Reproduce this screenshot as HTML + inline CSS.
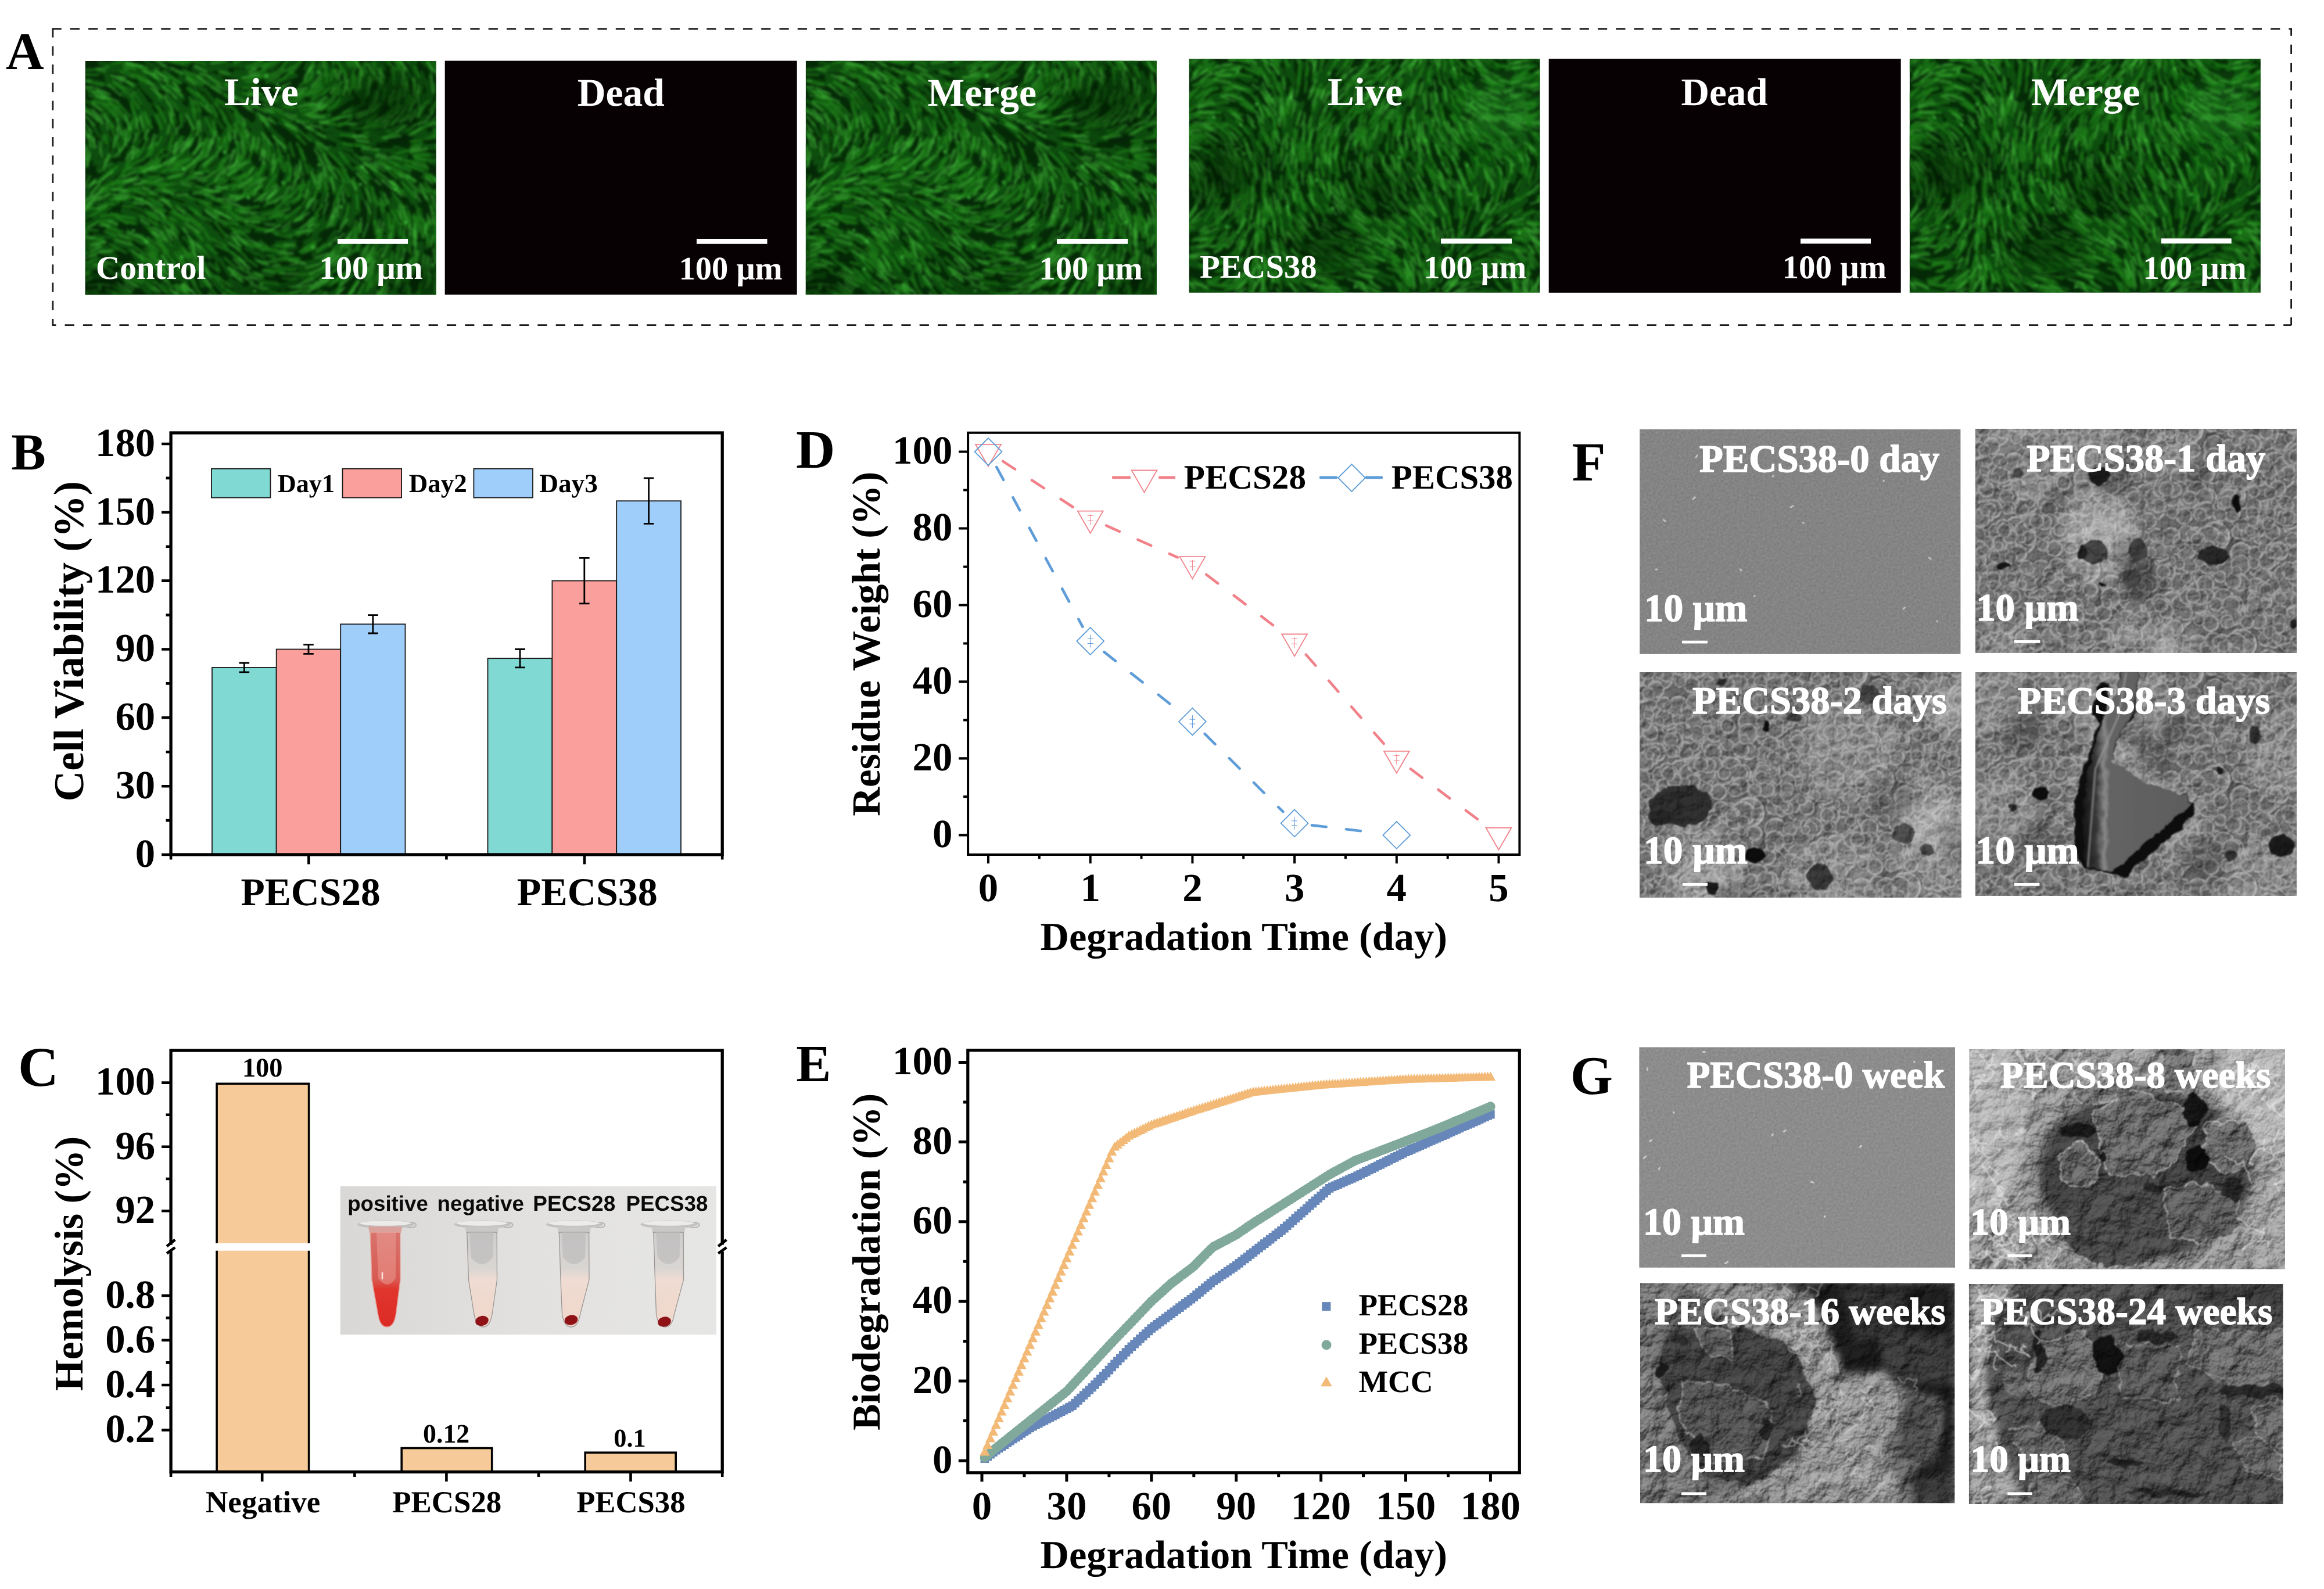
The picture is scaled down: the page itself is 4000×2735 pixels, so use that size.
<!DOCTYPE html>
<html><head><meta charset="utf-8"><title>Figure</title>
<style>
html,body{margin:0;padding:0;background:#fff}
svg{display:block}
text{font-family:"Liberation Serif",serif;font-weight:bold}
</style></head><body>
<svg width="4000" height="2735" viewBox="0 0 4000 2735" text-rendering="geometricPrecision">
<defs><clipPath id="clipA"><rect width="604.2" height="402.6"/></clipPath><filter id="blurA" x="-2%" y="-2%" width="104%" height="104%"><feGaussianBlur stdDeviation="2.1"/></filter><filter id="blurD" x="-50%" y="-50%" width="200%" height="200%"><feGaussianBlur stdDeviation="22"/></filter><g id="gA" clip-path="url(#clipA)"><rect width="604.2" height="402.6" fill="#052907"/><g filter="url(#blurA)" fill="none" stroke-linecap="round"><path d="M192 252l-21 -27M614 101l15 -14M24 72l14 20M499 311l-9 22M94 137l-12 16M83 365l-21 -15M581 404l3 19M144 301l-21 -17M176 -3l17 1M146 115l-9 24M298 229l-18 4M179 81l12 26M287 126l0 30M379 287l-33 10M12 70l26 9M305 120l9 19M536 405l2 19M365 79l30 -4M164 187l-27 6M189 195l-33 11M297 398l-29 -8M303 274l-22 -4M-2 169l-4 29M421 375l-26 16M337 136l10 15M324 257l-22 5M452 214l5 16M158 126l-19 24M148 405l-15 -21M455 97l18 -8M454 323l-9 23M270 201l-15 11M507 16l-6 -25M81 365l-15 -13M273 -4l29 -12M71 312l-26 -16M410 398l-14 10M534 36l-7 -21M398 301l-20 11M553 -2l-19 -11M606 70l11 -28M385 180l12 32M27 111l10 28M421 114l28 -7M346 334l-23 -2M119 298l-19 -19M32 367l-31 8M238 125l-2 28M577 329l-8 27M177 222l-28 -2M466 344l-20 22M31 109l12 27M-9 355l-20 15M460 29l-6 -36M400 213l-5 20M33 350l-23 -6M471 195l23 25M477 154l27 7M162 375l-21 -19M51 131l-4 33M358 94l32 12M542 65l11 -26M263 170l-14 25M36 7l19 6M496 354l-10 26M390 63l27 -26M563 5l-24 -25M557 389l-5 25M330 73l27 9M538 380l-6 27M25 231l-27 13M311 179l-9 23M135 179l-16 6M125 21l17 5M-4 297l-31 15M87 94l-0 19M73 405l-16 -12M255 224l-16 7M394 359l-23 1M490 77l9 -25M36 30l29 15M339 61l22 -3M216 39l26 21M416 28l13 -24M482 337l-15 25M84 245l-17 -4M499 84l12 -27M607 269l-0 22M77 319l-30 -15M226 67l15 13M267 323l-26 -15M2 300l-28 13M276 18l31 -19M463 288l-23 30M159 362l-7 -20M394 3l-3 -21M513 51l-3 -37M572 398l3 29M613 55l0 -29M607 299l1 33M555 357l1 19M146 295l-27 -17M240 188l-21 16M196 84l3 26M542 93l16 -17M551 216l17 23M179 161l-17 20M592 242l10 22M447 52l12 -25M380 39l21 -22M573 94l15 -30M520 263l-2 28M107 211l-19 2M523 101l14 -13M467 174l25 28M3 401l-27 9M453 246l-1 32M266 298l-24 -17M506 173l26 11M435 240l-6 16M609 174l16 10M-7 364l-27 9M372 154l3 16M222 309l-17 -26M83 153l-11 17M51 352l-32 -14M235 86l17 31M321 174l-3 30M473 402l-9 26M127 63l20 25M275 140l0 17M165 200l-27 3M483 128l37 -9M419 188l11 22M340 60l31 -13M88 272l-20 -1M498 153l32 1M520 94l24 -27M131 6l17 9M-4 124l13 11M558 124l23 -6M53 5l25 5M328 393l-25 3M530 63l-1 -34M254 219l-29 4M315 202l-13 16M564 138l18 -7M205 11l38 5M83 84l11 19M0 68l29 16M184 317l-15 -13M351 17l7 -23M479 186l9 15M335 106l14 8M423 317l-30 16M366 214l-19 20M527 336l-3 20M570 324l-11 32M539 64l-0 -30M430 345l-19 21M440 10l-14 -33M312 112l28 24M134 235l-23 -6M470 308l1 18M568 23l-7 -26M488 30l-8 -15M173 89l15 25M399 264l-12 11M340 165l2 24M332 224l-16 10M60 305l-23 -2M266 286l-18 -15M350 405l-32 -5M586 393l-2 22M206 185l-19 10M229 133l-5 26M277 277l-31 -11M29 304l-24 8M324 291l-29 1M176 156l-22 20M322 68l25 1M584 279l2 20M348 266l-17 7M530 362l-1 19M379 13l12 -28M352 178l-10 36M614 84l8 -19M548 406l0 18M205 385l-12 -24M451 329l-17 25M521 401l-6 29M236 310l-24 -26M140 43l22 23M340 218l-27 26M119 381l-14 -15M609 380l3 20M446 197l20 29M79 308l-20 -6M78 12l25 14M387 131l23 19M552 218l13 16M567 264l5 28M285 174l-8 15M103 189l-29 3M350 355l-31 1M116 242l-28 -2M506 349l-15 29M544 208l17 15M490 243l-2 30M201 -0l34 10M259 18l26 -0M418 132l30 11M286 124l11 34M3 297l-33 18M392 322l-16 5M406 339l-20 11M435 123l28 6M215 42l28 18M481 217l11 23M383 351l-32 8M524 76l8 -25M161 -1l18 4M435 146l25 9M142 366l-15 -19M394 103l31 -0M-7 279l-22 28M611 274l-6 34M306 123l9 23M436 372l-20 12M540 2l-19 -10M572 315l-2 32M538 188l25 20M175 386l-17 -27M43 191l-20 18M328 224l-19 26M462 230l6 32M228 265l-25 -18M216 286l-15 -10M261 262l-22 -4M293 219l-31 17M553 224l10 20M224 185l-16 3M250 409l-21 -20M608 349l-2 19M543 3l-25 -21M287 109l7 19M500 134l29 -10M55 207l-28 18M34 226l-22 22M188 290l-18 -20M213 324l-16 -20M280 34l17 -1M443 353l-15 7M438 264l-10 19M454 55l10 -28M107 33l31 17M293 107l13 21M39 36l24 12M424 157l18 21M390 211l-5 33M130 114l3 37M204 310l-16 -18M123 357l-11 -15M253 42l25 2M541 11l-18 -29M156 167l-16 12M547 122l36 -3M88 279l-36 -8M522 241l9 25M495 330l-11 16M453 298l-10 17M292 188l-12 21M322 84l33 18M159 249l-25 -11M169 132l-13 22M136 351l-22 -18M527 158l16 2M306 99l20 25M14 225l-11 12M200 128l-2 18M604 409l9 27M408 206l4 19M579 76l-1 -38M213 254l-23 -3M122 324l-25 -24M282 109l22 25M118 323l-14 -16M583 192l27 13M430 294l-11 16M586 347l-4 15M198 282l-22 -8M128 91l3 24M85 74l20 19M199 221l-37 -5M362 5l1 -19M-4 340l-18 7M348 84l23 3M59 176l-13 10M363 401l-24 -3M432 75l28 -12M341 108l27 23M364 401l-25 7M592 281l1 36M601 281l5 35M271 22l25 -4M62 146l-4 17M12 48l31 19M577 399l4 30M562 350l-13 30M53 287l-22 -6M177 47l24 29M409 162l15 24M139 85l-0 20M377 210l-10 29M39 95l14 25M280 257l-37 -6M258 58l24 13M202 324l-16 -12M215 227l-18 1M528 249l5 31M613 53l-2 -19M212 132l-8 20M49 327l-26 -12M297 132l10 31M600 117l28 -24M408 412l-24 13M265 36l27 7M293 333l-20 -21M477 67l8 -15M341 364l-32 -4M236 22l33 2M471 137l27 6M425 190l10 17M234 192l-26 13M124 335l-11 -13M201 355l-19 -23M534 64l5 -18M593 72l5 -32M91 264l-25 -9M181 71l15 24M448 194l10 19M408 118l31 4M129 346l-11 -16M10 143l13 33M279 171l-8 16M544 339l-1 35M131 24l32 12M534 192l23 6M329 177l-7 30M78 203l-18 7M454 6l-8 -16M343 11l11 -21M578 388l-1 29M174 238l-22 -5M236 4l36 2M482 123l32 -14M448 28l3 -33M510 226l6 20M62 124l-1 26M385 126l22 17M151 202l-22 5M42 267l-27 13M544 265l12 20M150 341l-12 -35M404 307l-27 14M65 236l-22 5M412 52l15 -19M364 93l32 4M556 80l13 -26M211 384l-15 -15M508 246l9 34M331 190l-18 29M10 232l-14 15M265 22l20 -1M604 309l1 25M70 174l-21 14M532 281l-1 20M467 47l7 -30M159 73l21 27M201 388l-6 -22M57 274l-23 1M406 83l18 -7M94 16l31 15M234 40l18 6M411 7l-2 -21M361 266l-34 16M199 262l-15 -10M4 33l36 7M448 370l-9 14M114 404l-19 -17M524 272l-2 32M281 230l-31 5M91 215l-16 4M68 319l-17 -5M205 164l-16 8M307 11l22 -19M227 167l-20 16M513 115l33 -19M579 313l2 32M127 407l-17 -28M512 73l6 -21M106 393l-22 -15M206 49l20 27M135 138l-5 17M587 42l-8 -22M23 215l-12 13M407 105l27 -6M438 60l26 -27M319 146l3 22M515 13l-19 -21M180 338l-21 -29M178 30l25 20M400 370l-21 8M99 268l-35 -1M66 269l-20 -4M34 79l21 20M419 192l14 27M57 98l8 23M474 282l-7 20M80 107l4 16M83 233l-28 3M359 225l-17 14M516 303l-5 21M563 160l29 6M0 401l-22 12M593 72l11 -30M520 4l-22 -15M338 101l18 12M296 99l7 15M146 73l9 32M7 326l-21 11M146 326l-14 -15M54 324l-19 -1M387 44l8 -24M335 92l16 5M371 408l-21 2M111 395l-18 -16M462 233l-2 35M549 352l-7 27M49 179l-24 26M541 101l23 -18M-9 233l-16 21M404 48l17 -30M456 90l24 -18M416 353l-29 18M589 147l19 -2M555 47l-5 -20M20 15l26 13M150 189l-36 1M114 379l-26 -18M439 191l23 23M601 380l5 23M305 372l-15 -8M93 224l-27 3M64 300l-26 -9M262 141l-3 32M34 303l-17 -2M318 89l20 11M182 74l5 28M91 50l15 23M526 173l33 12M72 402l-24 -5M468 249l-13 34M175 293l-23 -23M392 100l26 -1M544 38l-6 -22M285 175l-9 16M411 269l-17 30M248 129l-4 22M217 88l20 27M329 382l-23 -3M538 348l-5 21M160 297l-24 -24M451 340l-12 13M224 303l-21 -27M551 71l5 -18M419 276l-12 14M396 360l-32 11M500 385l-15 30M517 412l-4 26M518 283l6 25M137 120l-8 29M374 272l-19 2M532 252l6 26M581 200l26 7M110 370l-13 -16M110 75l4 16M204 311l-28 -24M15 239l-20 18M570 59l-3 -26M475 95l27 -19M362 321l-21 2M21 276l-19 10M506 399l-10 23M153 217l-19 -1M53 336l-22 -5M133 208l-30 8M181 130l-11 34M24 151l-8 26M571 120l20 -13M135 209l-27 -0M535 272l6 25M495 97l12 -18M573 68l7 -21M600 357l5 34M170 224l-31 -7M149 96l-0 23M529 209l14 17M481 133l32 -3M614 298l-1 19M173 -5l18 4M263 396l-16 -16M417 78l31 -16M582 365l0 24M246 45l26 9M70 123l-7 29M586 150l34 -3M76 116l-1 21M518 180l28 15M419 87l27 -17M195 166l-21 23M538 377l-10 30M39 251l-28 5M-1 144l1 32M199 1l27 3M576 96l8 -37M224 155l-26 28M219 325l-7 -22M590 51l5 -31M549 220l20 22M447 324l-14 18M104 260l-24 -11M423 39l7 -25M199 254l-25 -13M31 150l-1 23M508 293l-4 25M201 296l-23 -20M83 382l-19 -11M498 310l-7 30M221 307l-22 -11M3 280l-22 7M326 159l5 29M475 16l-9 -16M478 394l-6 22M259 85l6 21M543 327l-6 24M21 59l31 16M392 198l-3 27M385 116l28 16M357 315l-34 4M197 252l-22 -7M329 193l-3 23M443 10l-13 -26M139 32l19 14M403 -1l-7 -16M218 35l18 8M275 25l35 -1M162 326l-13 -27M283 290l-20 -5M123 143l-24 11M268 61l14 14M512 247l5 36M324 155l-6 29M-1 322l-26 8M40 132l-2 27M119 296l-22 -20M355 67l33 -18M249 52l24 7M603 224l21 28M96 11l23 6M7 118l7 23M601 -4l-17 -13M389 403l-36 13M220 332l-28 -21M584 221l22 18M283 186l-27 26M525 284l-2 26M393 195l0 23M286 197l-24 26M379 87l19 4M322 402l-32 -3M37 270l-21 -0M225 385l-20 -31M49 233l-15 9M62 178l-15 15M306 199l-15 23M268 10l31 -16M32 370l-34 -0M498 346l-13 34M410 34l6 -23M525 4l-15 -18M329 326l-20 0M562 152l26 8M421 148l25 16M7 259l-18 10M495 35l-5 -29M19 65l24 21M100 85l8 23M170 279l-23 -18M123 167l-20 28M269 113l6 19M528 166l27 11M597 371l-3 35M231 307l-18 -20M131 203l-28 -5M613 51l2 -16M266 142l-7 27M266 95l8 15M243 9l36 -2M596 394l2 26M124 272l-15 -11M484 45l2 -26M249 369l-18 -29M135 135l-26 26M163 27l20 14M586 234l20 23M324 388l-17 -3M138 97l-2 21M69 274l-31 -5M440 166l22 21M579 131l15 -6M327 205l-23 28M322 146l5 17M610 372l0 23M586 366l-2 27M187 24l25 10M527 397l-10 34M361 311l-31 2M590 371l-4 37M109 220l-27 1M415 128l24 1M99 39l31 21M392 198l-5 26M384 57l24 -11M442 369l-22 17M587 383l-0 33M113 273l-8 -17M603 130l17 -11M517 361l-1 26M205 331l-25 -27M567 129l19 -7M143 179l-16 13M217 -9l28 2M146 40l14 19M94 38l28 23M48 228l-27 5M595 13l-15 -13M267 387l-17 -10M467 55l12 -31M91 131l-18 30M354 183l-4 20M371 -7l-1 -27M348 218l-21 25M231 151l-11 14M220 24l21 12M274 168l-20 31M533 148l34 10M77 66l11 17M114 354l-20 -14M105 114l-0 21M612 48l5 -35M273 5l34 -11M303 187l-13 13M494 187l19 20M572 340l-6 20M355 75l22 -5M465 350l-10 13M344 220l-17 24M209 222l-21 3M610 -8l-18 -27M379 372l-26 7M166 221l-21 -4M570 17l-8 -25M131 20l26 20M162 367l-22 -19M281 197l-17 12M466 383l-18 30M13 277l-18 6M83 266l-19 -7M275 403l-27 -3M479 58l5 -24M611 78l15 -28M20 259l-24 14M235 179l-23 10M487 378l-10 21M478 68l8 -21M32 325l-26 6M236 186l-18 14M576 255l6 30M294 90l11 13M245 323l-19 -27M452 41l-4 -19M20 37l30 7M322 213l-23 26M161 318l-10 -20M246 85l13 24M72 411l-34 -11M563 -7l-28 -18M309 186l-22 27M242 120l3 28M349 292l-16 2M380 26l15 -28M370 371l-27 14M32 310l-25 -1M524 71l6 -35M569 278l0 24M434 151l29 22M540 100l22 -31M278 265l-19 -7M577 38l-13 -35M599 382l2 31M575 81l14 -24M94 -6l32 19M368 342l-23 -4M148 0l27 8M520 59l7 -29M539 79l8 -25M383 53l15 -15M402 188l3 36M58 208l-34 8M214 124l-6 16M410 283l-16 11M97 158l-9 14M268 166l-11 15M152 230l-17 -11M15 208l-21 29M320 14l20 -18M114 85l16 26M294 9l25 -9M447 241l-9 30M312 321l-17 -4M435 125l27 -1M373 249l-14 16M263 403l-29 -14M210 385l-12 -14M585 280l7 30M102 183l-34 12M187 13l32 17M100 75l12 29M162 73l8 30M203 61l20 29M468 212l9 25M202 347l-16 -19M461 45l-2 -27M260 103l13 28M313 134l6 27M247 198l-20 13M382 73l34 -10M34 154l-12 33M401 276l-25 12M433 211l1 27M313 70l26 0M182 25l23 13M196 -1l37 3M25 301l-24 12M264 182l-22 24M41 254l-26 10M115 56l13 12M440 391l-21 12M489 226l8 20M212 -0l18 -2M-10 240l-19 30M393 353l-29 18M35 262l-18 3M142 329l-20 -23M574 108l13 -13M355 14l12 -23M483 176l14 8M119 74l21 24M165 410l-19 -13M236 171l-22 19M610 324l3 34M144 323l-11 -16M437 187l21 30M563 32l-20 -32M28 65l22 16M431 35l9 -26M110 358l-12 -23M550 302l-2 23M56 242l-17 5M360 384l-28 1M219 102l2 17M127 345l-13 -14M405 200l2 17M235 200l-32 8M171 172l-27 18M499 246l-1 34M129 335l-19 -17M440 215l-1 22M63 132l-3 19M472 107l23 -13M88 168l-22 26M399 297l-14 13M119 61l24 23M564 403l0 37M241 140l1 36M472 61l9 -27M32 372l-31 -0M533 184l15 10M128 172l-25 19M89 222l-33 9M175 377l-18 -17M171 249l-36 -11M171 412l-12 -19M610 60l9 -20M539 403l-9 36M370 51l34 -14M411 55l10 -16M157 158l-24 22M553 306l2 19M392 20l5 -34M60 28l27 15M192 152l-18 23M444 56l3 -22M514 384l-11 33M398 343l-22 6M487 114l36 -13M435 321l-26 20M437 76l16 -15M12 108l12 21M534 159l19 4M64 218l-18 3M490 384l-9 20M342 390l-31 -1M151 401l-12 -13M21 311l-27 11M218 32l27 8M579 119l20 -15M529 236l10 27M367 83l26 2M447 143l32 2M522 315l-1 27M444 367l-13 10M558 362l-8 15M30 353l-19 1M49 223l-15 10M411 229l-5 18M596 275l4 35M223 254l-20 -9M194 111l4 22M341 264l-26 6M212 97l8 29M124 153l-11 12M11 361l-33 12M423 372l-11 13M191 9l25 8M351 250l-19 6M127 301l-19 -13M604 16l-11 -20M39 16l28 2M555 179l18 6M515 37l-4 -20M235 242l-26 -8M57 244l-15 6M81 78l7 27M169 222l-32 -10M450 161l23 18M220 255l-22 -12M15 223l-24 25M479 189l9 28M614 134l21 -10M544 251l7 25M263 56l17 5M101 84l9 32M18 -8l26 2M94 351l-17 -30M32 60l26 20M92 124l-5 27M564 338l-6 24M277 102l14 16M489 328l-13 35M5 146l6 22M178 199l-31 9M104 154l-14 11M331 155l3 18M366 407l-31 7M203 253l-28 -4M98 44l25 26M228 342l-14 -17M335 226l-17 18M268 378l-21 -20M560 225l11 26M195 -4l37 1M80 24l22 11M478 42l2 -33M521 283l4 35M378 37l20 -28M289 403l-18 -8M167 196l-24 5M470 348l-13 13M150 358l-16 -29M409 14l5 -18M568 402l0 19M64 57l16 8M570 23l-20 -32M168 352l-13 -18M480 323l-11 32M388 16l14 -29M36 345l-24 -5M162 71l23 27M567 145l21 1M506 73l15 -32M148 44l19 16M466 215l4 31M500 169l35 15M72 311l-22 -4M170 292l-14 -16M57 190l-20 19M138 94l2 19M88 54l23 29M445 24l-3 -21M131 248l-15 -9M539 168l31 10M54 281l-17 -0M590 130l20 -13M320 271l-32 8M209 367l-7 -18M512 402l-11 17M151 287l-22 -27M35 12l37 3M512 385l-2 22M239 22l33 9M25 3l21 4M400 46l14 -35M176 275l-25 -17M214 314l-22 -23M529 165l22 4M464 228l8 30M539 45l-6 -29M458 115l31 2M345 403l-23 3M259 191l-27 8M344 31l13 -11M208 -10l17 -2M460 355l-15 19M300 401l-21 -10M261 264l-28 -4M308 337l-30 -14M202 276l-21 -25M392 186l-5 32M171 336l-20 -17M82 8l25 3M140 301l-13 -12M280 20l32 -2M138 69l15 33M232 23l34 1M435 97l26 -18M412 279l-20 27M517 339l-10 35M157 341l-11 -20M527 398l7 31M569 167l16 5M84 100l1 25M141 43l28 22M531 186l17 18M589 351l-10 34M186 362l-24 -26M553 251l6 31M567 163l33 -1M567 182l21 4M109 99l0 21M425 54l16 -19M549 14l-15 -26M527 315l-15 29M281 55l21 2M520 405l4 24M472 292l-15 25M109 51l29 15M174 395l-20 -8M74 178l-20 14M203 103l5 19M4 47l32 14M273 204l-18 22M336 34l27 -9M178 180l-27 15M595 174l36 11M288 203l-25 13M51 131l-1 17M136 26l26 11M148 41l9 35M250 254l-28 -1M294 185l-17 21M261 231l-19 1M347 74l33 1M106 343l-31 -18M393 -3l-1 -20M177 356l-12 -10M28 351l-19 -0M41 405l-27 -5M486 8l-13 -33M10 253l-17 14M498 137l20 -1M98 377l-10 -14M112 215l-36 8M335 -4l10 -26M504 10l-16 -25M156 18l31 8M535 238l11 19M176 90l10 27M187 47l17 21" stroke="#17740f" stroke-width="7" opacity=".5"/><path d="M498 31l-1 -19M257 4l16 -7M397 316l-20 7M331 342l-17 -8M99 169l-27 16M99 309l-26 -17M218 77l9 18M362 359l-19 -0M571 61l-6 -31M559 393l-1 16M530 -9l-20 -11M44 163l-12 25M408 -7l-6 -24M179 274l-21 -12M536 14l-12 -8M57 294l-30 -16M43 71l24 22M69 45l16 9M257 92l15 21M185 83l5 16M187 116l-12 29M288 29l26 -7M451 406l-18 24M136 -4l15 4M494 218l4 23M207 136l-5 17M567 162l25 -1M523 264l1 24M412 315l-13 12M84 271l-28 -5M511 102l19 -18M340 101l24 13M550 171l25 3M125 -2l33 5M525 405l-3 17M245 267l-26 -10M413 187l6 21M407 58l25 -18M32 408l-26 -3M117 247l-22 -6M363 13l15 -26M484 -9l-16 -10M365 142l14 29M276 194l-23 10M468 236l1 18M219 134l-15 28M125 77l13 28M276 159l-16 26M39 167l-7 18M529 289l-1 21M586 198l29 13M178 47l17 14M495 364l-9 32M194 260l-15 -7M472 396l-14 30M547 257l5 23M167 179l-15 7M365 129l14 14M240 39l18 -0M425 201l3 27M398 84l13 -9M179 404l-7 -21M378 176l5 17M30 130l-1 15M258 355l-18 -16M141 57l19 28M338 401l-21 -3M364 11l10 -13M93 220l-21 2M589 215l16 16M603 300l4 29M325 62l22 0M514 67l2 -21M90 351l-13 -4M448 266l-8 18M329 196l-20 26M334 258l-29 8M44 329l-15 -1M154 -0l15 5M531 273l-2 20M551 72l6 -14M528 185l16 15M391 66l20 -12M427 1l-11 -32M330 347l-25 -2M594 196l21 19M260 105l1 14M610 404l9 22M161 266l-19 -23M528 216l12 12M561 147l18 -5M556 1l-16 -17M21 292l-26 -2M274 346l-18 -15M202 308l-12 -14M99 238l-18 -4M315 224l-14 12M268 318l-26 -19M523 1l-13 -12M282 251l-23 6M183 68l7 20M206 292l-11 -13M176 28l26 13M457 361l-11 16M461 303l-13 16M525 207l6 14M351 409l-21 7M409 82l20 -18M552 75l8 -14M245 116l4 23M538 323l-1 19M334 17l20 -27M303 289l-26 -8M570 173l17 6M471 317l-16 17M98 382l-19 -18M396 318l-19 8M288 209l-15 13M89 7l17 6M138 371l-12 -12M438 158l15 17M384 60l23 -21M65 208l-17 6M564 177l26 7M610 328l-12 28M324 48l29 5M56 72l22 24M122 92l9 24M389 372l-25 16M277 229l-16 3M367 4l3 -22M551 283l-3 25M440 394l-12 13M201 290l-24 -21M452 305l-19 25M612 57l2 -24M13 69l32 7M165 138l-22 15M567 296l-4 18M369 171l6 26M328 48l16 -4M422 33l5 -17M301 95l14 13M170 348l-8 -20M403 19l1 -16M329 382l-31 1M207 134l-5 28M533 179l27 11M435 335l-14 15M596 171l19 -2M372 390l-23 -1M182 396l-11 -14M288 72l18 13M455 57l4 -14M259 213l-31 6M483 19l-4 -15M182 135l-17 26M193 55l20 22M130 370l-15 -22M85 23l23 10M66 196l-22 17M106 139l-16 25M431 268l-6 16M69 -8l14 4M594 132l15 -10M315 352l-18 -9M153 289l-21 -21M278 272l-22 2M608 267l-3 18M536 256l15 29M418 83l13 -7M558 310l2 22M534 333l-1 21M28 91l20 22M465 14l-15 -24M334 218l-20 18M251 -6l17 -7M98 93l4 22M553 119l13 -7M132 259l-13 -9M-3 410l-26 15M378 213l-17 29M369 183l-10 26M79 398l-32 -11M473 128l14 -5M49 246l-27 1M271 117l8 24M156 224l-29 -4M368 340l-31 -0M138 331l-11 -14M240 283l-19 -23M184 168l-15 8M257 -0l27 -11M515 95l23 -20M22 400l-18 8M572 97l19 -28M556 52l-4 -25M520 121l27 -11M557 260l4 30M601 270l6 15M82 53l14 21M7 59l22 5M411 204l6 24M306 134l4 17M145 382l-13 -18M286 76l26 13M612 340l-8 33M143 212l-17 -2M443 185l13 24M270 208l-17 13M349 161l3 31M356 21l10 -14M370 296l-22 6M437 108l28 1M276 337l-12 -12M498 180l17 9M342 265l-24 5M335 263l-14 5M500 20l-7 -17M272 56l33 2M240 132l-5 17M348 239l-21 16M351 199l-9 16M113 348l-18 -14M432 258l-16 29M96 182l-30 6M25 393l-33 8M604 145l33 1M164 132l-15 17M82 104l-3 15M164 198l-18 3M409 248l-12 14M611 27l-11 -29M377 259l-15 15M9 366l-24 6M188 272l-13 -9M134 153l-13 13M35 128l1 14M229 225l-27 4M281 305l-15 -14M399 240l-7 16M297 192l-16 17M130 273l-19 -14M478 21l-12 -22M121 337l-18 -14M399 383l-22 14M79 72l8 29M123 53l6 13M508 359l-16 30M369 252l-24 18M70 360l-25 -22M413 151l20 20M93 155l-22 25M183 349l-13 -16M329 138l8 26M456 399l-12 20M33 311l-27 -8M294 217l-15 15M405 396l-25 15M561 342l-1 27M474 310l-6 17M490 309l-8 29M176 148l-25 21M268 272l-23 -14M93 380l-19 -18M123 306l-10 -12M310 176l-14 27M486 109l21 -10M46 176l-22 15M162 162l-14 14M602 402l-1 25M220 268l-12 -9M276 35l16 1M385 226l-9 19M256 0l17 -3M389 289l-24 12M290 181l-14 20M486 179l24 17M363 225l-13 10M585 406l-5 18M89 324l-12 -12M401 281l-19 18M367 233l-21 14M242 319l-23 -12M585 209l10 15M557 387l0 34M397 197l0 19M424 205l4 19M55 -2l32 10M464 161l20 16M468 182l12 16M8 360l-21 5M142 329l-16 -23M397 272l-13 9M74 406l-26 -4M238 99l15 22M481 178l21 11M295 353l-18 -13M368 -10l3 -17M585 410l8 30M524 127l15 -7M192 360l-5 -16M319 325l-18 -15M49 34l16 11M509 46l0 -33M386 78l31 -6M307 174l-10 28M248 162l-16 21M70 205l-23 3M535 411l2 19M170 170l-23 8M177 167l-16 10M395 312l-26 16M265 124l8 22M487 333l-12 20M251 255l-15 -5M230 276l-12 -9M23 358l-28 -6M183 334l-17 -12M341 78l20 2M230 379l-21 -20M238 388l-11 -10M300 268l-14 -4M309 351l-17 -10M608 64l13 -29M130 214l-32 -7M602 261l6 16M11 347l-21 4M88 203l-25 5M364 191l-4 18M35 200l-25 13M189 335l-10 -15M360 226l-14 15M495 113l15 -1M43 111l9 22M353 285l-12 8M116 363l-18 -18M214 243l-18 -3M402 76l22 -10M280 274l-26 -10M563 126l28 -17M512 291l-4 17M218 256l-17 -15M572 268l6 28M195 352l-17 -19M135 280l-16 -20M512 332l-9 15M255 330l-31 -13M-1 196l-19 17M365 64l25 -14M539 411l1 29M216 150l-17 20M494 344l-13 27M560 297l-3 14M238 380l-10 -10M585 134l18 -2M376 230l-18 15M272 47l28 -2M73 101l4 31M461 45l2 -29M604 151l18 -0M603 109l14 -8M29 60l13 7M323 128l12 14M613 291l5 15M215 339l-21 -24M524 371l-11 28M123 180l-23 12M100 16l25 12M144 353l-12 -16M272 75l16 6M321 80l24 13M62 236l-18 3M208 163l-15 10M2 331l-25 8M470 286l-9 24M248 272l-22 -14M150 124l-5 28M613 374l3 32M116 170l-22 18M591 270l-2 19M46 187l-15 16M341 409l-33 3M290 213l-17 14M249 59l12 8M467 304l-14 18M370 229l-15 13M103 90l4 19M312 37l22 -11M369 216l-15 19M511 132l29 -7M91 153l-18 21M70 221l-34 -1M534 215l14 11M299 21l28 -18M164 362l-17 -22M8 198l-7 16M125 274l-20 -14M441 205l12 28M394 47l12 -17M139 398l-18 -18M148 389l-14 -21M485 62l2 -24M401 266l-15 19M392 94l25 -1M269 -3l11 -10M39 223l-20 5M53 129l5 25M316 392l-32 -5M362 375l-22 -1M467 230l2 18M401 218l-8 19M31 75l25 17M548 292l-3 30M346 175l-3 14M117 151l-22 22M119 19l26 11M456 10l-10 -17M-9 146l7 24M6 36l23 6M344 409l-17 2M427 339l-25 20M20 342l-23 5M135 263l-12 -8M531 126l21 -16M407 410l-26 15M470 1l-4 -19M356 402l-31 5M590 337l-6 29M228 361l-15 -13M402 168l9 21M574 275l9 29M196 358l-12 -11M464 128l15 1M48 274l-29 3M444 142l15 4M424 199l3 16M585 291l6 20M339 410l-27 3M567 167l16 3M228 406l-16 -19M81 405l-19 -8M200 142l-13 18M104 232l-22 -10M273 109l10 18M554 205l16 14M278 302l-25 -15M463 8l-2 -19M361 71l24 -15M532 43l-2 -30M85 90l8 32M193 276l-25 -15M503 300l-2 14M528 258l13 23M289 321l-22 -13M580 408l3 25M384 249l-15 24M390 386l-29 12M575 28l-8 -18M281 52l15 1M128 356l-19 -25M589 112l22 -22M255 214l-15 0M26 253l-20 1M344 241l-14 10M399 379l-27 19M128 319l-20 -15M8 16l32 -6M573 220l15 15M227 66l29 17M495 223l9 23M263 139l-0 18M207 272l-20 -14M151 30l14 8M46 360l-28 -10M527 284l1 21M249 74l19 23M337 405l-30 3M46 211l-22 11M70 330l-28 -15M168 187l-21 2M200 191l-23 11M602 274l2 33M538 412l-2 24M526 77l6 -13M421 365l-15 12M611 346l-3 33M471 378l-16 20M134 249l-26 -14M159 294l-13 -23M111 181l-20 12M243 303l-20 -26M136 354l-24 -21M127 198l-17 3M205 411l-18 -26M30 306l-14 -0M37 251l-27 16M326 227l-12 9M429 79l9 -13M430 183l19 27M509 324l-14 25M572 268l0 15M510 167l29 12M392 1l-8 -23M5 403l-25 2M136 161l-16 19M424 333l-26 20M539 189l30 17M212 135l-13 23M298 64l25 8M536 158l19 -3M600 204l22 14M289 201l-18 17M531 208l20 24M500 234l3 14M474 146l17 2M140 227l-21 -5M187 328l-7 -18M393 58l16 -12M427 4l-10 -25M365 399l-33 2M281 311l-21 -9M239 182l-15 9M190 126l-9 20M131 131l-7 14M49 37l25 17M257 181l-10 16M450 25l-17 -25M386 32l6 -13M559 76l2 -16M399 145l15 17M570 403l-2 24M556 95l17 -13M140 41l24 11M352 141l7 23M187 202l-23 6M191 390l-11 -17M48 77l21 26M589 299l-1 23M348 320l-19 -2M531 405l1 16M459 48l2 -24M272 410l-28 -16M467 11l-7 -28M547 210l21 25M537 90l9 -14M376 392l-31 10M396 407l-14 10M197 240l-18 -5M320 7l16 -11M431 331l-15 14M492 379l-6 14M127 177l-15 8M86 388l-18 -9M601 121l19 -14M160 178l-28 13M355 185l-3 23M558 85l9 -23M612 97l15 -12M166 130l-13 25M572 255l3 21M565 73l11 -27M560 139l20 -2M583 273l2 20M10 246l-19 14M116 229l-21 -4M118 395l-18 -19M71 184l-13 17M115 340l-25 -17M585 359l-1 14M392 -8l3 -32M121 207l-30 -4M306 82l19 7M598 16l-11 -20M390 390l-13 6M542 15l-15 -25M242 129l1 26M413 169l7 17M66 10l20 5M348 337l-31 8M76 113l2 20M407 94l15 -1M91 25l13 8M173 259l-17 -9M268 346l-18 -17M227 332l-17 -15M315 145l2 18M102 89l13 26M577 383l-4 24M5 52l31 3M465 145l18 3M267 198l-13 6M77 57l16 24M212 360l-13 -21M47 75l8 16M28 320l-20 1M570 96l16 -25M114 152l-14 18M385 207l-5 17M508 237l8 12M517 184l20 19M563 290l4 28M334 22l29 -14M-4 16l16 -1M569 406l-3 33M167 351l-12 -22M149 317l-17 -23M473 309l-11 20M46 4l18 -2M465 49l1 -20M322 80l20 5M-8 245l-26 19M333 385l-17 -3M338 142l6 14M468 51l8 -29M219 168l-12 9M463 396l-16 14M274 313l-19 -9M497 69l11 -24M571 1l-19 -21M178 395l-11 -10M116 24l20 21M608 385l-1 29M289 145l-8 30M263 281l-30 -4M208 158l-14 9M290 130l4 25M303 202l-20 8M99 315l-29 -17M148 154l-9 11M310 31l28 -10M521 342l-9 28M214 173l-9 11M593 85l14 -17M295 31l25 -7M345 327l-19 -1M364 116l24 21M84 23l24 16M317 97l11 11M475 181l11 12M156 275l-12 -7M134 307l-24 -20M260 110l11 31M275 362l-14 -7M434 358l-22 15M305 12l20 -11M603 367l2 30M65 294l-27 -7M426 99l32 -6M375 203l-5 19M277 12l27 -13M72 280l-27 -18M2 348l-21 1M55 80l17 19M195 169l-14 24M251 247l-14 -3M211 387l-9 -15M217 275l-28 -13M104 309l-12 -8M546 5l-14 -7M322 38l14 -5M87 379l-25 -19M-10 129l5 17M418 357l-28 18M498 276l2 22M567 268l11 23M477 356l-11 28M61 18l22 11M222 116l-3 27M247 279l-23 -9M108 133l-6 13M145 87l11 32M255 110l21 26M564 267l6 29M176 402l-23 -14M415 36l3 -14M441 127l25 5M408 410l-18 11M113 173l-12 13M68 15l20 11M53 301l-19 -7M160 211l-19 2M126 169l-14 11M125 140l-16 13M315 140l1 33M183 0l24 6M73 7l31 7M-6 265l-21 17M96 92l4 29M502 321l-15 27M19 394l-27 5M327 212l-15 17M412 26l5 -22M268 273l-14 -8M276 150l-9 18M318 29l23 -21M186 410l-19 -21M214 307l-11 -18M469 407l-12 29M364 105l21 -0M545 -8l-17 -10M479 383l-13 27M241 41l15 7M479 116l20 -7M93 31l23 10M217 245l-18 -3M566 165l28 7M527 111l9 -11M568 283l2 21M467 296l-8 20M388 238l-8 14M164 92l2 21M72 36l11 10M591 365l4 17M238 168l-9 19M398 322l-26 9M100 376l-18 -19M251 251l-18 -9M222 105l-0 16M330 295l-26 -6M577 211l14 15M507 291l-3 16M466 184l21 19M437 377l-15 8M371 86l21 -5M231 204l-22 11M544 341l-10 24M187 211l-23 -3M547 24l-10 -27M335 165l3 19M517 351l-14 27M337 260l-20 3M258 117l-3 16M221 105l8 31M387 18l9 -31M408 193l10 26M503 62l4 -29M535 66l14 -27M484 409l-5 20M484 106l18 -13M307 144l6 25M142 214l-18 4M83 234l-28 7M503 34l-5 -32M346 110l19 12M77 223l-16 4M114 158l-11 9M127 327l-22 -17M-4 79l17 8M425 63l16 -26M571 329l-5 28M311 25l30 -11M43 85l15 16M169 16l31 12M179 63l11 10M397 147l14 13M-3 402l-23 11M65 52l21 8M439 312l-12 12M452 128l22 3M4 403l-13 10M355 304l-29 -6M595 405l-0 31M335 61l17 -3M238 201l-27 13M404 108l27 -0M32 327l-23 6M269 375l-20 -19M176 406l-18 -22M279 125l4 29M95 88l6 28M506 172l27 16M453 250l-7 29M198 71l13 15M55 182l-14 13M462 201l5 20M280 230l-31 2M177 276l-27 -16M193 169l-27 18M529 227l20 25M136 17l20 15M270 29l22 1M271 157l-15 25M444 321l-17 9M331 169l-9 26M350 359l-20 -2M305 322l-14 -8M139 258l-31 -14M340 31l14 -13M206 97l12 25M442 216l-14 31M529 328l-2 21M550 11l-17 -28M-2 82l24 22M321 325l-27 -4M85 280l-18 -4M110 373l-11 -13M424 372l-24 19M217 222l-27 -7M491 42l-2 -14M285 228l-27 12M485 93l18 -17M559 372l-11 25M450 364l-25 17M240 57l19 18M305 215l-27 19M573 274l2 16M13 38l18 3M322 370l-26 -4M65 121l4 21M501 406l1 17M190 69l8 17M192 393l-9 -27M28 385l-23 1M250 388l-25 -18M428 64l10 -19M341 364l-31 -5M243 245l-25 -8M351 70l19 -3M551 179l29 10M220 -5l32 -4M309 271l-25 -1M232 132l-3 16M442 -5l-8 -30M231 362l-6 -14M351 232l-12 9M545 278l-4 24M123 333l-22 -21M426 65l14 -15M502 330l-22 16M554 206l19 21M205 338l-21 -22M504 366l-1 17M317 382l-16 -2M281 195l-19 11M1 298l-21 7M8 355l-32 1M375 92l29 1M437 112l21 -12M500 275l2 22M459 1l-10 -16M15 91l16 16M393 366l-22 2M603 223l21 26M173 23l19 12M212 189l-21 7M57 402l-21 -10M365 342l-33 1M-7 177l-1 18M282 294l-28 -0M586 195l14 10M306 412l-24 -5M481 112l33 -8M242 206l-13 8M68 375l-26 -12M37 66l17 15M299 250l-33 8M124 128l-13 24M-10 23l32 1M413 104l15 -3M435 174l14 14M146 92l4 15M579 285l1 19M81 101l-3 18M558 351l-9 25M305 375l-29 -12M287 12l30 -8M56 263l-29 4M114 347l-19 -14M79 251l-14 -2M276 148l-4 17M575 266l10 15M541 361l1 27M345 63l31 -7M140 176l-21 12M443 377l-8 17M370 42l20 -14M441 327l-25 21M508 241l5 18M133 308l-14 -15M471 279l-8 29M82 206l-25 11M614 331l-5 29M-8 89l12 9M155 3l25 -1M123 282l-28 -16M144 337l-19 -26M306 327l-24 -15M487 333l-23 22M265 180l-16 15M121 248l-27 -7M419 314l-19 14M225 73l16 26M466 275l-5 23M527 209l7 14M8 161l-5 21M277 175l-11 11M178 341l-10 -17M523 208l18 14M596 90l15 -30" stroke="#279622" stroke-width="4.2" opacity=".58"/><path d="M115 250l-13 -8M278 316l-21 -20M353 278l-13 9M417 244l-7 19M259 -8l19 -13M272 380l-20 -13M393 83l15 -11M92 151l-10 10M507 274l-3 20M199 364l-3 -14M154 166l-19 11M94 95l5 18M437 335l-15 13M89 302l-16 -7M596 339l-6 29M473 48l-0 -29M70 409l-21 -6M15 303l-25 3M36 312l-21 3M447 407l-13 19M131 296l-15 -10M385 96l27 1M252 271l-23 -9M208 205l-15 0M411 185l3 15M33 91l6 14M188 8l21 11M480 164l13 4M7 156l-3 25M488 58l3 -29M540 106l26 -11M89 125l-5 14M55 281l-15 -5M614 358l-5 27M97 211l-14 0M471 380l-9 13M487 316l-10 18M101 18l20 5M120 -1l18 10M225 270l-16 -11M299 377l-24 -5M252 411l-15 -10M196 103l4 18M147 251l-15 -12M599 54l-3 -29M444 224l1 18M144 242l-12 -5M37 352l-23 -1M108 118l-6 15M-6 101l17 22M515 113l8 -10M272 234l-13 6M158 141l-7 18M207 200l-19 1M445 297l-13 13M379 349l-18 -3M558 281l0 18M152 37l10 12M18 203l-13 14M445 58l3 -12M265 318l-13 -20M544 92l7 -14M223 410l-10 -11M475 270l-1 25M148 80l4 14M546 41l3 -29M282 362l-16 -21M399 124l14 7M493 88l15 -15M207 76l10 13M56 113l0 20M589 264l5 18M345 90l18 5M264 159l-7 22M401 73l14 -11M123 229l-24 -11M586 105l12 -17M8 127l11 21M514 133l29 -4M310 154l-4 22M311 201l-18 10M405 381l-18 8M281 59l15 0M42 386l-20 -2M41 160l-6 12M287 201l-23 17M2 149l-0 21M141 49l16 15M353 214l-8 15M139 380l-11 -19M461 129l25 2M310 82l11 5M225 122l-9 26M395 152l13 21M262 187l-17 9M367 79l24 -6M515 29l-10 -15M558 128l20 -13M249 122l1 14M416 398l-14 14M472 9l-9 -12M85 149l-15 20M162 113l-7 12M138 269l-24 -17M-4 35l13 -1M445 89l13 -5M467 94l15 -9M13 54l19 12M349 96l21 8M173 397l-8 -12M13 232l-15 10M202 156l-19 21M371 397l-19 2M152 229l-18 -7M222 164l-20 16M248 -4l21 -13M454 108l13 -0M224 269l-17 -13M576 214l13 25M185 134l-7 15M344 108l19 9M222 191l-13 9M503 395l-3 19M259 120l-0 21M361 317l-18 -1M452 50l-5 -23M599 323l4 25M183 138l-18 18M558 343l-3 17M465 -9l-11 -18M175 138l-11 17M437 238l-3 29M137 59l9 18M2 255l-22 10M277 174l-14 7M575 55l-2 -14M498 343l-15 24M263 173l-17 11M410 11l1 -16M171 139l-18 20M87 190l-22 11M404 378l-19 18M326 171l-4 19M477 406l-13 17M104 207l-14 4M466 136l22 3M404 105l15 1M17 280l-11 7M491 176l13 6M267 70l21 17M389 410l-26 9M75 305l-17 -6M155 375l-13 -7M99 238l-13 -1M497 23l-12 -19M567 351l-3 17M245 219l-22 -2M40 41l21 18M565 111l19 -6M304 124l17 20M463 130l14 -1M484 219l6 23M481 93l17 -21M119 126l-8 23M52 26l17 3M4 98l12 13M-2 211l-11 23M150 -3l25 0M217 4l27 -5M429 266l-9 19M140 366l-14 -24M447 -8l-11 -13M237 189l-14 17M356 332l-23 -2M379 75l23 -1M217 388l-13 -18M388 291l-24 4M145 110l-3 15M358 331l-22 -1M305 205l-15 26M361 59l15 -7M184 312l-15 -25M513 386l-7 26M71 142l-20 23M139 242l-12 -3M403 195l-2 16M520 317l-8 20M364 179l-4 18M509 395l-11 25M297 90l25 15M368 196l-13 25M3 126l8 22M477 150l28 3M422 56l8 -10M272 252l-18 -6M191 340l-7 -28M375 346l-21 5M256 62l20 8M234 224l-27 -2M360 367l-25 -1M25 321l-15 6M290 382l-21 -12M594 111l24 -13M392 377l-28 8M118 181l-19 10M378 29l15 -22M373 107l19 11M527 98l14 -21M446 390l-13 13M514 106l11 -12M203 140l-16 21M311 229l-20 12M324 130l20 19M496 338l-11 10M566 225l11 17M546 250l9 26M540 195l16 7M500 104l13 -9M608 182l13 7M134 202l-13 5M101 247l-17 -3M573 327l-5 28M276 119l5 12M537 363l-1 16M590 337l-1 13M272 74l10 10M258 179l-20 15M391 238l-10 11M71 1l27 8M355 407l-27 -4M518 408l-3 24M324 282l-14 -1M255 153l-5 16M498 75l4 -13M146 362l-6 -16M385 261l-25 16M290 132l-3 18M284 357l-20 -18M284 67l12 10M609 104l21 -12M604 380l-1 17M503 160l15 2M235 263l-12 -6M375 347l-24 -3M467 193l17 18M159 305l-12 -17M296 261l-29 -1M531 350l-7 14M482 241l9 22M114 46l20 17M389 191l7 19M474 182l12 10M196 295l-24 -15M395 281l-12 5M32 -7l22 3M429 251l-8 21M522 73l2 -12M47 326l-23 3M512 197l21 18M91 389l-22 -14M445 57l7 -24M498 75l5 -22M568 302l-1 16M13 84l17 17M300 277l-25 -1M54 101l8 26M550 324l-4 20M11 374l-23 11M72 224l-24 -3M132 375l-10 -8M15 132l2 18M265 317l-13 -18M497 353l-13 25M339 44l14 -6M80 366l-14 -10M141 350l-8 -15M257 239l-29 -2M135 363l-9 -12M194 103l-1 24M174 92l12 24M513 278l-3 12M41 283l-16 -0M89 99l-1 16M393 270l-22 18M191 407l-7 -13M432 27l-1 -12M418 405l-18 13M209 -8l24 3M383 221l-5 14M289 184l-7 10M305 151l-4 20M601 202l15 20M512 205l17 16M343 232l-20 11M370 176l-2 26M114 -4l20 3M587 202l11 9M499 205l9 8M429 333l-19 18M108 312l-20 -15M352 255l-12 4M599 17l-10 -15M217 44l16 10M458 323l-14 18M554 16l-13 -17M110 281l-14 -8M201 225l-16 4M411 162l17 24M395 237l-12 17M22 14l13 3M487 279l-9 25M17 235l-18 15M559 152l18 -3M541 105l16 -12M149 12l19 10M522 389l-10 22M24 317l-14 -1M121 15l12 11M512 39l-6 -20M496 320l-11 25M231 18l17 4M177 133l-3 14M326 366l-21 -5M500 164l26 3M565 338l-5 14M587 280l-2 17M305 371l-13 -6M116 24l26 13M422 201l7 21M-8 191l-7 27M18 46l25 12M91 198l-20 8M298 376l-16 -6M5 365l-26 10M18 208l-11 6M26 233l-18 12M45 24l19 12M108 35l17 15M432 405l-18 19M313 392l-14 -2M417 378l-15 6M418 229l-4 13M264 248l-20 -7M165 413l-9 -17M569 293l0 22M599 301l-4 18M140 310l-10 -13M560 156l28 -5M565 57l1 -27M47 191l-18 13M21 51l14 13M475 166l15 6M573 95l6 -17M557 86l12 -17M127 302l-10 -7M451 273l-15 22M330 223l-18 18M610 96l13 -23M456 299l-15 21M258 369l-12 -14M306 393l-22 -11M380 386l-25 4M549 61l4 -24M60 30l24 11M419 375l-21 6M76 231l-27 0M89 204l-23 4M377 33l10 -22M188 174l-18 15M52 134l-3 14M100 342l-19 -16M404 349l-24 7M149 308l-12 -25M19 334l-20 5M544 366l-9 20M170 260l-11 -6M315 349l-19 -5M485 353l-5 23M271 371l-16 -12M537 72l6 -15M497 174l27 12M30 59l27 11M156 165l-14 15M381 92l28 -10M264 325l-17 -12M478 26l-4 -15M331 214l-16 20M257 153l-8 24M189 400l-22 -16M446 334l-19 19M548 406l-2 29M567 280l-1 23M609 31l-7 -14M526 206l12 11M0 45l13 -0M223 234l-17 -4M555 196l14 12M408 192l-5 27M298 133l-1 18M134 25l7 9M380 410l-17 4M79 375l-24 -11M24 138l4 26M398 140l21 11M511 39l-8 -11M68 5l19 2M390 45l16 -23M20 230l-23 12M302 -1l22 -19M78 316l-26 -8M574 79l-2 -26M335 351l-12 2M133 43l9 10M35 249l-14 5M-4 115l12 16M41 161l-10 23M537 222l8 11M221 138l-12 26M-1 216l-12 15M418 181l15 20M226 43l18 7M457 295l-8 26M529 108l12 -14M515 228l6 17M272 357l-16 -16M265 235l-16 -2M272 29l26 -5M0 294l-13 5M83 393l-15 -9M198 22l16 4M435 251l-10 18M284 24l11 -4M174 29l16 12M247 180l-19 19M468 99l15 -9M131 179l-19 9M400 159l14 25M480 176l23 13M158 403l-10 -10M566 -10l-22 -15M413 354l-27 13M302 98l14 14M541 308l-3 15M529 165l16 4M146 90l2 16M525 297l-2 14M325 161l-3 16M400 81l15 -5M386 111l21 3M406 383l-22 16M42 228l-18 12M331 240l-18 6M517 343l-7 13M459 205l7 17M394 392l-21 11M-8 84l22 8M17 95l12 12M69 93l8 25M570 305l-3 26M83 147l-2 21M46 350l-18 -6M594 365l-6 25M325 228l-23 13M214 28l18 12M233 148l-8 16M177 231l-19 -1M271 136l-1 18M303 317l-19 -9M227 224l-24 -1M141 70l9 12M32 219l-16 16M217 135l-5 14M129 397l-11 -8M72 235l-21 1M524 71l8 -20M271 98l4 12M182 215l-17 -4M199 323l-17 -15M461 368l-20 18M306 62l24 6M-3 280l-27 12M611 357l1 22M417 331l-22 8M72 392l-13 -6M193 27l20 14M151 298l-9 -8M10 247l-20 17M463 392l-8 11M415 408l-15 14M70 118l1 28M535 122l17 -10M358 52l23 -5M198 133l-5 18M282 19l12 -6M215 373l-9 -15M367 366l-26 0M559 105l10 -17M75 134l-13 20M434 302l-14 15M585 334l-7 24M541 248l3 24M171 193l-29 8M152 47l15 14M27 207l-17 23M202 194l-15 -2M336 283l-26 12M80 398l-25 -16M12 72l17 14M436 32l3 -15M305 74l16 7M431 100l26 -6M37 106l3 12M387 384l-20 6M417 406l-12 9M306 154l2 20M595 250l4 29M379 114l15 5M427 328l-20 16M565 288l2 17M596 232l10 23" stroke="#4ccc44" stroke-width="2.8" opacity=".58"/><path d="M169 185h.1M331 41h.1M303 385h.1M340 209h.1M477 182h.1M166 338h.1M101 358h.1M534 221h.1M312 26h.1M105 311h.1M440 251h.1M83 292h.1M598 351h.1M402 179h.1M256 62h.1M25 390h.1M240 157h.1M292 396h.1M552 278h.1M474 212h.1M392 320h.1M402 20h.1M281 236h.1M406 375h.1" stroke="#4fe04a" stroke-width="4"/></g><g filter="url(#blurD)" fill="#021a02" opacity=".6"><ellipse cx="520" cy="70" rx="70" ry="45"/><ellipse cx="20" cy="390" rx="60" ry="30"/><ellipse cx="580" cy="380" rx="50" ry="30"/><ellipse cx="330" cy="395" rx="70" ry="18"/></g></g><g id="gB" clip-path="url(#clipA)"><rect width="604.2" height="402.6" fill="#052907"/><g filter="url(#blurA)" fill="none" stroke-linecap="round"><path d="M526 233l3 -38M175 183l3 -21M282 88l21 -27M451 391l18 -27M205 376l-14 -9M262 80l17 -21M159 59l-13 -16M378 323l-13 -19M347 377l-35 -13M93 76l-27 -25M87 55l-20 -8M281 154l12 -33M512 11l-16 -14M180 210l5 -31M511 397l29 24M334 333l-21 -22M383 42l10 -23M172 202l2 -23M-4 221l-3 -17M555 185l-10 -24M116 370l11 -32M132 141l-10 -14M434 211l-20 -26M336 339l-28 -11M77 151l-23 -30M130 96l-12 -20M353 189l-3 -20M593 386l-3 17M90 135l-11 -20M523 375l15 17M-0 386l28 19M14 144l-36 3M93 372l5 -28M148 369l0 -23M289 211l-8 -22M22 159l-31 -17M66 191l-3 -16M308 226l-4 -16M45 40l-16 8M602 314l23 30M33 282l10 -29M517 276l12 -16M365 112l6 -27M81 26l-19 -0M198 307l-9 -14M516 201l-13 -32M608 97l-30 4M537 49l-17 -4M125 181l-9 -24M426 375l6 -18M446 2l-3 -17M480 250l-6 -30M201 369l-24 -8M250 196l4 -32M601 244l30 -13M565 382l2 33M561 203l-5 -26M394 86l9 -36M294 214l-3 -18M561 279l24 -5M397 226l-9 -28M391 181l-6 -22M222 59l17 -29M10 287l12 -11M229 163l8 -22M35 255l9 -24M91 261l4 -23M449 14l-0 -32M263 410l-28 0M242 221l-0 -34M108 403l12 -21M499 115l-14 -8M220 282l-19 -32M499 362l17 1M535 270l10 -14M20 314l20 -8M54 102l-19 2M292 226l-8 -19M609 35l-18 5M488 340l32 -19M399 259l-12 -18M199 399l-19 -18M184 184l3 -35M175 250l-5 -16M170 29l-4 -27M358 292l-21 -24M7 80l-29 14M205 350l-19 -10M272 397l-33 -8M78 342l20 -29M493 286l15 -17M405 379l-0 -17M291 313l-24 -8M56 180l-24 -22M20 205l-21 -27M168 132l6 -36M572 130l-21 -2M166 140l-3 -17M8 295l18 -11M68 228l-0 -28M500 164l-18 -19M172 134l6 -35M80 211l-4 -24M198 266l-9 -35M290 356l-24 -5M387 149l-8 -33M505 -5l-26 -23M221 58l11 -26M375 167l-2 -30M124 1l-29 -6M372 34l16 -26M509 205l-6 -25M143 72l-15 -14M82 377l22 -14M254 315l-25 -12M207 124l2 -17M319 64l17 -11M154 113l-6 -31M323 154l4 -35M117 38l-32 -12M286 271l-23 -28M302 12l29 -24M264 342l-21 -16M524 90l-33 -13M520 116l-23 -7M285 372l-31 -13M526 232l10 -29M398 273l-21 -31M200 190l-4 -32M207 352l-30 -22M412 192l-14 -30M547 13l-18 -3M612 177l-19 -27M4 155l-16 -8M323 178l-3 -25M600 202l7 -16M214 103l13 -23M497 216l-8 -24M171 118l1 -16M61 147l-22 -9M118 316l5 -36M578 180l-11 -32M70 387l18 -7M110 141l-7 -19M168 366l-14 -21M313 113l20 -25M238 328l-21 -9M366 203l-18 -32M7 116l-29 17M505 396l23 9M542 44l-30 -9M311 118l9 -23M392 108l0 -37M414 363l2 -34M70 57l-31 8M519 397l28 13M365 256l-13 -17M465 267l-6 -32M82 112l-20 -15M462 271l-2 -36M150 127l-6 -29M441 362l11 -30M275 360l-33 -19M224 61l9 -33M327 376l-23 -13M2 95l-19 24M253 169l2 -23M274 320l-28 -11M341 240l-7 -25M137 97l-13 -18M435 208l-14 -23M567 339l19 17M102 38l-33 -15M502 203l-6 -30M214 237l-3 -19M109 90l-20 -20M176 389l-18 -17M348 251l-12 -12M75 139l-12 -12M102 6l-32 -11M149 288l-0 -27M239 19l15 -23M36 140l-25 -6M81 202l-11 -32M176 272l-7 -18M216 367l-20 -13M220 85l8 -14M27 -1l-14 15M170 108l6 -29M455 29l-9 -35M80 23l-31 -2M446 162l-15 -14M37 55l-24 18M559 391l7 30M549 85l-24 -6M393 295l-12 -20M62 68l-26 0M385 286l-13 -14M534 215l-1 -22M128 9l-21 -15M527 365l21 18M177 295l-4 -17M241 386l-31 -9M498 57l-14 -13M532 145l-22 -19M610 188l-8 -30M211 373l-26 -15M444 259l-3 -22M526 296l17 -8M103 247l-5 -26M312 310l-29 -19M372 300l-27 -17M270 42l13 -14M575 234l14 -17M397 255l-22 -21M402 146l-8 -33M423 392l7 -26M363 348l-27 -23M509 279l12 -16M13 183l-19 -12M142 48l-19 -31M186 229l-4 -29M312 176l-6 -26M82 99l-29 -16M470 388l33 -9M337 412l-23 -24M388 308l-16 -15M196 148l5 -33M68 15l-33 6M499 2l-26 -17M48 244l-1 -23M612 70l-28 15M228 362l-21 -12M453 10l-13 -30M491 154l-10 -17M501 -5l-29 -24M101 38l-19 -10M394 344l-6 -15M501 271l-1 -22M123 28l-23 -10M428 18l5 -30M88 14l-25 4M241 101l11 -31M602 175l-9 -20M488 378l20 -6M172 338l-13 -20M148 2l-22 -18M439 31l-4 -34M546 142l-24 -20M390 365l-11 -23M406 34l6 -20M340 239l-11 -17M594 213l18 -26M6 114l-28 9M597 284l28 5M272 234l-9 -18M539 134l-13 -19M319 250l-15 -16M531 17l-22 -8M224 372l-23 -6M412 46l8 -24M399 194l-4 -25M159 302l0 -28M302 62l15 -12M104 168l-5 -21M347 294l-26 -21M501 182l-21 -24M499 58l-16 -11M121 369l6 -26M555 306l32 1M516 198l-4 -20M402 412l4 -18M386 128l4 -29M339 200l-8 -36M24 63l-24 24M543 270l20 -21M424 354l7 -37M437 269l-5 -19M361 311l-14 -14M567 119l-18 -4M336 304l-31 -20M312 369l-19 -10M614 298l7 20M437 411l13 -32M528 300l24 -18M123 206l-12 -27M50 66l-27 14M609 144l-25 -24M12 398l20 13M133 223l-1 -25M44 352l21 0M405 333l-9 -25M459 273l-0 -16M145 135l-4 -18M252 289l-20 -11M493 87l-20 -25M257 238l-20 -28M506 350l32 3M441 111l-17 -33M396 19l3 -22M220 204l-0 -30M207 378l-23 -16M608 235l15 -12M32 8l-24 21M314 205l-13 -23M108 367l6 -25M72 41l-18 -1M488 314l24 -24M238 406l-19 -8M559 252l24 -29M118 176l-1 -33M255 122l13 -25M460 365l18 -25M373 199l-18 -25M352 63l17 -22M246 356l-27 -10M124 2l-22 -6M110 54l-32 -13M400 -4l27 -23M424 291l-8 -23M77 48l-26 -7M562 412l-8 30M269 9l11 -17M187 40l9 -32M463 310l5 -27M30 146l-26 -8M337 112l14 -27M596 272l28 -2M524 315l20 -6M320 343l-26 -26M434 269l-10 -29M454 134l-11 -16M384 359l-12 -21M20 189l-17 -15M-1 387l11 13M475 78l-12 -23M486 34l-18 -6M538 49l-23 -8M368 65l11 -31M235 264l-23 -21M153 94l-6 -26M392 61l6 -16M257 394l-24 -7M254 349l-16 -6M515 127l-17 -19M49 282l6 -18M396 268l-5 -18M478 92l-19 -23M58 180l-25 -23M0 70l-13 18M168 389l-11 -18M286 95l22 -25M261 366l-23 -11M340 205l-6 -22M150 383l-9 -34M235 140l8 -17M237 231l-11 -17M364 398l-13 -23M487 289l8 -19M333 289l-26 -11M71 396l33 -14M218 243l-6 -25M197 201l-1 -28M229 262l-11 -16M254 355l-30 -17M310 196l-10 -24M414 178l-2 -20M558 286l34 2M298 283l-24 -13M86 299l10 -21M590 108l-17 -0M291 24l16 -27M509 95l-21 -15M77 202l-15 -27M463 329l11 -16M46 14l-30 10M146 36l-22 -29M100 190l-9 -17M293 104l23 -27M424 4l6 -32M296 -6l10 -16M422 306l-8 -23M146 289l4 -28M345 388l-33 -18M177 37l-5 -25M299 284l-23 -11M482 150l-16 -27M335 407l-25 -16M167 76l-8 -34M597 25l-30 14M30 161l-16 -11M312 60l27 -22M165 43l-6 -25M169 291l-6 -32M249 344l-24 -11M230 380l-24 -17M78 256l6 -23M317 156l-1 -31M598 12l-36 8M99 262l15 -25M313 280l-27 -18M164 101l1 -28M492 358l17 -8M28 134l-36 -1M581 45l-22 2M194 315l-16 -27M508 179l-12 -17M610 288l18 10M168 377l-13 -23M595 36l-25 4M217 356l-17 -14M508 -10l-15 -11M188 103l8 -27M314 -4l24 -23M213 113l10 -31M4 398l14 9M74 227l-1 -18M558 248l10 -18M293 354l-29 -5M524 243l8 -36M416 265l-18 -24M459 43l-6 -21M141 359l-4 -28M494 182l-9 -17M206 -2l1 -36M232 32l12 -27M377 302l-10 -13M399 110l-2 -32M450 386l22 -16M328 403l-18 -8M374 79l14 -35M314 342l-20 -7M168 308l-3 -16M298 304l-28 -20M119 281l4 -20M175 178l-0 -18M318 96l21 -19M336 335l-24 -15M580 105l-20 -8M279 372l-22 4M243 323l-20 -6M459 98l-16 -27M372 387l-10 -20M424 343l-7 -36M312 253l-25 -18M589 410l-9 24M569 194l-8 -33M416 374l7 -23M30 172l-23 -23M442 288l-9 -23M558 212l4 -32M500 127l-18 -14M382 66l16 -21M227 359l-16 -8M115 391l7 -19M14 120l-29 12M567 367l10 14M485 256l8 -27M386 207l-9 -19M392 296l-26 -24M493 259l7 -30M22 63l-22 10M548 103l-35 -2M236 185l7 -36M260 130l10 -21M502 1l-26 -23M459 180l-8 -15M387 58l3 -28M60 346l15 -11M382 38l18 -21M293 174l6 -19M393 305l-15 -25M524 244l6 -30M90 108l-14 -16M460 380l23 -23M482 382l21 -1M310 -3l19 -18M378 8l11 -28M486 255l-2 -23M315 74l12 -13M407 408l-3 -27M126 386l11 -32M385 34l17 -28M552 324l23 7M113 374l1 -17M422 -0l13 -22M361 24l26 -24M363 284l-13 -13M607 270l22 0M123 151l-1 -24M465 145l-13 -20M320 -6l22 -19M354 131l-0 -20M291 277l-23 -22M344 319l-28 -21M107 243l1 -21M556 261l18 -11M41 117l-33 -3M575 372l7 37M362 131l1 -33M63 20l-22 15M561 246l16 -28M531 318l22 -1M189 44l4 -33M440 78l-4 -17M551 295l17 2M518 -6l-18 -16M114 306l6 -17M360 216l-13 -22M-7 413l13 23M370 232l-9 -24M242 246l-8 -20M15 292l26 -20M269 10l6 -17M-10 -5l-14 17M442 390l12 -15M528 102l-25 -13M89 274l8 -19M236 385l-18 -7M34 348l33 -6M600 241l26 -15M379 288l-15 -8M42 307l12 -21M141 395l7 -37M316 400l-23 -15M-10 183l-35 -13M376 116l3 -22M33 387l33 7M217 279l-11 -18M305 411l-17 -5M485 235l-12 -28M156 376l-11 -30M28 217l-3 -20M34 284l11 -24M428 357l3 -26M296 354l-28 -9M150 10l-14 -30M59 170l-18 -18M304 158l6 -36M314 43l19 -18M481 86l-16 -15M64 88l-27 3M229 244l-8 -15M101 153l-19 -32M406 55l8 -26M224 343l-31 -19M411 147l-13 -34M396 330l-14 -29M25 274l10 -29M138 79l-15 -30M133 378l-2 -21M473 106l-20 -29M134 210l-3 -21M82 122l-16 -16M227 337l-31 -18M33 92l-16 8M567 108l-19 -8M78 32l-22 1M342 53l17 -26M515 82l-19 -13M609 15l-28 21M70 381l14 -11M607 402l-12 16M294 169l8 -26M324 140l9 -25M330 -6l14 -27M120 349l-3 -28M400 406l0 -23M447 31l3 -18M220 163l11 -32M-9 148l-27 -9M610 346l5 27M525 139l-11 -13M88 210l-1 -18M329 38l18 -24M418 368l-2 -21M500 83l-22 -21M63 205l-4 -18M165 88l1 -22M171 356l-17 -32M382 389l-8 -34M555 275l16 -9M490 225l-10 -36M454 361l14 -21M267 345l-14 -9M542 322l21 11M456 73l-16 -25M470 276l-1 -36M202 188l3 -21M222 231l-7 -18M391 371l-14 -30M244 266l-16 -31M582 154l-14 -17M40 -5l-16 12M434 92l-17 -32M483 338l29 -17M90 183l-9 -20M255 364l-24 -3M568 285l22 -4M136 121l-17 -21M463 -8l-5 -17M452 -3l-4 -24M418 129l-6 -31M212 56l16 -34M326 -8l18 -16M361 52l5 -16M6 313l25 -14M310 -10l20 -20M581 208l2 -19M167 308l-14 -28M173 305l-8 -16M533 169l-12 -35M510 173l-20 -20M357 2l12 -13M564 412l6 28M89 361l10 -16M601 -8l-21 21M26 57l-21 20M41 93l-29 1M592 28l-25 7M408 149l-8 -27M74 391l34 -17M185 115l4 -37M29 403l23 2M491 124l-28 -20M378 404l-5 -23M188 255l-14 -33M323 308l-15 -12M503 20l-27 -22M392 284l-17 -29M460 14l-5 -16M204 288l-19 -19M402 397l-4 -23M585 3l-34 2M427 345l2 -35M202 166l2 -17M180 153l-0 -32M381 329l-12 -28M129 289l4 -27M230 149l3 -23M140 277l-3 -33M6 379l18 8M492 187l-7 -19M423 121l-5 -18M195 159l4 -37M409 299l-12 -26M35 265l15 -30M514 206l-8 -29M78 179l-6 -19M147 188l-1 -18M190 317l-20 -31M226 42l5 -20M322 282l-29 -18M160 165l1 -22M593 231l24 -22M610 174l-4 -20M2 139l-26 3M-8 347l35 13M556 197l1 -16M368 220l-12 -11M577 206l4 -23M122 279l-2 -18M277 332l-24 -14M22 206l-12 -21M579 20l-16 10M11 57l-16 16M600 171l-8 -15M113 142l-8 -18M342 225l-21 -28M211 113l3 -34M448 84l-9 -27M189 167l4 -29M579 24l-17 4M503 268l13 -18M502 235l2 -31M285 294l-16 -11M4 409l14 22M97 254l1 -17M290 141l21 -27M222 75l10 -17M270 325l-18 -7M568 340l19 30M163 344l-10 -24M557 277l34 -16M471 109l-11 -26M232 201l-0 -35M394 270l-21 -17M564 166l-12 -24M127 296l4 -32M27 50l-15 15M241 156l18 -33M557 400l4 23M446 26l-7 -33M598 202l8 -32M350 309l-20 -13M446 123l-16 -20M424 271l-4 -17M413 141l-0 -25M276 91l26 -26M137 143l-7 -30M506 20l-21 -12M392 156l1 -24M517 337l33 -2M153 112l-4 -32M548 175l-12 -19M214 96l14 -35M83 182l-6 -20M482 356l19 -8M425 309l-7 -25M196 282l-10 -24M253 11l9 -13M318 116l13 -21M318 118l10 -25M372 66l7 -15M366 169l-6 -19M147 178l2 -25M371 365l-19 -24M31 315l23 -27M166 221l5 -37M337 236l-18 -24M145 222l-13 -31M64 114l-24 -12M598 280l23 7M392 110l-2 -24M500 323l23 -15M558 176l-13 -16M440 3l7 -21M30 204l-19 -26M472 60l-10 -15M82 88l-26 -4M531 310l18 1M334 305l-33 -8M6 329l18 1M125 383l7 -37M38 386l17 6M34 142l-18 -2M318 254l-16 -22M607 163l-13 -32M29 241l-0 -27M342 334l-30 -17M403 75l1 -31M399 220l-12 -14M600 162l-24 -27M18 193l-16 -18M423 203l-15 -25M236 15l19 -29M244 180l5 -19M380 379l-10 -15M548 168l-9 -24M463 323l10 -18M166 100l2 -28M327 305l-27 -14M147 34l-16 -23M353 209l-12 -25M461 182l-10 -21M-7 -8l-17 16M483 375l21 -4M188 -8l-6 -21M128 333l1 -34M612 325l2 37M286 295l-28 -18M47 297l19 -11M224 -6l2 -25M484 384l17 -3M254 84l16 -12M594 -2l-34 13M63 389l17 -7M236 18l9 -14M55 91l-37 2M46 329l17 -9M604 71l-22 6M202 361l-24 -14M140 8l-15 -8M406 380l-8 -34M578 34l-24 8M124 5l-32 -18M179 177l3 -26M55 121l-26 -13M48 10l-25 14M70 130l-22 -13M556 263l25 -20M126 378l6 -25M378 57l13 -35M175 200l2 -21M35 29l-23 17M600 407l-7 16M293 293l-18 -12M362 248l-11 -16M214 227l-6 -26M255 399l-21 -10M268 361l-22 -11M274 107l23 -25M13 131l-26 -7M80 250l-8 -33M405 237l-11 -35M122 -2l-20 -7M232 149l7 -31M313 230l-11 -12M43 5l-20 10M480 375l32 -16M566 -8l-19 0M544 332l27 16M249 137l22 -27M86 282l7 -23M32 251l12 -31M528 245l12 -36M332 370l-21 -13M340 8l11 -13M434 142l-16 -33M425 291l-13 -20M611 411l-11 14M569 365l8 14M59 204l-7 -25M397 192l-15 -30M296 50l18 -18M504 140l-22 -16M125 260l9 -27M417 344l-7 -26M559 297l19 2M439 288l2 -18M341 157l3 -29M339 223l-13 -17M517 265l12 -17M231 251l-13 -20M298 -6l19 -26M361 69l20 -23M-10 101l-32 18M179 54l1 -28M244 340l-27 -14M47 262l7 -20M74 90l-34 -11M245 60l21 -31M167 134l4 -37M254 153l5 -37M304 329l-20 -5M501 299l16 -15M614 278l18 7M555 187l-9 -21M16 56l-20 13M127 245l-0 -33M482 58l-22 -30M99 218l-5 -16M602 69l-19 6M571 310l24 24M479 121l-26 -23M448 283l-5 -34M204 -9l-11 -25M468 240l-6 -19M143 373l-1 -18M17 312l31 -15M78 380l34 -17M512 121l-26 -17M89 241l3 -35M570 357l5 18M47 106l-18 2M309 326l-19 -7M492 83l-14 -15M170 346l-9 -16M545 367l16 14M267 408l-19 -10M551 173l-7 -17M422 25l9 -27M36 236l0 -18M413 124l-2 -16M438 357l7 -25M201 34l5 -19M478 251l-10 -32M385 109l5 -23M377 208l-11 -14M417 248l-1 -17M37 122l-22 4M78 381l20 -16M133 100l-17 -34M256 16l15 -28M553 354l15 16M226 395l-22 -16M215 363l-27 -14M593 99l-24 3M200 276l-11 -35M111 85l-27 -25M20 226l-8 -35M599 47l-24 4M294 91l14 -13M316 242l-17 -25M609 18l-25 18M317 30l15 -11M441 223l-8 -26M82 194l-14 -26M52 366l18 -8M404 400l-3 -29M203 151l13 -36M523 231l6 -16M487 211l-2 -21M479 311l8 -17M382 387l-7 -31M4 347l21 10M320 285l-25 -9M232 221l-16 -23M54 347l21 -7M81 223l-4 -21M106 194l-6 -21M15 223l-2 -23M489 146l-21 -28M215 386l-26 -14M586 63l-22 2M313 94l18 -29M67 15l-17 4M329 144l10 -35M318 355l-31 -10M566 292l20 -3M388 368l-17 -23M207 302l-13 -12M168 182l1 -38M347 296l-35 -10M217 26l2 -34M221 79l6 -34M26 396l28 7M578 132l-23 -16M65 70l-28 -1M275 290l-16 -15M99 256l2 -17M114 157l-7 -25M165 272l-12 -25M355 354l-19 -16M600 -6l-33 18M359 112l6 -29M410 190l-6 -18M350 108l14 -26M610 67l-30 10M20 8l-11 17M91 78l-20 -21M316 374l-30 -2M500 73l-24 -22M466 257l-6 -28M384 52l8 -15M268 236l-13 -17M247 401l-21 -4M154 246l2 -17M344 350l-19 -12M153 6l-27 -21M21 222l-10 -31M262 94l13 -17M276 59l14 -17M506 371l36 -2M268 176l3 -23M433 265l-8 -25M315 320l-18 -4M551 354l15 19M549 54l-31 -2M322 320l-23 -14M551 282l23 -6M6 3l-10 13M174 122l4 -21M0 404l24 18M580 138l-25 -26M542 75l-33 -9M435 169l-11 -19M216 395l-25 -22M177 361l-13 -21M524 190l-12 -32M602 329l12 26M197 324l-11 -13M486 62l-29 -23M177 31l-0 -27M138 116l-10 -34M557 312l34 -1M103 88l-23 -25M254 386l-30 -6M172 296l-0 -30M550 203l-5 -32M93 48l-15 -6M31 -4l-28 16M552 296l34 -1M576 71l-29 -2M541 344l25 16M192 317l-12 -25M192 390l-21 -16M552 170l-20 -27M247 320l-13 -9M572 221l15 -22M559 351l7 17M246 175l-0 -16M499 87l-25 -20M227 131l11 -24M61 286l24 -23M-4 300l24 -17M423 205l-13 -25M445 140l-12 -35M41 136l-19 -10M20 159l-18 -17M468 35l-15 -17M173 117l-0 -18M583 279l31 4M106 133l-8 -16M398 82l1 -21M47 48l-20 8M1 354l21 6M32 380l22 -3M40 355l23 -6M286 238l-16 -23" stroke="#17740f" stroke-width="7" opacity=".5"/><path d="M467 91l-12 -14M50 51l-27 7M130 178l-3 -24M357 49l8 -13M259 68l12 -11M495 200l1 -32M182 367l-19 -20M309 148l8 -18M41 8l-19 17M558 404l4 26M286 42l28 -15M598 80l-27 -4M469 15l-13 -28M3 138l-25 1M100 6l-29 -8M598 312l25 22M603 243l21 -15M539 286l17 -8M516 61l-20 -3M236 109l7 -14M258 87l21 -22M503 303l12 -25M452 198l-11 -29M561 284l14 -0M387 348l-17 -25M222 129l11 -30M267 107l15 -21M127 405l3 -23M345 290l-13 -7M574 298l26 3M578 105l-17 -4M541 238l4 -33M179 -2l-12 -23M574 198l0 -31M140 10l-17 -14M316 384l-29 -16M101 162l-5 -25M50 310l22 -22M-6 156l-21 -1M38 357l33 -9M-1 276l15 -19M89 253l6 -20M314 120l13 -20M439 1l-5 -20M311 282l-24 -20M464 311l4 -15M282 329l-15 -3M24 178l-22 -19M29 135l-25 -3M371 375l-18 -27M46 406l14 -2M325 353l-20 -13M560 308l19 5M530 386l14 16M104 396l10 -24M593 99l-15 2M591 289l23 9M467 238l-3 -22M337 188l-10 -28M200 57l2 -18M294 340l-17 -7M534 31l-30 -13M433 116l-11 -20M213 244l-4 -16M81 342l17 -24M247 16l15 -27M217 38l4 -15M229 116l11 -15M416 378l-16 -26M482 375l21 -6M312 151l3 -21M180 212l8 -20M436 252l-11 -17M359 139l1 -27M440 20l1 -15M349 109l5 -21M57 313l14 -5M94 170l-6 -16M181 299l-8 -15M530 265l23 -22M174 85l1 -29M567 295l30 1M585 358l-4 25M377 55l11 -16M595 75l-31 7M145 156l-1 -23M466 291l7 -27M414 314l-7 -13M525 409l14 16M85 404l16 -29M91 130l-27 -19M474 334l19 -22M345 3l16 -23M316 18l17 -22M209 4l1 -16M371 167l-4 -16M121 314l2 -20M193 244l-2 -14M371 288l-11 -12M202 261l-10 -30M370 260l-16 -21M86 221l-8 -21M401 134l-4 -16M584 25l-30 12M354 221l-14 -29M507 103l-14 -10M238 400l-15 -6M270 231l-13 -19M406 295l-26 -22M572 122l-17 -8M35 35l-29 11M390 41l14 -29M599 165l-12 -15M245 194l-4 -22M102 249l-1 -31M289 120l17 -21M283 147l7 -16M21 90l-24 9M579 58l-24 9M471 215l-9 -26M-1 157l-30 -8M1 339l33 8M362 118l2 -21M351 199l-4 -15M170 94l2 -27M539 170l-20 -27M9 237l-0 -22M197 302l-11 -15M177 98l8 -23M314 138l13 -27M546 131l-26 -14M434 359l13 -28M92 271l2 -23M407 3l1 -20M73 176l-11 -16M330 38l11 -11M237 62l6 -15M500 337l25 -12M417 259l-13 -24M155 140l-2 -15M447 118l-9 -16M560 166l-18 -17M229 359l-28 -13M599 265l18 -3M362 230l-10 -11M419 355l0 -15M41 256l6 -14M588 333l13 23M324 17l22 -26M127 380l4 -18M442 406l15 -24M122 26l-31 -14M368 370l-26 -10M88 260l-1 -28M561 229l10 -20M298 266l-19 -24M582 281l14 2M8 -1l-13 12M549 399l7 25M584 84l-17 -0M117 189l-9 -28M-9 181l-23 -14M60 118l-27 -14M38 70l-21 5M124 22l-19 -25M379 134l1 -20M45 272l8 -17M451 295l-3 -25M155 54l-11 -32M311 110l13 -15M561 385l14 22M92 321l5 -17M516 35l-18 -16M568 245l19 -16M128 238l0 -32M178 217l-4 -16M332 319l-15 -16M576 270l20 -7M40 351l29 -1M428 75l-2 -15M293 140l10 -21M410 39l7 -20M390 16l20 -23M412 398l6 -29M275 16l10 -22M110 118l-8 -13M476 152l-18 -27M189 400l-14 -10M365 130l-1 -15M337 121l7 -21M612 363l-4 20M328 29l13 -14M411 359l-1 -24M157 385l-9 -17M556 297l32 -1M269 194l-6 -25M167 88l2 -20M75 193l-13 -21M554 318l24 9M133 264l-4 -29M449 394l27 -12M136 257l-6 -23M601 119l-25 -7M594 322l22 23M71 313l6 -16M534 338l22 6M114 328l6 -23M490 248l1 -25M55 -10l-27 13M432 159l-11 -19M518 7l-13 -8M439 182l-9 -23M8 263l8 -21M189 26l3 -27M414 355l-10 -27M232 203l-9 -32M135 406l-8 -26M546 407l1 30M331 79l12 -13M181 244l-3 -21M445 157l-9 -24M311 156l-1 -20M-10 293l18 -3M39 51l-27 16M161 287l-10 -32M243 233l-5 -20M213 219l-1 -15M226 220l-5 -25M252 218l3 -22M587 336l8 24M285 327l-17 -5M399 32l10 -32M432 44l-4 -33M380 392l-5 -30M415 394l7 -14M149 302l-4 -34M166 346l-6 -25M92 206l-4 -22M459 410l31 -11M405 372l0 -25M283 32l13 -8M81 62l-24 1M33 59l-15 15M363 349l-12 -7M331 123l4 -13M207 154l1 -30M386 101l2 -18M140 216l-3 -23M275 250l-8 -19M558 155l-18 -19M214 248l-5 -24M282 103l14 -29M358 347l-23 -12M490 26l-10 -18M-7 30l-8 18M2 19l-26 22M162 113l-3 -29M175 276l-5 -21M92 290l7 -14M5 225l-3 -18M475 211l-9 -21M319 258l-12 -16M179 379l-12 -19M184 154l-2 -33M397 207l-6 -22M236 278l-17 -29M115 213l1 -30M537 158l-10 -11M425 187l-14 -27M361 298l-24 -21M244 140l17 -28M539 220l-3 -31M153 8l-12 -10M328 30l13 -18M594 84l-16 5M61 357l31 -12M580 328l8 13M87 18l-31 1M190 175l1 -30M45 78l-29 7M116 92l-25 -15M295 233l-6 -13M252 170l4 -25M170 11l-5 -14M447 375l17 -25M589 381l1 33M243 162l1 -32M21 227l-14 -30M-5 291l25 -17M294 256l-19 -16M364 68l17 -20M35 15l-14 11M585 215l7 -28M47 120l-26 -6M383 392l-15 -22M46 37l-21 11M336 316l-14 -5M340 45l24 -23M193 295l-8 -19M393 15l12 -21M213 74l14 -30M149 151l-5 -23M484 210l-9 -32M220 390l-21 -13M153 180l1 -15M494 126l-16 -13M186 249l-2 -27M87 207l-1 -31M133 283l5 -24M74 207l-7 -26M16 146l-20 -4M155 23l-9 -29M72 27l-24 -0M184 141l3 -19M136 149l-5 -18M131 280l-5 -19M73 50l-16 0M505 290l17 -13M380 13l22 -23M585 185l-7 -32M250 168l8 -18M508 345l29 -0M409 284l-7 -24M503 13l-21 -19M270 265l-15 -14M242 393l-30 -4M235 174l-1 -20M319 30l20 -13M406 111l-3 -20M19 115l-31 6M522 227l-10 -32M240 28l15 -29M464 73l-5 -19M132 376l-3 -23M92 97l-23 -8M548 40l-26 -13M317 215l-7 -31M27 279l16 -26M306 394l-18 -9M320 246l-22 -20M26 72l-25 17M250 385l-20 -7M117 201l-2 -16M242 156l13 -25M157 388l-13 -12M264 378l-32 -7M369 70l20 -25M614 -3l-14 6M53 323l28 -17M564 300l31 10M566 306l17 8M69 315l16 -18M304 10l12 -13M312 395l-17 -7M558 163l-18 -19M452 236l-8 -28M456 62l-15 -28M612 131l-17 -4M607 114l-31 -11M611 41l-22 10M89 281l9 -14M128 282l1 -27M129 25l-21 -11M352 131l7 -22M479 69l-9 -27M110 84l-20 -15M475 284l9 -28M413 236l-10 -19M471 124l-15 -28M27 187l-19 -25M330 287l-10 -12M20 140l-15 -4M593 104l-18 -1M524 220l-9 -33M612 21l-13 13M115 239l-6 -33M418 45l-5 -14M78 28l-30 -0M33 8l-26 17M70 256l11 -21M22 303l11 -10M55 325l17 -14M189 229l-2 -16M343 28l15 -19M401 313l-17 -21M228 179l6 -27M75 51l-15 4M210 179l2 -18M329 215l-7 -12M41 -6l-15 12M448 385l17 -15M108 265l5 -23M443 322l4 -27M467 125l-17 -27M296 127l9 -21M127 129l-7 -21M3 325l22 -5M441 139l-13 -25M131 230l-1 -19M119 280l1 -31M310 46l24 -22M379 410l-15 -24M28 211l-14 -30M423 102l-1 -27M142 305l-5 -17M395 277l-11 -13M471 73l-15 -16M365 181l-10 -22M308 1l13 -17M570 178l-8 -28M441 109l-8 -31M202 388l-24 -16M601 40l-14 9M194 177l3 -32M92 243l2 -29M48 286l20 -23M78 184l-9 -18M443 221l-11 -25M154 137l-8 -26M149 342l-1 -18M358 340l-21 -13M494 244l0 -26M614 251l24 -2M68 75l-25 2M354 124l10 -27M146 384l-11 -32M365 279l-14 -11M595 116l-23 -14M609 301l23 18M52 188l-11 -13M533 108l-16 -11M322 351l-23 -9M439 111l-4 -18M302 302l-11 -9M166 108l-3 -16M358 51l9 -14M112 206l-1 -17M288 266l-12 -11M364 347l-15 -10M367 26l11 -19M221 264l-16 -29M102 407l7 -33M412 27l9 -21M-5 339l17 5M292 114l6 -17M264 245l-11 -20M75 212l-4 -21M443 229l-23 -24M92 152l-15 -18M330 211l-15 -26M262 18l18 -28M242 -1l10 -11M-4 274l17 -23M464 340l16 -19M552 376l10 19M387 333l-13 -19M39 124l-32 -11M287 148l10 -29M452 329l3 -25M166 341l-9 -31M502 185l-11 -15M130 102l-11 -25M399 355l-8 -19M139 99l-5 -15M-5 225l-5 -14M608 375l-11 18M444 324l2 -16M125 378l6 -23M519 33l-25 -23M412 279l-14 -27M506 409l26 12M341 164l-1 -18M203 346l-26 -17M454 174l-16 -25M505 164l-15 -27M241 373l-27 -13M13 52l-22 13M143 78l-10 -22M393 323l-7 -15M490 205l-13 -27M480 394l19 -3M373 24l18 -22M109 360l7 -30M322 255l-14 -12M214 235l-11 -25M341 124l1 -28M320 226l-12 -29M44 378l15 -4M298 148l8 -24M538 326l20 2M504 70l-22 -15M87 101l-14 -6M577 24l-16 9M106 379l8 -18M122 18l-24 -14M22 297l19 -12M109 225l0 -19M-6 -7l-11 12M363 -8l7 -12M271 315l-26 -8M243 360l-19 -14M521 139l-19 -9M457 79l-6 -15M489 355l21 -11M31 91l-22 6M44 263l16 -23M6 60l-22 23M56 389l14 -10M174 206l-5 -28M391 36l12 -17M559 268l14 -9M404 145l-6 -15M612 87l-25 11M463 360l18 -17M75 263l3 -17M23 130l-20 2M19 12l-9 17M531 188l-11 -30M82 317l15 -21M89 13l-29 -3M43 168l-25 -17M599 112l-20 -6M566 296l17 -1M159 396l-10 -30M12 250l3 -15M114 185l-11 -27M598 99l-28 -6M546 256l21 -16M387 378l-16 -26M334 76l15 -20M206 69l13 -19M270 62l9 -24M32 383l18 -0M102 129l-13 -17M441 70l-1 -17M451 155l-9 -16M262 407l-13 -9M541 46l-27 -7M562 332l14 18M604 23l-21 11M500 63l-22 -18M579 196l-5 -25M341 321l-24 -17M365 13l24 -19M26 194l-11 -23M394 246l-13 -18M45 323l14 -10M299 289l-22 -17M277 356l-28 -17M203 14l2 -34M49 246l2 -15M574 74l-24 7M295 198l-10 -21M544 397l3 24M160 241l-3 -31M357 195l-4 -28M13 -6l-16 15M109 233l3 -30M468 114l-17 -16M520 232l1 -22M100 194l-1 -16M234 326l-27 -18M301 337l-28 -7M213 38l4 -32M184 65l4 -19M601 237l18 -6M384 392l-3 -27M288 348l-31 -14M77 334l13 -22M529 247l8 -24M379 360l-9 -13M223 142l13 -22M254 28l18 -19M202 28l1 -15M312 74l15 -13M178 77l-3 -27M236 236l-4 -18M451 239l-15 -26M226 21l2 -25M113 291l4 -22M270 244l-6 -14M387 11l5 -29M237 179l6 -24M539 35l-14 -3M292 412l-23 -2M228 64l17 -29M249 382l-17 -7M8 383l24 13M290 322l-14 -7M477 214l-9 -17M5 201l-9 -20M50 33l-27 9M245 343l-31 -8M308 342l-13 -7M358 236l-12 -25M110 0l-15 -5M155 77l-13 -30M314 223l-8 -32M80 30l-34 -4M409 86l-0 -30M139 39l-19 -25M226 365l-20 -16M113 188l1 -26M550 325l31 8M374 207l-18 -27M231 299l-13 -10M208 173l2 -26M357 220l-7 -29M354 323l-15 -13M451 209l-7 -20M427 226l-14 -29M235 121l15 -19M548 300l18 -2M366 324l-17 -10M103 292l2 -23M301 219l-8 -14M187 58l3 -32M176 280l-8 -22M153 228l-2 -18M251 366l-16 1M413 113l-5 -15M46 366l28 -8M201 281l-11 -15M28 215l-14 -17M185 177l-9 -32M97 247l2 -19M128 315l-1 -18M16 200l-16 -27M140 142l-10 -14M199 174l-1 -23M52 198l-15 -28M192 359l-17 -19M434 149l-18 -24M119 75l-19 -23M373 208l-12 -25M358 102l1 -21M453 362l13 -19M251 386l-17 -6M603 294l32 8M533 13l-17 -14M210 -10l-0 -31M-9 78l-17 24M340 86l8 -12M403 202l-8 -23M592 76l-30 7M141 361l-11 -22M476 410l17 -3M434 370l3 -27M79 271l13 -25M409 247l-15 -24M608 302l10 12M210 5l3 -19M564 16l-18 3M260 356l-19 -7M195 168l3 -29M145 269l-5 -31M423 109l-2 -27M534 260l5 -15M98 125l-17 -21M205 160l5 -29M120 317l1 -18M423 308l-1 -15M149 112l-11 -30M376 389l-10 -21M395 275l-6 -13M473 346l12 -9M203 152l7 -16M515 134l-22 -18M247 130l6 -17M256 59l25 -22M158 87l-5 -21M9 139l-24 4M70 131l-26 -20M62 399l28 -8M315 197l-5 -23M596 281l23 10M244 59l12 -14M348 69l15 -29M580 303l27 20M476 157l-18 -21M44 227l-1 -17M219 64l25 -23M185 224l-7 -22M374 128l4 -29M54 93l-31 -0M88 -2l-19 3M25 321l16 -10M482 21l-21 -20M516 92l-16 -11M245 382l-25 -14M156 378l-8 -12M223 112l6 -17M327 209l-7 -19M34 388l33 3M44 324l23 -24M150 327l-3 -34M280 46l18 -26M334 348l-25 -9M88 208l-2 -29M456 362l19 -13M292 93l18 -16M425 212l-17 -28M506 144l-20 -10M155 13l-3 -22M306 283l-23 -17M322 3l19 -27M426 76l-4 -21M148 150l-1 -17M584 339l7 22M300 27l21 -16M501 136l-24 -14M334 10l12 -11M306 69l21 -19M189 385l-16 -9M377 308l-17 -21M287 -7l20 -27M154 340l-5 -18M0 283l18 -17M214 89l6 -15M294 267l-16 -22M429 206l-12 -15M44 281l13 -20M497 362l32 -5M209 234l-4 -34M366 375l-17 -25M18 355l18 6M118 293l1 -22M-7 152l-18 3M462 222l-7 -13M225 103l15 -29M333 73l18 -13M319 100l7 -21M523 102l-23 -9M608 142l-16 -14M458 22l-8 -20M41 288l14 -15M289 218l-1 -16M20 314l24 -6M579 34l-29 8M155 333l-14 -22M106 323l11 -26M154 26l-9 -18M370 413l-11 -29M24 43l-20 18M566 392l-1 18M385 387l-8 -26M161 72l-7 -31M313 105l20 -21M454 7l-7 -30M425 378l4 -26M534 57l-23 -7M197 302l-9 -21M198 259l-7 -18M525 405l18 21M331 110l14 -21M322 267l-24 -24M141 10l-14 -10M551 212l4 -31M563 87l-17 1M106 59l-28 -14M240 242l-9 -21M540 404l4 15M470 27l-7 -12M292 33l17 -21M425 221l-6 -14M387 398l-2 -26M55 229l-2 -17M83 385l14 -13M441 266l-10 -32M529 78l-17 -3M283 83l13 -11M242 265l-7 -13M108 30l-29 -4M113 -2l-28 3M217 158l6 -29M524 45l-21 -9M474 220l-8 -24M465 173l-19 -25M91 187l-10 -22M581 202l4 -30M350 156l1 -20M296 179l1 -16M376 184l-14 -28M460 34l-9 -13M256 163l0 -18M357 269l-15 -14M466 350l12 -10M518 173l-16 -20M91 238l-0 -19M337 127l5 -22M439 52l-10 -23M576 180l-3 -20M582 93l-15 -1M163 119l1 -33M18 154l-21 -7M159 4l-9 -19M547 350l25 22M292 293l-26 -9M405 166l-13 -16M304 297l-24 -17M260 397l-18 -6M295 149l8 -25M91 221l0 -29M120 411l8 -29M604 374l-6 15M180 382l-13 -12M257 337l-27 -19M427 272l-11 -19M569 15l-32 -2M514 209l-5 -24M159 231l0 -30M69 391l24 -6M285 132l11 -17M115 211l-5 -21M556 348l23 20M465 159l-13 -23M513 211l-5 -29M227 108l9 -19M371 226l-9 -14M445 265l-11 -18M259 203l-6 -32M416 5l3 -19M339 332l-16 -9M73 155l-21 -27M3 337l29 -3M163 -7l-16 -26M544 398l3 25M270 235l-7 -19M38 324l28 -2M97 258l2 -20M227 17l8 -25M464 169l-8 -14M351 55l15 -23M429 229l-9 -21M133 140l-7 -23M421 134l-5 -18M314 279l-25 -14M423 412l6 -17M-4 80l-20 16M395 141l-6 -27M381 80l7 -24M487 47l-11 -11M248 391l-29 -16M392 269l-13 -18M16 210l-15 -18M494 401l15 2M267 14l9 -14M293 367l-23 -13M584 34l-26 -2M400 284l-12 -23M46 150l-16 -8M82 280l6 -18M505 355l30 -4M492 88l-28 -15M508 238l6 -30M21 324l17 -8M556 410l-1 34M276 42l20 -17M80 165l-9 -18M18 97l-22 9M410 245l-7 -15M172 13l-6 -18M74 244l2 -19M42 207l-7 -19M549 370l20 14M404 284l-23 -21M228 168l-0 -20M176 392l-15 -29M230 319l-18 -12M522 112l-27 -18M583 97l-30 -1M602 108l-24 -4M46 15l-21 9M384 221l-11 -13M260 39l13 -24M294 38l19 -22M109 249l-3 -28M89 196l-11 -25M-2 101l-22 14M41 98l-22 5M613 356l-8 29M416 166l-6 -24M475 210l-9 -14M193 297l-15 -28M162 108l-5 -19M469 252l-7 -24M523 148l-17 -8M166 94l-8 -28M41 354l16 -5M102 58l-31 -14M593 12l-21 14M607 106l-28 2M339 102l7 -13M66 207l-3 -24M527 342l28 16M126 162l-9 -19M166 113l-5 -15M151 338l-4 -29M468 277l-1 -17M77 132l-18 -20" stroke="#279622" stroke-width="4.2" opacity=".58"/><path d="M412 380l0 -15M232 154l3 -22M9 312l22 -3M168 154l1 -25M360 81l7 -25M189 7l-6 -14M196 216l-2 -22M600 44l-26 2M82 -8l-27 6M464 195l-10 -28M214 393l-11 -7M269 159l6 -14M120 380l2 -26M462 164l-11 -21M558 50l-14 9M86 295l7 -13M397 275l-16 -17M283 74l15 -13M377 378l-7 -16M613 253l16 -0M70 268l7 -24M534 -1l-19 -10M-8 407l19 16M564 111l-27 -9M59 271l9 -12M123 108l-7 -17M273 80l19 -22M492 96l-16 -9M193 313l-9 -14M315 378l-17 -8M432 385l8 -15M358 210l-19 -20M66 326l11 -13M583 283l16 4M448 390l16 -12M133 212l-6 -29M149 81l-5 -13M160 408l-9 -13M571 117l-25 -10M207 119l3 -19M305 154l-4 -20M144 384l-2 -13M294 206l-3 -25M24 -9l-17 16M108 276l0 -18M428 74l-3 -16M391 354l-5 -14M29 300l20 -9M324 367l-26 -5M310 246l-11 -19M430 9l1 -19M177 72l2 -17M229 71l4 -15M582 394l2 22M528 42l-26 -15M381 373l-10 -27M556 196l-2 -21M316 375l-25 -7M5 128l-24 6M535 104l-24 -9M80 400l17 -19M612 180l-4 -26M407 90l-3 -30M82 363l8 -21M585 321l8 13M558 97l-13 -3M232 77l5 -15M32 249l8 -24M294 278l-10 -7M285 62l7 -21M80 263l5 -23M569 39l-14 3M133 363l-7 -24M442 301l-6 -27M562 108l-15 1M291 -6l10 -26M475 222l-10 -27M143 75l-4 -15M232 90l17 -24M120 284l1 -20M187 342l-10 -16M31 18l-22 17M392 -3l11 -17M176 72l-0 -13M315 412l-18 -23M250 -8l7 -15M319 138l6 -24M383 103l2 -16M343 257l-16 -9M38 112l-28 -3M207 65l7 -15M119 52l-10 -8M328 95l6 -19M267 31l22 -17M118 358l-2 -18M454 405l24 -10M376 244l-9 -15M548 283l28 -8M186 113l6 -22M14 21l-11 17M333 95l12 -19M150 97l-7 -14M344 52l9 -12M473 128l-8 -19M140 23l-9 -15M573 102l-14 -7M148 248l-2 -17M571 -6l-23 7M150 258l-3 -24M396 129l-0 -17M43 334l12 -6M510 261l5 -14M106 166l-7 -21M463 145l-9 -16M288 164l-1 -23M580 123l-15 -12M397 145l-1 -18M529 348l13 3M0 341l14 -1M213 81l11 -28M107 175l-5 -19M3 386l29 7M110 397l15 -22M544 -1l-30 -2M96 306l15 -23M-7 376l16 19M421 116l-2 -12M211 215l-3 -22M555 353l16 20M104 377l15 -24M350 319l-16 -10M247 399l-22 -9M355 242l-6 -28M336 311l-20 -18M374 227l-6 -19M180 311l-9 -12M89 16l-14 2M83 300l13 -26M43 92l-27 -1M457 402l24 -16M314 185l1 -20M525 202l-5 -13M226 68l7 -15M401 386l-6 -21M251 81l14 -22M463 -3l-2 -15M328 -2l9 -10M220 188l1 -20M609 397l-15 15M31 77l-16 7M499 92l-23 -17M537 -0l-19 -8M438 207l-9 -16M150 357l-0 -15M504 11l-14 -20M22 194l-12 -17M216 252l-8 -20M570 7l-20 2M18 298l11 -10M7 124l-29 2M18 155l-15 -2M429 -5l4 -22M271 152l8 -24M500 306l22 -16M410 264l-12 -13M20 123l-13 -0M302 45l12 -7M127 399l-0 -20M375 152l-3 -28M145 329l-1 -15M181 314l-13 -15M406 246l-9 -15M513 70l-15 -12M234 -4l2 -12M71 212l-16 -22M536 84l-22 -5M162 97l-4 -29M159 176l1 -22M491 385l23 1M157 109l1 -28M331 59l11 -16M158 266l-5 -22M165 52l-3 -20M285 247l-7 -20M594 311l24 17M465 134l-9 -16M80 3l-12 -1M392 329l-7 -13M38 23l-18 15M80 178l-2 -14M241 316l-17 -3M409 384l-1 -19M184 189l0 -14M609 50l-16 5M445 196l-10 -18M32 406l12 5M584 381l-3 26M353 329l-16 -10M268 55l9 -10M425 53l-3 -15M188 410l-13 -23M367 162l-6 -23M244 292l-14 -8M557 56l-15 0M360 242l-10 -16M592 313l9 11M513 369l15 6M148 298l-2 -19M270 132l6 -11M273 308l-21 -9M43 240l-2 -28M152 339l-2 -24M422 298l-5 -17M267 238l-6 -18M585 12l-28 5M608 329l4 18M497 130l-12 -11M504 298l6 -14M611 111l-19 0M461 27l-5 -11M593 407l-9 26M252 132l5 -14M99 353l4 -27M92 106l-15 -11M585 369l-3 18M208 57l11 -20M392 354l-6 -12M177 181l0 -27M553 87l-26 -3M365 15l7 -13M440 261l-9 -18M606 189l3 -15M57 274l7 -14M-8 148l-22 -0M380 67l9 -22M549 39l-15 -1M398 9l1 -22M529 68l-27 -13M197 122l2 -29M480 236l-2 -14M258 318l-16 -3M61 21l-24 6M540 181l-15 -20M334 317l-23 -9M448 128l-9 -18M562 407l-5 27M426 236l-5 -15M609 273l29 3M245 412l-22 -2M388 121l-1 -21M375 156l1 -12M113 327l4 -26M90 69l-28 -7M330 280l-15 -10M510 73l-11 -4M139 79l-9 -11M345 103l6 -15M170 79l4 -20M424 270l-18 -19M452 390l11 -7M353 315l-11 -6M569 62l-17 -1M19 248l2 -21M444 73l-4 -25M196 140l2 -15M433 358l0 -16M359 138l4 -14M376 262l-13 -18M180 91l2 -20M598 388l-16 25M162 148l2 -12M235 380l-22 -6M357 304l-12 -10M74 8l-27 6M430 165l-4 -18M580 110l-13 0M480 140l-10 -13M414 298l-17 -22M495 86l-12 -8M539 199l-6 -14M397 61l6 -22M453 130l-7 -22M71 41l-26 -5M207 148l6 -28M519 107l-15 -6M267 260l-18 -23M305 60l15 -9M609 20l-12 4M137 73l-13 -17M574 383l1 16M431 314l-2 -23M560 184l-15 -16M441 402l16 -14M96 52l-19 -4M390 393l-6 -27M236 84l11 -14M504 84l-20 -18M468 224l-6 -14M336 85l12 -13M427 10l-4 -12M279 139l8 -19M295 348l-19 -3M22 409l24 8M62 214l-6 -28M356 326l-13 -21M78 382l24 -17M362 267l-14 -22M531 283l17 -14M362 203l-1 -18M578 379l-1 29M84 138l-10 -11M15 324l28 -2M261 266l-12 -21M412 388l6 -29M385 11l15 -19M362 205l-1 -28M303 357l-23 -5M330 395l-19 -12M338 246l-12 -24M536 60l-18 -3M73 -10l-22 5M436 397l13 -15M181 244l-0 -16M172 269l-3 -22M267 35l13 -18M515 87l-19 -9M201 293l-11 -15M529 108l-25 -10M251 172l3 -20M430 110l-6 -21M239 131l7 -17M404 138l-2 -28M270 255l-10 -10M305 400l-20 -12M514 21l-23 -19M138 189l-1 -18M88 174l-10 -17M395 225l-9 -19M374 325l-18 -22M301 282l-17 -15M282 35l12 -10M159 192l10 -28M233 226l-4 -18M310 298l-19 -16M78 73l-23 -9M262 345l-21 -12M304 72l11 -15M397 358l-2 -25M259 233l-12 -14M78 148l-8 -14M401 270l-7 -17M490 14l-10 -11M218 337l-10 -8M601 378l-6 28M244 186l-1 -13M491 99l-8 -11M453 327l6 -17M581 396l-5 23M258 245l-14 -18M251 403l-17 1M8 412l24 11M584 299l11 12M465 403l12 -5M-8 151l-27 -8M588 250l25 -9M400 181l-5 -23M140 211l-1 -17M513 265l9 -27M590 163l-5 -15M155 27l-13 -18M192 117l8 -17M273 406l-15 -7M372 282l-15 -14M583 2l-22 3M524 222l-4 -14M303 275l-16 -15M16 205l-14 -25M356 191l-9 -27M193 377l-11 -14M6 339l29 -2M73 171l-10 -23M332 23l14 -13M389 194l-11 -15M559 383l2 22M139 96l-11 -16M517 267l16 -18M368 10l12 -17M542 99l-13 -2M49 141l-20 -13M363 292l-18 -14M584 235l18 -19M457 222l-9 -11M478 55l-12 -7M30 234l-1 -29M585 176l-5 -11M533 70l-13 -4M516 209l-7 -18M225 365l-26 -13M214 13l-3 -26M133 6l-10 -13M319 312l-12 -8M191 329l-9 -12M111 108l-11 -11M214 22l5 -20M248 307l-20 -18M577 291l21 9M87 -10l-25 5M307 188l-0 -19M214 311l-20 -22M412 333l-6 -14M256 394l-13 -2M348 237l-15 -19M276 191l1 -14M159 354l-10 -26M88 -6l-13 0M337 49l10 -20M515 -2l-20 -15M337 348l-20 -9M336 183l-1 -16M529 412l11 19M279 301l-17 -4M401 158l-10 -22M117 8l-17 -7M141 163l-1 -17M549 365l8 14M34 194l-17 -15M544 227l4 -17M254 268l-10 -11M155 145l-8 -21M137 68l-10 -27M114 120l-6 -11M232 336l-24 -17M573 176l-5 -13M407 220l-14 -19M309 87l6 -11M167 317l-8 -27M129 289l-2 -13M505 107l-11 -8M18 194l-10 -17M382 29l2 -13M418 88l-2 -28M184 363l-14 -19M144 4l-22 -17M609 269l29 0M490 116l-17 -15M320 66l11 -13M337 409l-21 -12M118 207l-5 -17M558 146l-19 -21M476 373l22 -14M355 308l-12 -9M495 90l-14 -11M426 315l-8 -19M563 328l19 18M453 316l1 -23M389 158l-5 -20M572 107l-24 -7M378 16l15 -19M311 221l-7 -14M439 225l-9 -23M157 117l-3 -14M42 75l-26 6M223 293l-11 -26M64 230l-3 -13M128 110l-6 -26M588 304l12 4M134 259l-3 -19M107 408l7 -25M240 181l5 -18M559 348l7 14M178 350l-17 -16M487 110l-19 -10M48 127l-21 -13M594 292l17 12M61 166l-7 -11M38 407l16 1M296 23l11 -13M319 335l-15 -11M257 1l5 -16M358 36l12 -18M464 129l-12 -9M600 396l-7 22M210 289l-15 -15M313 318l-24 -9M369 -9l6 -11M503 276l9 -16M272 121l5 -18M72 28l-21 2M108 247l3 -27M596 158l-18 -14M232 77l10 -20M1 163l-14 -10M470 302l5 -12M278 230l-8 -22M75 214l3 -25M170 249l-8 -23M-4 71l-11 7M103 203l-8 -28M1 272l13 -21M566 67l-14 -5M243 237l-1 -25M497 263l0 -28M87 328l6 -16M181 164l-4 -27M78 412l20 -17M299 74l14 -18M143 271l-5 -18M387 364l-6 -16M411 161l-6 -28M439 321l-4 -24M6 280l19 -20M234 179l2 -16M176 -6l-4 -24M431 15l0 -24M219 123l9 -12M373 319l-16 -15M137 48l-9 -19M350 200l-17 -24M301 387l-28 -8M438 142l-11 -21" stroke="#4ccc44" stroke-width="2.8" opacity=".58"/><path d="M43 101h.1M84 22h.1M485 233h.1M242 25h.1M487 76h.1M83 155h.1M95 163h.1M286 393h.1M248 257h.1M89 114h.1M218 390h.1M116 78h.1M219 209h.1M346 66h.1M407 140h.1M362 170h.1M175 66h.1M65 289h.1M170 254h.1M144 338h.1M456 17h.1M479 183h.1M569 299h.1M122 359h.1" stroke="#4fe04a" stroke-width="4"/></g><g filter="url(#blurD)"><g fill="#021a02" opacity=".55"><ellipse cx="60" cy="200" rx="60" ry="50"/><ellipse cx="230" cy="330" rx="60" ry="40"/><ellipse cx="330" cy="230" rx="50" ry="35"/></g><ellipse cx="540" cy="90" rx="60" ry="60" fill="#2c9428" opacity=".35"/></g></g><linearGradient id="phbg" x1="0" x2="1"><stop offset="0" stop-color="#d9d8d6"/><stop offset=".5" stop-color="#e2e1e0"/><stop offset="1" stop-color="#e6e6e5"/></linearGradient><linearGradient id="redg" x1="0" x2="0" y1="0" y2="1"><stop offset="0" stop-color="#d8736c"/><stop offset=".5" stop-color="#d85a52"/><stop offset=".6" stop-color="#e0362d"/><stop offset="1" stop-color="#dc2a24"/></linearGradient><linearGradient id="clrg" x1="0" x2="0" y1="0" y2="1"><stop offset="0" stop-color="#cfcecd"/><stop offset=".38" stop-color="#d9d5d3"/><stop offset=".5" stop-color="#efdcd2"/><stop offset="1" stop-color="#f0d6ca"/></linearGradient><filter id="rock" x="0" y="0" width="100%" height="100%" color-interpolation-filters="sRGB">
<feTurbulence type="fractalNoise" baseFrequency="0.03" numOctaves="4" seed="5"/>
<feDiffuseLighting surfaceScale="9" diffuseConstant="1" lighting-color="#fff"><feDistantLight azimuth="235" elevation="50"/></feDiffuseLighting>
<feColorMatrix type="matrix" values=".18 .18 .18 0 .115  .18 .18 .18 0 .115  .18 .18 .18 0 .115  0 0 0 1 0"/></filter>
<filter id="rock2" x="0" y="0" width="100%" height="100%" color-interpolation-filters="sRGB">
<feTurbulence type="fractalNoise" baseFrequency="0.045" numOctaves="3" seed="23"/>
<feDiffuseLighting surfaceScale="5" diffuseConstant="1" lighting-color="#fff"><feDistantLight azimuth="235" elevation="55"/></feDiffuseLighting>
<feColorMatrix type="matrix" values=".15 .15 .15 0 .147  .15 .15 .15 0 .147  .15 .15 .15 0 .147  0 0 0 1 0"/></filter>
<filter id="fine" x="0" y="0" width="100%" height="100%" color-interpolation-filters="sRGB">
<feTurbulence type="fractalNoise" baseFrequency="0.25" numOctaves="3" seed="2"/>
<feColorMatrix type="matrix" values=".12 0 0 0 .44  .12 0 0 0 .44  .12 0 0 0 .44  0 0 0 0 1"/></filter>
<filter id="b3" x="-20%" y="-20%" width="140%" height="140%"><feGaussianBlur stdDeviation="3"/></filter>
<filter id="b6" x="-20%" y="-20%" width="140%" height="140%"><feGaussianBlur stdDeviation="7"/></filter>
<filter id="b14" x="-30%" y="-30%" width="160%" height="160%"><feGaussianBlur stdDeviation="14"/></filter>
<filter id="rough" x="-10%" y="-10%" width="120%" height="120%"><feTurbulence type="fractalNoise" baseFrequency=".035" numOctaves="3" seed="4" result="t"/><feDisplacementMap in="SourceGraphic" in2="t" scale="22" xChannelSelector="R" yChannelSelector="G"/><feGaussianBlur stdDeviation="1"/></filter><filter id="rough2" x="-20%" y="-20%" width="140%" height="140%"><feTurbulence type="fractalNoise" baseFrequency=".06" numOctaves="2" seed="9" result="t"/><feDisplacementMap in="SourceGraphic" in2="t" scale="12" xChannelSelector="R" yChannelSelector="G"/><feGaussianBlur stdDeviation="1.1"/></filter><filter id="b15" x="-20%" y="-20%" width="140%" height="140%"><feGaussianBlur stdDeviation="1.6"/></filter><filter id="b08" x="-5%" y="-5%" width="110%" height="110%"><feGaussianBlur stdDeviation=".8"/></filter><radialGradient id="bumpg" cx=".5" cy=".5" r=".5" fx=".45" fy=".43"><stop offset="0" stop-color="#838383"/><stop offset=".55" stop-color="#767676"/><stop offset=".8" stop-color="#989898"/><stop offset=".92" stop-color="#dedede"/><stop offset="1" stop-color="#2e2e2e"/></radialGradient><circle id="bp" r="10" fill="url(#bumpg)"/><pattern id="bpat" width="230" height="190" patternUnits="userSpaceOnUse" patternTransform="rotate(-14)"><rect width="230" height="190" fill="#707070"/><use href="#bp" transform="translate(125 90)scale(2.75)"/><use href="#bp" transform="translate(58 -26)scale(2.72)"/><use href="#bp" transform="translate(58 164)scale(2.72)"/><use href="#bp" transform="translate(-20 44)scale(2.68)"/><use href="#bp" transform="translate(210 44)scale(2.68)"/><use href="#bp" transform="translate(27 -3)scale(2.55)"/><use href="#bp" transform="translate(27 187)scale(2.55)"/><use href="#bp" transform="translate(184 68)scale(2.44)"/><use href="#bp" transform="translate(90 87)scale(2.39)"/><use href="#bp" transform="translate(33 17)scale(2.38)"/><use href="#bp" transform="translate(33 207)scale(2.38)"/><use href="#bp" transform="translate(147 7)scale(2.36)"/><use href="#bp" transform="translate(147 197)scale(2.36)"/><use href="#bp" transform="translate(113 90)scale(2.35)"/><use href="#bp" transform="translate(172 29)scale(2.33)"/><use href="#bp" transform="translate(6 113)scale(2.32)"/><use href="#bp" transform="translate(236 113)scale(2.32)"/><use href="#bp" transform="translate(82 18)scale(2.14)"/><use href="#bp" transform="translate(82 208)scale(2.14)"/><use href="#bp" transform="translate(187 159)scale(2.11)"/><use href="#bp" transform="translate(90 90)scale(2.03)"/><use href="#bp" transform="translate(162 129)scale(2.01)"/><use href="#bp" transform="translate(-19 144)scale(2.01)"/><use href="#bp" transform="translate(211 144)scale(2.01)"/><use href="#bp" transform="translate(2 17)scale(2.01)"/><use href="#bp" transform="translate(2 207)scale(2.01)"/><use href="#bp" transform="translate(232 17)scale(2.01)"/><use href="#bp" transform="translate(232 207)scale(2.01)"/><use href="#bp" transform="translate(64 -11)scale(1.99)"/><use href="#bp" transform="translate(64 179)scale(1.99)"/><use href="#bp" transform="translate(127 23)scale(1.95)"/><use href="#bp" transform="translate(100 2)scale(1.95)"/><use href="#bp" transform="translate(100 192)scale(1.95)"/><use href="#bp" transform="translate(177 73)scale(1.93)"/><use href="#bp" transform="translate(51 74)scale(1.93)"/><use href="#bp" transform="translate(160 40)scale(1.89)"/><use href="#bp" transform="translate(71 100)scale(1.89)"/><use href="#bp" transform="translate(114 7)scale(1.89)"/><use href="#bp" transform="translate(114 197)scale(1.89)"/><use href="#bp" transform="translate(40 1)scale(1.89)"/><use href="#bp" transform="translate(40 191)scale(1.89)"/><use href="#bp" transform="translate(172 28)scale(1.88)"/><use href="#bp" transform="translate(74 -16)scale(1.87)"/><use href="#bp" transform="translate(74 174)scale(1.87)"/><use href="#bp" transform="translate(156 148)scale(1.84)"/><use href="#bp" transform="translate(194 -5)scale(1.84)"/><use href="#bp" transform="translate(194 185)scale(1.84)"/><use href="#bp" transform="translate(108 36)scale(1.83)"/><use href="#bp" transform="translate(-9 35)scale(1.83)"/><use href="#bp" transform="translate(221 35)scale(1.83)"/><use href="#bp" transform="translate(89 153)scale(1.81)"/><use href="#bp" transform="translate(69 17)scale(1.80)"/><use href="#bp" transform="translate(69 207)scale(1.80)"/><use href="#bp" transform="translate(30 105)scale(1.78)"/><use href="#bp" transform="translate(64 16)scale(1.77)"/><use href="#bp" transform="translate(64 206)scale(1.77)"/><use href="#bp" transform="translate(98 18)scale(1.76)"/><use href="#bp" transform="translate(33 120)scale(1.73)"/><use href="#bp" transform="translate(-4 141)scale(1.73)"/><use href="#bp" transform="translate(226 141)scale(1.73)"/><use href="#bp" transform="translate(101 134)scale(1.72)"/><use href="#bp" transform="translate(204 108)scale(1.71)"/><use href="#bp" transform="translate(43 150)scale(1.70)"/><use href="#bp" transform="translate(188 -12)scale(1.70)"/><use href="#bp" transform="translate(188 178)scale(1.70)"/><use href="#bp" transform="translate(184 62)scale(1.70)"/><use href="#bp" transform="translate(7 -8)scale(1.69)"/><use href="#bp" transform="translate(7 182)scale(1.69)"/><use href="#bp" transform="translate(237 -8)scale(1.69)"/><use href="#bp" transform="translate(237 182)scale(1.69)"/><use href="#bp" transform="translate(14 80)scale(1.68)"/><use href="#bp" transform="translate(244 80)scale(1.68)"/><use href="#bp" transform="translate(180 7)scale(1.68)"/><use href="#bp" transform="translate(180 197)scale(1.68)"/><use href="#bp" transform="translate(202 152)scale(1.68)"/><use href="#bp" transform="translate(165 31)scale(1.66)"/><use href="#bp" transform="translate(28 94)scale(1.66)"/><use href="#bp" transform="translate(22 88)scale(1.65)"/><use href="#bp" transform="translate(124 20)scale(1.64)"/><use href="#bp" transform="translate(30 130)scale(1.64)"/><use href="#bp" transform="translate(180 58)scale(1.63)"/><use href="#bp" transform="translate(148 -13)scale(1.62)"/><use href="#bp" transform="translate(148 177)scale(1.62)"/><use href="#bp" transform="translate(89 165)scale(1.61)"/><use href="#bp" transform="translate(174 -0)scale(1.61)"/><use href="#bp" transform="translate(174 190)scale(1.61)"/><use href="#bp" transform="translate(122 42)scale(1.60)"/><use href="#bp" transform="translate(70 8)scale(1.59)"/><use href="#bp" transform="translate(70 198)scale(1.59)"/><use href="#bp" transform="translate(67 84)scale(1.58)"/><use href="#bp" transform="translate(20 36)scale(1.56)"/><use href="#bp" transform="translate(88 87)scale(1.55)"/><use href="#bp" transform="translate(96 99)scale(1.54)"/><use href="#bp" transform="translate(207 95)scale(1.54)"/><use href="#bp" transform="translate(202 55)scale(1.54)"/><use href="#bp" transform="translate(55 -11)scale(1.53)"/><use href="#bp" transform="translate(55 179)scale(1.53)"/><use href="#bp" transform="translate(137 172)scale(1.53)"/><use href="#bp" transform="translate(210 112)scale(1.53)"/><use href="#bp" transform="translate(163 59)scale(1.53)"/><use href="#bp" transform="translate(111 129)scale(1.52)"/><use href="#bp" transform="translate(82 43)scale(1.52)"/><use href="#bp" transform="translate(79 73)scale(1.52)"/><use href="#bp" transform="translate(71 127)scale(1.49)"/><use href="#bp" transform="translate(-8 -10)scale(1.47)"/><use href="#bp" transform="translate(-8 180)scale(1.47)"/><use href="#bp" transform="translate(222 -10)scale(1.47)"/><use href="#bp" transform="translate(222 180)scale(1.47)"/><use href="#bp" transform="translate(-7 11)scale(1.47)"/><use href="#bp" transform="translate(-7 201)scale(1.47)"/><use href="#bp" transform="translate(223 11)scale(1.47)"/><use href="#bp" transform="translate(223 201)scale(1.47)"/><use href="#bp" transform="translate(26 90)scale(1.45)"/><use href="#bp" transform="translate(87 -4)scale(1.44)"/><use href="#bp" transform="translate(87 186)scale(1.44)"/><use href="#bp" transform="translate(-7 106)scale(1.44)"/><use href="#bp" transform="translate(223 106)scale(1.44)"/><use href="#bp" transform="translate(76 -5)scale(1.44)"/><use href="#bp" transform="translate(76 185)scale(1.44)"/><use href="#bp" transform="translate(13 4)scale(1.42)"/><use href="#bp" transform="translate(13 194)scale(1.42)"/><use href="#bp" transform="translate(243 4)scale(1.42)"/><use href="#bp" transform="translate(243 194)scale(1.42)"/><use href="#bp" transform="translate(200 97)scale(1.42)"/><use href="#bp" transform="translate(5 175)scale(1.41)"/><use href="#bp" transform="translate(235 175)scale(1.41)"/><use href="#bp" transform="translate(201 6)scale(1.41)"/><use href="#bp" transform="translate(201 196)scale(1.41)"/><use href="#bp" transform="translate(200 72)scale(1.40)"/><use href="#bp" transform="translate(44 15)scale(1.39)"/><use href="#bp" transform="translate(125 127)scale(1.38)"/><use href="#bp" transform="translate(64 -10)scale(1.38)"/><use href="#bp" transform="translate(64 180)scale(1.38)"/><use href="#bp" transform="translate(167 92)scale(1.37)"/><use href="#bp" transform="translate(186 135)scale(1.35)"/><use href="#bp" transform="translate(-7 76)scale(1.34)"/><use href="#bp" transform="translate(223 76)scale(1.34)"/><use href="#bp" transform="translate(24 127)scale(1.34)"/><use href="#bp" transform="translate(-12 76)scale(1.33)"/><use href="#bp" transform="translate(218 76)scale(1.33)"/><use href="#bp" transform="translate(6 -8)scale(1.33)"/><use href="#bp" transform="translate(6 182)scale(1.33)"/><use href="#bp" transform="translate(236 -8)scale(1.33)"/><use href="#bp" transform="translate(236 182)scale(1.33)"/><use href="#bp" transform="translate(27 63)scale(1.32)"/><use href="#bp" transform="translate(172 -3)scale(1.31)"/><use href="#bp" transform="translate(172 187)scale(1.31)"/><use href="#bp" transform="translate(-10 142)scale(1.30)"/><use href="#bp" transform="translate(220 142)scale(1.30)"/><use href="#bp" transform="translate(143 56)scale(1.27)"/><use href="#bp" transform="translate(110 47)scale(1.27)"/><use href="#bp" transform="translate(198 67)scale(1.26)"/><use href="#bp" transform="translate(183 6)scale(1.25)"/><use href="#bp" transform="translate(183 196)scale(1.25)"/><use href="#bp" transform="translate(99 14)scale(1.24)"/><use href="#bp" transform="translate(177 37)scale(1.24)"/><use href="#bp" transform="translate(180 100)scale(1.21)"/><use href="#bp" transform="translate(177 82)scale(1.21)"/><use href="#bp" transform="translate(6 40)scale(1.20)"/><use href="#bp" transform="translate(236 40)scale(1.20)"/><use href="#bp" transform="translate(159 37)scale(1.20)"/><use href="#bp" transform="translate(88 78)scale(1.18)"/><use href="#bp" transform="translate(-10 89)scale(1.17)"/><use href="#bp" transform="translate(220 89)scale(1.17)"/><use href="#bp" transform="translate(188 9)scale(1.17)"/><use href="#bp" transform="translate(188 199)scale(1.17)"/><use href="#bp" transform="translate(94 87)scale(1.16)"/><use href="#bp" transform="translate(25 147)scale(1.14)"/><use href="#bp" transform="translate(63 89)scale(1.13)"/><use href="#bp" transform="translate(111 103)scale(1.12)"/><use href="#bp" transform="translate(117 159)scale(1.12)"/><use href="#bp" transform="translate(191 100)scale(1.10)"/><use href="#bp" transform="translate(64 33)scale(1.09)"/><use href="#bp" transform="translate(179 151)scale(1.09)"/><use href="#bp" transform="translate(209 31)scale(1.09)"/><use href="#bp" transform="translate(6 59)scale(1.07)"/><use href="#bp" transform="translate(236 59)scale(1.07)"/><use href="#bp" transform="translate(189 18)scale(1.00)"/><use href="#bp" transform="translate(44 95)scale(1.00)"/><use href="#bp" transform="translate(195 80)scale(0.99)"/><use href="#bp" transform="translate(20 148)scale(0.99)"/><use href="#bp" transform="translate(135 97)scale(0.98)"/><use href="#bp" transform="translate(89 125)scale(0.97)"/><use href="#bp" transform="translate(218 92)scale(0.97)"/><use href="#bp" transform="translate(-2 74)scale(0.96)"/><use href="#bp" transform="translate(228 74)scale(0.96)"/><use href="#bp" transform="translate(173 40)scale(0.94)"/><use href="#bp" transform="translate(60 147)scale(0.94)"/><use href="#bp" transform="translate(147 156)scale(0.94)"/><use href="#bp" transform="translate(55 122)scale(0.93)"/><use href="#bp" transform="translate(186 95)scale(0.91)"/><use href="#bp" transform="translate(113 51)scale(0.87)"/><use href="#bp" transform="translate(13 90)scale(0.86)"/><use href="#bp" transform="translate(185 48)scale(0.85)"/><use href="#bp" transform="translate(220 16)scale(0.84)"/><use href="#bp" transform="translate(200 129)scale(0.84)"/><use href="#bp" transform="translate(212 143)scale(0.82)"/><use href="#bp" transform="translate(33 68)scale(0.81)"/><use href="#bp" transform="translate(104 118)scale(0.80)"/><use href="#bp" transform="translate(170 44)scale(0.80)"/><use href="#bp" transform="translate(196 15)scale(0.79)"/><use href="#bp" transform="translate(141 81)scale(0.78)"/><use href="#bp" transform="translate(111 145)scale(0.78)"/><use href="#bp" transform="translate(181 33)scale(0.78)"/><use href="#bp" transform="translate(43 112)scale(0.77)"/><use href="#bp" transform="translate(9 59)scale(0.77)"/><use href="#bp" transform="translate(160 -7)scale(0.77)"/><use href="#bp" transform="translate(160 183)scale(0.77)"/><use href="#bp" transform="translate(53 97)scale(0.76)"/><use href="#bp" transform="translate(32 13)scale(0.75)"/></pattern><clipPath id="cs1"><rect width="552.2" height="386.9"/></clipPath><clipPath id="cs2"><rect width="552.8" height="385.6"/></clipPath><clipPath id="cs3"><rect width="553.2" height="387.9"/></clipPath><linearGradient id="crg" x1="0" x2="1" y1="0" y2="0"><stop offset="0" stop-color="#111"/><stop offset=".13" stop-color="#3a3a3a"/><stop offset=".2" stop-color="#8a8a8a"/><stop offset=".24" stop-color="#646464"/><stop offset="1" stop-color="#5c5c5c"/></linearGradient><clipPath id="cs4"><rect width="552.5" height="385.2"/></clipPath><clipPath id="cs5"><rect width="543.6" height="379.4"/></clipPath><clipPath id="cs6"><rect width="543.6" height="378.8"/></clipPath><clipPath id="cs7"><rect width="541.4" height="378.9"/></clipPath><clipPath id="cs8"><rect width="540.7" height="379"/></clipPath></defs>
<rect width="4000" height="2735" fill="#fff"/>
<path d="M89.5 49.7H3943.6V559.7M90.9 48.3V559.7H3943.6" fill="none" stroke="#1a1a1a" stroke-width="2.8" stroke-dasharray="16.2 15.1"/>
<text x="10" y="118.8" font-size="90.9" fill="#000">A</text>
<use href="#gA" x="146.6" y="105"/>
<rect x="765.7" y="104.6" width="606" height="402.6" fill="#070103"/>
<use href="#gA" x="1386.7" y="104.6"/>
<use href="#gB" x="2046.4" y="101.2"/>
<rect x="2665.7" y="101.2" width="606" height="402.6" fill="#070103"/>
<use href="#gB" x="3286.7" y="101.2"/>
<text x="386" y="180.7" font-size="67.6" fill="#fff">Live</text>
<text x="993.8" y="182" font-size="67.5" fill="#fff">Dead</text>
<text x="1596.6" y="182" font-size="67.5" fill="#fff">Merge</text>
<text x="2285" y="180.5" font-size="68.5" fill="#fff">Live</text>
<text x="2893.4" y="180.5" font-size="67.2" fill="#fff">Dead</text>
<text x="3496" y="181" font-size="67.5" fill="#fff">Merge</text>
<text x="164.9" y="480" font-size="57.2" fill="#fff">Control</text>
<text x="2065.1" y="477.5" font-size="56.7" fill="#fff">PECS38</text>
<text x="549.5" y="480" font-size="56.6" fill="#fff">100 μm</text>
<rect x="581" y="411" width="121" height="8.8" fill="#fff"/>
<text x="1168.5" y="480.5" font-size="56.6" fill="#fff">100 μm</text>
<rect x="1199" y="411" width="121.5" height="8.8" fill="#fff"/>
<text x="1788.5" y="480.5" font-size="56.6" fill="#fff">100 μm</text>
<rect x="1819" y="411" width="122" height="8.8" fill="#fff"/>
<text x="2450.5" y="478.7" font-size="56.1" fill="#fff">100 μm</text>
<rect x="2480" y="410.6" width="122" height="8.8" fill="#fff"/>
<text x="3067.4" y="478.7" font-size="57" fill="#fff">100 μm</text>
<rect x="3099" y="410.6" width="121" height="8.8" fill="#fff"/>
<text x="3688.5" y="479.5" font-size="56.6" fill="#fff">100 μm</text>
<rect x="3719.8" y="410.4" width="120.9" height="8.8" fill="#fff"/>
<text x="19.3" y="807.7" font-size="89.3" fill="#000">B</text>
<rect x="365" y="1148.9" width="110.7" height="322.1" fill="#80d9d3" stroke="#1a1a1a" stroke-width="1.8"/>
<rect x="475.7" y="1117.5" width="110.5" height="353.5" fill="#fb9f9c" stroke="#1a1a1a" stroke-width="1.8"/>
<rect x="586.2" y="1074.3" width="111.3" height="396.7" fill="#9fcefb" stroke="#1a1a1a" stroke-width="1.8"/>
<rect x="839.5" y="1133.2" width="110.9" height="337.8" fill="#80d9d3" stroke="#1a1a1a" stroke-width="1.8"/>
<rect x="950.4" y="999.6" width="110.8" height="471.4" fill="#fb9f9c" stroke="#1a1a1a" stroke-width="1.8"/>
<rect x="1061.2" y="862.2" width="110.8" height="608.8" fill="#9fcefb" stroke="#1a1a1a" stroke-width="1.8"/>
<path d="M420.4 1141V1156.8M411.6 1141h17.6M411.6 1156.8h17.6M531 1109.6V1125.3M522.2 1109.6h17.6M522.2 1125.3h17.6M641.9 1058.6V1090M633.1 1058.6h17.6M633.1 1090h17.6M895 1117.5V1148.9M886.2 1117.5h17.6M886.2 1148.9h17.6M1005.8 960.4V1038.9M997 960.4h17.6M997 1038.9h17.6M1116.6 822.9V901.4M1107.8 822.9h17.6M1107.8 901.4h17.6" stroke="#000" stroke-width="2.8" fill="none"/>
<rect x="294.1" y="745" width="949.1" height="726" fill="none" stroke="#000" stroke-width="5.3"/>
<path d="M294.1 1471h-16M294.1 1353.2h-16M294.1 1235.3h-16M294.1 1117.5h-16M294.1 999.6h-16M294.1 881.8h-16M294.1 764h-16" stroke="#000" stroke-width="4.6" fill="none"/>
<path d="M294.1 1412.1h-8.5M294.1 1294.2h-8.5M294.1 1176.4h-8.5M294.1 1058.6h-8.5M294.1 940.7h-8.5M294.1 822.9h-8.5" stroke="#000" stroke-width="4.6" fill="none"/>
<path d="M531.4 1471v16.5M1006 1471v16.5" stroke="#000" stroke-width="4.6" fill="none"/>
<path d="M294.1 1471v8.5M768.4 1471v8.5M1243.2 1471v8.5" stroke="#000" stroke-width="4.6" fill="none"/>
<text x="267.2" y="1491.8" font-size="68.8" text-anchor="end" fill="#000">0</text>
<text x="267.2" y="1374" font-size="68.8" text-anchor="end" fill="#000">30</text>
<text x="267.2" y="1256.1" font-size="68.8" text-anchor="end" fill="#000">60</text>
<text x="267.2" y="1138.3" font-size="68.8" text-anchor="end" fill="#000">90</text>
<text x="267.2" y="1020.4" font-size="68.8" text-anchor="end" fill="#000">120</text>
<text x="267.2" y="902.6" font-size="68.8" text-anchor="end" fill="#000">150</text>
<text x="267.2" y="784.8" font-size="68.8" text-anchor="end" fill="#000">180</text>
<text transform="translate(142.5 1103.8) rotate(-90)" font-size="73" text-anchor="middle">Cell Viability (%)</text>
<text x="414.5" y="1558" font-size="67.6" fill="#000">PECS28</text>
<text x="889.7" y="1558" font-size="68.1" fill="#000">PECS38</text>
<rect x="363.9" y="806.8" width="101.6" height="49.8" fill="#80d9d3" stroke="#1a1a1a" stroke-width="1.8"/>
<text x="477.7" y="847.3" font-size="44.3" fill="#000">Day1</text>
<rect x="589.5" y="806.8" width="101.6" height="49.8" fill="#fb9f9c" stroke="#1a1a1a" stroke-width="1.8"/>
<text x="703.8" y="847.3" font-size="45" fill="#000">Day2</text>
<rect x="815.4" y="806.8" width="101.6" height="49.8" fill="#9fcefb" stroke="#1a1a1a" stroke-width="1.8"/>
<text x="928.2" y="847.3" font-size="45.3" fill="#000">Day3</text>
<text x="30.9" y="1868.8" font-size="96.8" fill="#000">C</text>
<rect x="373.1" y="1865.3" width="158.5" height="674.7" fill="#f7cb99" stroke="#000" stroke-width="3.6"/>
<rect x="691.2" y="2492.5" width="155.5" height="47.5" fill="#f7cb99" stroke="#000" stroke-width="3.6"/>
<rect x="1007.2" y="2500.2" width="156" height="39.8" fill="#f7cb99" stroke="#000" stroke-width="3.6"/>
<rect x="366" y="2139.8" width="174" height="12.9" fill="#fff"/>
<rect x="280" y="2533.5" width="980" height="12" fill="#fff"/>
<rect x="294.1" y="1808" width="949.1" height="725.5" fill="none" stroke="#000" stroke-width="5.3"/>
<rect x="288" y="2142.6" width="12" height="11.6" fill="#fff"/><rect x="1237" y="2142.6" width="12" height="11.6" fill="#fff"/>
<path d="M287.1 2145.2l14.2-11.4M287.1 2157.4l14.2-10.3M1236.2 2145.2l14.2-11.4M1236.2 2157.4l14.2-10.3" stroke="#000" stroke-width="4.8" fill="none"/>
<path d="M294.1 1863.6h-16M294.1 1973.8h-16M294.1 2084.3h-16M294.1 2230h-16M294.1 2306.8h-16M294.1 2384h-16M294.1 2461.4h-16" stroke="#000" stroke-width="4.6" fill="none"/>
<path d="M294.1 1918.7h-8.5M294.1 2029h-8.5M294.1 2268.4h-8.5M294.1 2345.4h-8.5M294.1 2422.7h-8.5" stroke="#000" stroke-width="4.6" fill="none"/>
<path d="M451.2 2533.5v16.5M768.4 2533.5v16.5M1085.5 2533.5v16.5" stroke="#000" stroke-width="4.6" fill="none"/>
<path d="M294.1 2533.5v8.5M610.4 2533.5v8.5M927 2533.5v8.5M1243.2 2533.5v8.5" stroke="#000" stroke-width="4.6" fill="none"/>
<text x="267.2" y="1884.4" font-size="68.8" text-anchor="end" fill="#000">100</text>
<text x="267.2" y="1994.6" font-size="68.8" text-anchor="end" fill="#000">96</text>
<text x="267.2" y="2105.1" font-size="68.8" text-anchor="end" fill="#000">92</text>
<text x="267.2" y="2250.8" font-size="68.8" text-anchor="end" fill="#000">0.8</text>
<text x="267.2" y="2327.6" font-size="68.8" text-anchor="end" fill="#000">0.6</text>
<text x="267.2" y="2404.8" font-size="68.8" text-anchor="end" fill="#000">0.4</text>
<text x="267.2" y="2482.2" font-size="68.8" text-anchor="end" fill="#000">0.2</text>
<text transform="translate(142 2174.9) rotate(-90)" font-size="69.6" text-anchor="middle">Hemolysis (%)</text>
<text x="354.1" y="2602.5" font-size="53" fill="#000">Negative</text>
<text x="675.2" y="2602.5" font-size="52.9" fill="#000">PECS28</text>
<text x="992.2" y="2602.5" font-size="52.7" fill="#000">PECS38</text>
<text x="416.9" y="1853" font-size="46.4" fill="#000">100</text>
<text x="728" y="2482.5" font-size="45.9" fill="#000">0.12</text>
<text x="1056.3" y="2490" font-size="44.3" fill="#000">0.1</text>
<g id="photo">
<rect x="585.8" y="2041.6" width="647.2" height="255.6" fill="url(#phbg)"/>
<text x="598.2" y="2083.6" font-size="36.7" fill="#0a0a0a" style="font-family:Liberation Sans,sans-serif">positive</text>
<text x="752.6" y="2083.6" font-size="36.8" fill="#0a0a0a" style="font-family:Liberation Sans,sans-serif">negative</text>
<text x="917.3" y="2083.6" font-size="37" fill="#0a0a0a" style="font-family:Liberation Sans,sans-serif">PECS28</text>
<text x="1077.4" y="2083.6" font-size="36.8" fill="#0a0a0a" style="font-family:Liberation Sans,sans-serif">PECS38</text>
<ellipse cx="707" cy="2108.5" rx="9" ry="4.5" fill="none" stroke="#b9b7b6" stroke-width="2.2"/><ellipse cx="664" cy="2107.5" rx="49" ry="7" fill="#c4c2c1"/><ellipse cx="663" cy="2105.5" rx="44" ry="4.2" fill="#ecebea"/><path d="M634 2111h58l-2 12h-54z" fill="#d9a29c"/><path d="M637.3 2121 L688.7 2121 L689 2203 L681.5 2262 Q678 2284 666 2284 Q654 2284 650.5 2262 L640 2203Z" fill="url(#redg)" stroke="#e5a39b" stroke-width="1.5"/><path d="M648 2121 L682 2121 L681 2200 Q667 2222 651 2200Z" fill="#f0a79d" opacity=".45"/><path d="M658 2190v12" stroke="#fff" stroke-width="2.5" opacity=".8"/>
<ellipse cx="873.5" cy="2108.5" rx="9" ry="4.5" fill="none" stroke="#b9b7b6" stroke-width="2.2"/><ellipse cx="830.5" cy="2107.5" rx="49" ry="7" fill="#c4c2c1"/><ellipse cx="829.5" cy="2105.5" rx="44" ry="4.2" fill="#ecebea"/><path d="M800.5 2111h58l-2 12h-54z" fill="#c9c8c7"/><path d="M803.8 2121 L855.2 2121 L855.5 2203 L847 2262 Q843.5 2284 831.5 2284 Q819.5 2284 816 2262 L806.5 2203Z" fill="url(#clrg)" stroke="#9b9795" stroke-width="1.3"/><path d="M808.5 2121 L849.5 2121 L848.5 2164 Q829.5 2188 810.5 2164Z" fill="#bdbcbc" opacity=".7"/><ellipse cx="829.5" cy="2273.5" rx="11.5" ry="8.5" fill="#8f1216" transform="rotate(-12 829.5 2273.5)"/>
<ellipse cx="1032" cy="2108.5" rx="9" ry="4.5" fill="none" stroke="#b9b7b6" stroke-width="2.2"/><ellipse cx="989" cy="2107.5" rx="49" ry="7" fill="#c4c2c1"/><ellipse cx="988" cy="2105.5" rx="44" ry="4.2" fill="#ecebea"/><path d="M959 2111h58l-2 12h-54z" fill="#c9c8c7"/><path d="M962.3 2121 L1013.7 2121 L1014 2203 L998.5 2262 Q995 2284 983 2284 Q971 2284 967.5 2262 L965 2203Z" fill="url(#clrg)" stroke="#9b9795" stroke-width="1.3"/><path d="M967 2121 L1008 2121 L1007 2164 Q988 2188 969 2164Z" fill="#bdbcbc" opacity=".7"/><ellipse cx="983" cy="2272" rx="11.5" ry="8.5" fill="#8f1216" transform="rotate(-12 983 2272)"/>
<ellipse cx="1194.5" cy="2108.5" rx="9" ry="4.5" fill="none" stroke="#b9b7b6" stroke-width="2.2"/><ellipse cx="1151.5" cy="2107.5" rx="49" ry="7" fill="#c4c2c1"/><ellipse cx="1150.5" cy="2105.5" rx="44" ry="4.2" fill="#ecebea"/><path d="M1121.5 2111h58l-2 12h-54z" fill="#c9c8c7"/><path d="M1124.8 2121 L1176.2 2121 L1176.5 2203 L1160.5 2262 Q1157 2284 1145 2284 Q1133 2284 1129.5 2262 L1127.5 2203Z" fill="url(#clrg)" stroke="#9b9795" stroke-width="1.3"/><path d="M1129.5 2121 L1170.5 2121 L1169.5 2164 Q1150.5 2188 1131.5 2164Z" fill="#bdbcbc" opacity=".7"/><ellipse cx="1143.5" cy="2275" rx="11.5" ry="8.5" fill="#8f1216" transform="rotate(-12 1143.5 2275)"/>
</g>
<text x="1370.1" y="805" font-size="93.2" fill="#000">D</text>
<rect x="1666.1" y="744.8" width="949.3" height="726.2" fill="none" stroke="#000" stroke-width="4"/>
<path d="M1666.1 1437.4h-16M1666.1 1305.4h-16M1666.1 1173.4h-16M1666.1 1041.5h-16M1666.1 909.5h-16M1666.1 777.5h-16" stroke="#000" stroke-width="4.1" fill="none"/>
<path d="M1666.1 1371.4h-8M1666.1 1239.4h-8M1666.1 1107.5h-8M1666.1 975.5h-8M1666.1 843.5h-8" stroke="#000" stroke-width="4.1" fill="none"/>
<path d="M1701 1471v15.3M1876.7 1471v15.3M2052.4 1471v15.3M2228.1 1471v15.3M2403.8 1471v15.3M2579.5 1471v15.3" stroke="#000" stroke-width="4" fill="none"/>
<path d="M1788.8 1471v7.6M1964.5 1471v7.6M2140.2 1471v7.6M2315.9 1471v7.6M2491.7 1471v7.6" stroke="#000" stroke-width="4" fill="none"/>
<text x="1639.3" y="1457.8" font-size="68.8" text-anchor="end" fill="#000">0</text>
<text x="1639.3" y="1325.8" font-size="68.8" text-anchor="end" fill="#000">20</text>
<text x="1639.3" y="1193.8" font-size="68.8" text-anchor="end" fill="#000">40</text>
<text x="1639.3" y="1061.9" font-size="68.8" text-anchor="end" fill="#000">60</text>
<text x="1639.3" y="929.9" font-size="68.8" text-anchor="end" fill="#000">80</text>
<text x="1639.3" y="797.9" font-size="68.8" text-anchor="end" fill="#000">100</text>
<text x="1701" y="1551" font-size="68.8" text-anchor="middle" fill="#000">0</text>
<text x="1876.7" y="1551" font-size="68.8" text-anchor="middle" fill="#000">1</text>
<text x="2052.4" y="1551" font-size="68.8" text-anchor="middle" fill="#000">2</text>
<text x="2228.1" y="1551" font-size="68.8" text-anchor="middle" fill="#000">3</text>
<text x="2403.8" y="1551" font-size="68.8" text-anchor="middle" fill="#000">4</text>
<text x="2579.5" y="1551" font-size="68.8" text-anchor="middle" fill="#000">5</text>
<text transform="translate(1514 1108.3) rotate(-90)" font-size="69" text-anchor="middle">Residue Weight (%)</text>
<text x="1790.6" y="1635.3" font-size="68.4" fill="#000">Degradation Time (day)</text>
<path d="M1726.1 793.9L1747 807.6M1775.9 826.5L1796.8 840.1M1825.7 859L1846.7 872.7M1904.1 904.6L1926.9 914.8M1958.4 928.8L1981.2 939M2012.7 953.1L2026.8 959.4M2076.3 989L2096.2 1004.1M2123.7 1024.9L2143.6 1040.1M2171.1 1060.9L2191 1076M2247.8 1126.8L2264.3 1145.6M2287 1171.6L2303.4 1190.4M2326.1 1216.4L2342.5 1235.2M2365.2 1261.2L2381.7 1280.1M2427.8 1323.4L2447.8 1338.5M2475.4 1359.2L2495.3 1374.2M2522.9 1394.9L2542.9 1409.9" stroke="#f1828a" stroke-width="4.6" stroke-linecap="round" fill="none"/>
<path d="M1715.2 803.9L1727.1 825.9M1743.5 856.3L1755.3 878.3M1771.7 908.7L1783.6 930.7M1799.9 961L1811.8 983M1828.2 1013.4L1840 1035.4M1856.4 1065.8L1863.4 1078.8M1900.3 1122.1L1919.9 1137.6M1947 1158.9L1966.6 1174.4M1993.7 1195.8L2013.3 1211.2M2073.7 1263.2L2091.4 1280.9M2115.8 1305.2L2133.6 1322.8M2158 1347.2L2175.7 1364.8M2200.2 1389.2L2208.3 1397.2M2257.9 1420.4L2282.7 1423.3M2317 1427.3L2341.8 1430.2" stroke="#5f9dd8" stroke-width="4.6" stroke-linecap="round" fill="none"/>
<path d="M1679.1 764.9h43.8L1701 802.8Z" fill="none" stroke="#f1828a" stroke-width="1.8"/>
<path d="M1854.8 879.7h43.8L1876.7 917.6Z" fill="none" stroke="#f1828a" stroke-width="1.8"/>
<path d="M1876.7 885.3v18M1871.7 887.3h10M1871.7 896.3h10" stroke="#f1828a" stroke-width="1" fill="none"/>
<path d="M2030.5 958.2h43.8L2052.4 996.1Z" fill="none" stroke="#f1828a" stroke-width="1.8"/>
<path d="M2052.4 963.9v18M2047.4 965.9h10M2047.4 974.9h10" stroke="#f1828a" stroke-width="1" fill="none"/>
<path d="M2206.2 1091.5h43.8L2228.1 1129.4Z" fill="none" stroke="#f1828a" stroke-width="1.8"/>
<path d="M2228.1 1097.2v18M2223.1 1099.2h10M2223.1 1108.2h10" stroke="#f1828a" stroke-width="1" fill="none"/>
<path d="M2381.9 1292.8h43.8L2403.8 1330.7Z" fill="none" stroke="#f1828a" stroke-width="1.8"/>
<path d="M2403.8 1298.4v18M2398.8 1300.4h10M2398.8 1309.4h10" stroke="#f1828a" stroke-width="1" fill="none"/>
<path d="M2557.6 1424.8h43.8L2579.5 1462.7Z" fill="none" stroke="#f1828a" stroke-width="1.8"/>
<path d="M1677.6 777.5L1701 754.1L1724.4 777.5L1701 800.9Z" fill="none" stroke="#5f9dd8" stroke-width="1.8"/>
<path d="M1853.3 1103.5L1876.7 1080.1L1900.1 1103.5L1876.7 1126.9Z" fill="none" stroke="#5f9dd8" stroke-width="1.8"/>
<path d="M1876.7 1092.5v22M1871.7 1099.5h10M1871.7 1107.5h10" stroke="#5f9dd8" stroke-width="1" fill="none"/>
<path d="M2029 1242.1L2052.4 1218.7L2075.8 1242.1L2052.4 1265.5Z" fill="none" stroke="#5f9dd8" stroke-width="1.8"/>
<path d="M2052.4 1231.1v22M2047.4 1238.1h10M2047.4 1246.1h10" stroke="#5f9dd8" stroke-width="1" fill="none"/>
<path d="M2204.7 1416.9L2228.1 1393.5L2251.5 1416.9L2228.1 1440.3Z" fill="none" stroke="#5f9dd8" stroke-width="1.8"/>
<path d="M2228.1 1405.9v22M2223.1 1412.9h10M2223.1 1420.9h10" stroke="#5f9dd8" stroke-width="1" fill="none"/>
<path d="M2380.4 1437.4L2403.8 1414L2427.2 1437.4L2403.8 1460.8Z" fill="none" stroke="#5f9dd8" stroke-width="1.8"/>
<path d="M1916 821.9H1944M1996 821.9H2021" stroke="#f1828a" stroke-width="4.6" stroke-linecap="round"/>
<path d="M1947.6 809.5h43.8L1969.5 847.4Z" fill="none" stroke="#f1828a" stroke-width="1.8"/>
<text x="2037.8" y="841" font-size="59.1" fill="#000">PECS28</text>
<path d="M2273 821.9H2300M2352 821.9H2378" stroke="#5f9dd8" stroke-width="4.6" stroke-linecap="round"/>
<path d="M2303.1 822.5L2326.5 799.1L2349.9 822.5L2326.5 845.9Z" fill="none" stroke="#5f9dd8" stroke-width="1.8"/>
<text x="2394.8" y="841" font-size="58.8" fill="#000">PECS38</text>
<text x="1370.3" y="1861.2" font-size="90.1" fill="#000">E</text>
<path d="M1687.6 2503.5h14.6v14.6h-14.6zM1692.4 2499.7h14.6v14.6h-14.6zM1697.3 2496h14.6v14.6h-14.6zM1702.2 2492.3h14.6v14.6h-14.6zM1707 2488.9h14.6v14.6h-14.6zM1711.9 2485.7h14.6v14.6h-14.6zM1716.7 2482.5h14.6v14.6h-14.6zM1721.6 2479.3h14.6v14.6h-14.6zM1726.5 2476.1h14.6v14.6h-14.6zM1731.3 2472.9h14.6v14.6h-14.6zM1736.2 2469.7h14.6v14.6h-14.6zM1741.1 2466.6h14.6v14.6h-14.6zM1745.9 2463.4h14.6v14.6h-14.6zM1750.8 2460.2h14.6v14.6h-14.6zM1755.7 2457h14.6v14.6h-14.6zM1760.5 2453.8h14.6v14.6h-14.6zM1765.4 2450.6h14.6v14.6h-14.6zM1770.2 2447.9h14.6v14.6h-14.6zM1775.1 2445.4h14.6v14.6h-14.6zM1780 2442.9h14.6v14.6h-14.6zM1784.8 2440.3h14.6v14.6h-14.6zM1789.7 2437.8h14.6v14.6h-14.6zM1794.6 2435.2h14.6v14.6h-14.6zM1799.4 2432.7h14.6v14.6h-14.6zM1804.3 2430.1h14.6v14.6h-14.6zM1809.1 2427.6h14.6v14.6h-14.6zM1814 2425h14.6v14.6h-14.6zM1818.9 2422.5h14.6v14.6h-14.6zM1823.7 2419.9h14.6v14.6h-14.6zM1828.6 2417.4h14.6v14.6h-14.6zM1833.5 2414.8h14.6v14.6h-14.6zM1838.3 2412.3h14.6v14.6h-14.6zM1843.2 2407.8h14.6v14.6h-14.6zM1848.1 2403.2h14.6v14.6h-14.6zM1852.9 2398.7h14.6v14.6h-14.6zM1857.8 2394.2h14.6v14.6h-14.6zM1862.6 2389.7h14.6v14.6h-14.6zM1867.5 2385.2h14.6v14.6h-14.6zM1872.4 2380.7h14.6v14.6h-14.6zM1877.2 2376.1h14.6v14.6h-14.6zM1882.1 2371.2h14.6v14.6h-14.6zM1887 2366.1h14.6v14.6h-14.6zM1891.8 2361h14.6v14.6h-14.6zM1896.7 2355.9h14.6v14.6h-14.6zM1901.6 2350.8h14.6v14.6h-14.6zM1906.4 2345.7h14.6v14.6h-14.6zM1911.3 2340.6h14.6v14.6h-14.6zM1916.1 2335.5h14.6v14.6h-14.6zM1921 2330.4h14.6v14.6h-14.6zM1925.9 2325.3h14.6v14.6h-14.6zM1930.7 2320.2h14.6v14.6h-14.6zM1935.6 2315.1h14.6v14.6h-14.6zM1940.5 2310.4h14.6v14.6h-14.6zM1945.3 2306h14.6v14.6h-14.6zM1950.2 2301.5h14.6v14.6h-14.6zM1955.1 2297.1h14.6v14.6h-14.6zM1959.9 2292.6h14.6v14.6h-14.6zM1964.8 2288.2h14.6v14.6h-14.6zM1969.6 2283.7h14.6v14.6h-14.6zM1974.5 2279.2h14.6v14.6h-14.6zM1979.4 2275.7h14.6v14.6h-14.6zM1984.2 2272.1h14.6v14.6h-14.6zM1989.1 2268.5h14.6v14.6h-14.6zM1994 2264.9h14.6v14.6h-14.6zM1998.8 2261.3h14.6v14.6h-14.6zM2003.7 2257.7h14.6v14.6h-14.6zM2008.5 2254.1h14.6v14.6h-14.6zM2013.4 2250.5h14.6v14.6h-14.6zM2018.3 2246.9h14.6v14.6h-14.6zM2023.1 2243.3h14.6v14.6h-14.6zM2028 2239.7h14.6v14.6h-14.6zM2032.9 2236.1h14.6v14.6h-14.6zM2037.7 2232.6h14.6v14.6h-14.6zM2042.6 2229h14.6v14.6h-14.6zM2047.5 2225.2h14.6v14.6h-14.6zM2052.3 2221.2h14.6v14.6h-14.6zM2057.2 2217.2h14.6v14.6h-14.6zM2062 2213.2h14.6v14.6h-14.6zM2066.9 2209.2h14.6v14.6h-14.6zM2071.8 2205.2h14.6v14.6h-14.6zM2076.6 2201.1h14.6v14.6h-14.6zM2081.5 2197.3h14.6v14.6h-14.6zM2086.4 2194h14.6v14.6h-14.6zM2091.2 2190.7h14.6v14.6h-14.6zM2096.1 2187.4h14.6v14.6h-14.6zM2101 2184.1h14.6v14.6h-14.6zM2105.8 2180.8h14.6v14.6h-14.6zM2110.7 2177.5h14.6v14.6h-14.6zM2115.5 2174.2h14.6v14.6h-14.6zM2120.4 2170.9h14.6v14.6h-14.6zM2125.3 2167.1h14.6v14.6h-14.6zM2130.1 2163.4h14.6v14.6h-14.6zM2135 2159.6h14.6v14.6h-14.6zM2139.9 2155.9h14.6v14.6h-14.6zM2144.7 2152.1h14.6v14.6h-14.6zM2149.6 2148.4h14.6v14.6h-14.6zM2154.4 2144.6h14.6v14.6h-14.6zM2159.3 2140.8h14.6v14.6h-14.6zM2164.2 2137.1h14.6v14.6h-14.6zM2169 2133.3h14.6v14.6h-14.6zM2173.9 2129.6h14.6v14.6h-14.6zM2178.8 2125.8h14.6v14.6h-14.6zM2183.6 2122h14.6v14.6h-14.6zM2188.5 2118.3h14.6v14.6h-14.6zM2193.4 2114.5h14.6v14.6h-14.6zM2198.2 2110.8h14.6v14.6h-14.6zM2203.1 2106.8h14.6v14.6h-14.6zM2207.9 2102.5h14.6v14.6h-14.6zM2212.8 2098.2h14.6v14.6h-14.6zM2217.7 2093.9h14.6v14.6h-14.6zM2222.5 2089.6h14.6v14.6h-14.6zM2227.4 2085.3h14.6v14.6h-14.6zM2232.3 2081h14.6v14.6h-14.6zM2237.1 2076.7h14.6v14.6h-14.6zM2242 2072.4h14.6v14.6h-14.6zM2246.9 2068.1h14.6v14.6h-14.6zM2251.7 2063.8h14.6v14.6h-14.6zM2256.6 2059.5h14.6v14.6h-14.6zM2261.4 2055.2h14.6v14.6h-14.6zM2266.3 2050.9h14.6v14.6h-14.6zM2271.2 2046.6h14.6v14.6h-14.6zM2276 2042.4h14.6v14.6h-14.6zM2280.9 2038.1h14.6v14.6h-14.6zM2285.8 2035.5h14.6v14.6h-14.6zM2290.6 2033.4h14.6v14.6h-14.6zM2295.5 2031.3h14.6v14.6h-14.6zM2300.4 2029.2h14.6v14.6h-14.6zM2305.2 2027.1h14.6v14.6h-14.6zM2310.1 2025h14.6v14.6h-14.6zM2314.9 2022.9h14.6v14.6h-14.6zM2319.8 2020.8h14.6v14.6h-14.6zM2324.7 2018.7h14.6v14.6h-14.6zM2329.5 2016.3h14.6v14.6h-14.6zM2334.4 2013.9h14.6v14.6h-14.6zM2339.3 2011.5h14.6v14.6h-14.6zM2344.1 2009.1h14.6v14.6h-14.6zM2349 2006.7h14.6v14.6h-14.6zM2353.8 2004.3h14.6v14.6h-14.6zM2358.7 2001.9h14.6v14.6h-14.6zM2363.6 1999.5h14.6v14.6h-14.6zM2368.4 1997.1h14.6v14.6h-14.6zM2373.3 1994.7h14.6v14.6h-14.6zM2378.2 1992.3h14.6v14.6h-14.6zM2383 1989.9h14.6v14.6h-14.6zM2387.9 1987.5h14.6v14.6h-14.6zM2392.8 1985.1h14.6v14.6h-14.6zM2397.6 1982.7h14.6v14.6h-14.6zM2402.5 1980.3h14.6v14.6h-14.6zM2407.3 1977.9h14.6v14.6h-14.6zM2412.2 1975.5h14.6v14.6h-14.6zM2417.1 1973.3h14.6v14.6h-14.6zM2421.9 1971.1h14.6v14.6h-14.6zM2426.8 1969h14.6v14.6h-14.6zM2431.7 1966.9h14.6v14.6h-14.6zM2436.5 1964.7h14.6v14.6h-14.6zM2441.4 1962.6h14.6v14.6h-14.6zM2446.3 1960.4h14.6v14.6h-14.6zM2451.1 1958.3h14.6v14.6h-14.6zM2456 1956.1h14.6v14.6h-14.6zM2460.8 1954h14.6v14.6h-14.6zM2465.7 1951.8h14.6v14.6h-14.6zM2470.6 1949.7h14.6v14.6h-14.6zM2475.4 1947.5h14.6v14.6h-14.6zM2480.3 1945.4h14.6v14.6h-14.6zM2485.2 1943.2h14.6v14.6h-14.6zM2490 1941.1h14.6v14.6h-14.6zM2494.9 1938.9h14.6v14.6h-14.6zM2499.8 1936.8h14.6v14.6h-14.6zM2504.6 1934.6h14.6v14.6h-14.6zM2509.5 1932.5h14.6v14.6h-14.6zM2514.3 1930.4h14.6v14.6h-14.6zM2519.2 1928.2h14.6v14.6h-14.6zM2524.1 1926.1h14.6v14.6h-14.6zM2528.9 1923.9h14.6v14.6h-14.6zM2533.8 1921.8h14.6v14.6h-14.6zM2538.7 1919.6h14.6v14.6h-14.6zM2543.5 1917.5h14.6v14.6h-14.6zM2548.4 1915.3h14.6v14.6h-14.6zM2553.2 1913.2h14.6v14.6h-14.6zM2558.1 1911h14.6v14.6h-14.6z" fill="#6787ba"/>
<path d="M1694.9 2508.7h.01M1699.7 2504.6h.01M1704.6 2500.5h.01M1709.5 2496.4h.01M1714.3 2492.4h.01M1719.2 2488.5h.01M1724 2484.6h.01M1728.9 2480.7h.01M1733.8 2476.8h.01M1738.6 2472.9h.01M1743.5 2469h.01M1748.4 2465.1h.01M1753.2 2461.2h.01M1758.1 2457.3h.01M1763 2453.4h.01M1767.8 2449.5h.01M1772.7 2445.6h.01M1777.5 2441.7h.01M1782.4 2437.8h.01M1787.3 2433.9h.01M1792.1 2430h.01M1797 2426.1h.01M1801.9 2422.2h.01M1806.7 2418.3h.01M1811.6 2414.4h.01M1816.4 2410.5h.01M1821.3 2406.6h.01M1826.2 2402.7h.01M1831 2398.8h.01M1835.9 2394.9h.01M1840.8 2389.6h.01M1845.6 2384.4h.01M1850.5 2379.2h.01M1855.4 2373.9h.01M1860.2 2368.7h.01M1865.1 2363.4h.01M1869.9 2358.2h.01M1874.8 2352.9h.01M1879.7 2347.7h.01M1884.5 2342.5h.01M1889.4 2337.2h.01M1894.3 2332h.01M1899.1 2326.7h.01M1904 2321.5h.01M1908.9 2316.2h.01M1913.7 2311.1h.01M1918.6 2306h.01M1923.4 2300.9h.01M1928.3 2295.8h.01M1933.2 2290.8h.01M1938 2285.7h.01M1942.9 2280.6h.01M1947.8 2275.5h.01M1952.6 2270.4h.01M1957.5 2265.3h.01M1962.4 2260.3h.01M1967.2 2255.2h.01M1972.1 2250.1h.01M1976.9 2245h.01M1981.8 2239.9h.01M1986.7 2235.5h.01M1991.5 2231.1h.01M1996.4 2226.7h.01M2001.3 2222.3h.01M2006.1 2217.9h.01M2011 2213.5h.01M2015.8 2209.1h.01M2020.7 2205.4h.01M2025.6 2201.8h.01M2030.4 2198.1h.01M2035.3 2194.5h.01M2040.2 2190.8h.01M2045 2187.2h.01M2049.9 2183.5h.01M2054.8 2179.5h.01M2059.6 2174.6h.01M2064.5 2169.7h.01M2069.3 2164.8h.01M2074.2 2159.9h.01M2079.1 2155h.01M2083.9 2150.1h.01M2088.8 2145.9h.01M2093.7 2143.3h.01M2098.5 2140.8h.01M2103.4 2138.2h.01M2108.3 2135.7h.01M2113.1 2133.1h.01M2118 2130.5h.01M2122.8 2128h.01M2127.7 2125.4h.01M2132.6 2122h.01M2137.4 2118.7h.01M2142.3 2115.3h.01M2147.2 2111.9h.01M2152 2108.6h.01M2156.9 2105.3h.01M2161.7 2102.2h.01M2166.6 2099.1h.01M2171.5 2096h.01M2176.3 2093h.01M2181.2 2089.9h.01M2186.1 2086.8h.01M2190.9 2083.7h.01M2195.8 2080.6h.01M2200.7 2077.5h.01M2205.5 2074.5h.01M2210.4 2071.4h.01M2215.2 2068.3h.01M2220.1 2065.2h.01M2225 2062.1h.01M2229.8 2059h.01M2234.7 2055.9h.01M2239.6 2052.8h.01M2244.4 2049.7h.01M2249.3 2046.6h.01M2254.2 2043.5h.01M2259 2040.4h.01M2263.9 2037.3h.01M2268.7 2034.2h.01M2273.6 2031.1h.01M2278.5 2028h.01M2283.3 2024.9h.01M2288.2 2021.8h.01M2293.1 2019.1h.01M2297.9 2016.4h.01M2302.8 2013.8h.01M2307.7 2011.1h.01M2312.5 2008.5h.01M2317.4 2005.8h.01M2322.2 2003.2h.01M2327.1 2000.5h.01M2332 1997.9h.01M2336.8 1996h.01M2341.7 1994.1h.01M2346.6 1992.2h.01M2351.4 1990.4h.01M2356.3 1988.5h.01M2361.1 1986.6h.01M2366 1984.8h.01M2370.9 1982.9h.01M2375.7 1981h.01M2380.6 1979.1h.01M2385.5 1977.3h.01M2390.3 1975.4h.01M2395.2 1973.5h.01M2400.1 1971.6h.01M2404.9 1969.8h.01M2409.8 1967.9h.01M2414.6 1966h.01M2419.5 1964.1h.01M2424.4 1962.3h.01M2429.2 1960.4h.01M2434.1 1958.5h.01M2439 1956.6h.01M2443.8 1954.7h.01M2448.7 1952.8h.01M2453.6 1950.9h.01M2458.4 1949h.01M2463.3 1947.1h.01M2468.1 1945.2h.01M2473 1943.3h.01M2477.9 1941.3h.01M2482.7 1939.3h.01M2487.6 1937.2h.01M2492.5 1935.2h.01M2497.3 1933.2h.01M2502.2 1931.1h.01M2507.1 1929.1h.01M2511.9 1927h.01M2516.8 1925h.01M2521.6 1923h.01M2526.5 1920.9h.01M2531.4 1918.9h.01M2536.2 1916.8h.01M2541.1 1914.8h.01M2546 1912.8h.01M2550.8 1910.7h.01M2555.7 1908.7h.01M2560.5 1906.7h.01M2565.4 1904.6h.01" stroke="#80a99c" stroke-width="16.6" stroke-linecap="round" fill="none"/>
<path d="M1694.9 2490l8.6 15.4h-17.2zM1699.7 2478.5l8.6 15.4h-17.2zM1704.6 2467l8.6 15.4h-17.2zM1709.5 2455.6l8.6 15.4h-17.2zM1714.3 2444.1l8.6 15.4h-17.2zM1719.2 2432.6l8.6 15.4h-17.2zM1724 2421.1l8.6 15.4h-17.2zM1728.9 2409.7l8.6 15.4h-17.2zM1733.8 2398.2l8.6 15.4h-17.2zM1738.6 2386.7l8.6 15.4h-17.2zM1743.5 2375.2l8.6 15.4h-17.2zM1748.4 2363.7l8.6 15.4h-17.2zM1753.2 2352.3l8.6 15.4h-17.2zM1758.1 2340.8l8.6 15.4h-17.2zM1763 2329.3l8.6 15.4h-17.2zM1767.8 2317.8l8.6 15.4h-17.2zM1772.7 2306.4l8.6 15.4h-17.2zM1777.5 2294.9l8.6 15.4h-17.2zM1782.4 2283.4l8.6 15.4h-17.2zM1787.3 2271.9l8.6 15.4h-17.2zM1792.1 2260.4l8.6 15.4h-17.2zM1797 2249l8.6 15.4h-17.2zM1801.9 2237.5l8.6 15.4h-17.2zM1806.7 2226l8.6 15.4h-17.2zM1811.6 2214.5l8.6 15.4h-17.2zM1816.4 2203.1l8.6 15.4h-17.2zM1821.3 2191.6l8.6 15.4h-17.2zM1826.2 2180.1l8.6 15.4h-17.2zM1831 2168.6l8.6 15.4h-17.2zM1835.9 2157.2l8.6 15.4h-17.2zM1840.8 2145.7l8.6 15.4h-17.2zM1845.6 2134.2l8.6 15.4h-17.2zM1850.5 2122.7l8.6 15.4h-17.2zM1855.4 2111.2l8.6 15.4h-17.2zM1860.2 2099.8l8.6 15.4h-17.2zM1865.1 2088.3l8.6 15.4h-17.2zM1869.9 2076.8l8.6 15.4h-17.2zM1874.8 2065.3l8.6 15.4h-17.2zM1879.7 2053.9l8.6 15.4h-17.2zM1884.5 2042.4l8.6 15.4h-17.2zM1889.4 2030.9l8.6 15.4h-17.2zM1894.3 2019.4l8.6 15.4h-17.2zM1899.1 2007.9l8.6 15.4h-17.2zM1904 1996.5l8.6 15.4h-17.2zM1908.9 1985l8.6 15.4h-17.2zM1913.7 1973.5l8.6 15.4h-17.2zM1918.6 1965.1l8.6 15.4h-17.2zM1923.4 1961.3l8.6 15.4h-17.2zM1928.3 1957.5l8.6 15.4h-17.2zM1933.2 1953.7l8.6 15.4h-17.2zM1938 1949.9l8.6 15.4h-17.2zM1942.9 1946.1l8.6 15.4h-17.2zM1947.8 1943.7l8.6 15.4h-17.2zM1952.6 1941.3l8.6 15.4h-17.2zM1957.5 1938.9l8.6 15.4h-17.2zM1962.4 1936.5l8.6 15.4h-17.2zM1967.2 1934.1l8.6 15.4h-17.2zM1972.1 1931.7l8.6 15.4h-17.2zM1976.9 1929.3l8.6 15.4h-17.2zM1981.8 1926.9l8.6 15.4h-17.2zM1986.7 1925.2l8.6 15.4h-17.2zM1991.5 1923.6l8.6 15.4h-17.2zM1996.4 1922l8.6 15.4h-17.2zM2001.3 1920.3l8.6 15.4h-17.2zM2006.1 1918.7l8.6 15.4h-17.2zM2011 1917.1l8.6 15.4h-17.2zM2015.8 1915.4l8.6 15.4h-17.2zM2020.7 1913.8l8.6 15.4h-17.2zM2025.6 1912.2l8.6 15.4h-17.2zM2030.4 1910.5l8.6 15.4h-17.2zM2035.3 1908.9l8.6 15.4h-17.2zM2040.2 1907.3l8.6 15.4h-17.2zM2045 1905.6l8.6 15.4h-17.2zM2049.9 1904l8.6 15.4h-17.2zM2054.8 1902.4l8.6 15.4h-17.2zM2059.6 1900.9l8.6 15.4h-17.2zM2064.5 1899.3l8.6 15.4h-17.2zM2069.3 1897.8l8.6 15.4h-17.2zM2074.2 1896.3l8.6 15.4h-17.2zM2079.1 1894.7l8.6 15.4h-17.2zM2083.9 1893.2l8.6 15.4h-17.2zM2088.8 1891.7l8.6 15.4h-17.2zM2093.7 1890.1l8.6 15.4h-17.2zM2098.5 1888.6l8.6 15.4h-17.2zM2103.4 1887l8.6 15.4h-17.2zM2108.3 1885.5l8.6 15.4h-17.2zM2113.1 1884l8.6 15.4h-17.2zM2118 1882.4l8.6 15.4h-17.2zM2122.8 1880.9l8.6 15.4h-17.2zM2127.7 1879.4l8.6 15.4h-17.2zM2132.6 1877.8l8.6 15.4h-17.2zM2137.4 1876.3l8.6 15.4h-17.2zM2142.3 1874.8l8.6 15.4h-17.2zM2147.2 1873.2l8.6 15.4h-17.2zM2152 1871.7l8.6 15.4h-17.2zM2156.9 1870.5l8.6 15.4h-17.2zM2161.7 1870l8.6 15.4h-17.2zM2166.6 1869.5l8.6 15.4h-17.2zM2171.5 1869l8.6 15.4h-17.2zM2176.3 1868.4l8.6 15.4h-17.2zM2181.2 1867.9l8.6 15.4h-17.2zM2186.1 1867.4l8.6 15.4h-17.2zM2190.9 1866.9l8.6 15.4h-17.2zM2195.8 1866.4l8.6 15.4h-17.2zM2200.7 1865.9l8.6 15.4h-17.2zM2205.5 1865.4l8.6 15.4h-17.2zM2210.4 1864.9l8.6 15.4h-17.2zM2215.2 1864.4l8.6 15.4h-17.2zM2220.1 1863.9l8.6 15.4h-17.2zM2225 1863.4l8.6 15.4h-17.2zM2229.8 1862.9l8.6 15.4h-17.2zM2234.7 1862.3l8.6 15.4h-17.2zM2239.6 1861.8l8.6 15.4h-17.2zM2244.4 1861.3l8.6 15.4h-17.2zM2249.3 1860.8l8.6 15.4h-17.2zM2254.2 1860.3l8.6 15.4h-17.2zM2259 1859.8l8.6 15.4h-17.2zM2263.9 1859.3l8.6 15.4h-17.2zM2268.7 1858.8l8.6 15.4h-17.2zM2273.6 1858.3l8.6 15.4h-17.2zM2278.5 1858l8.6 15.4h-17.2zM2283.3 1857.6l8.6 15.4h-17.2zM2288.2 1857.3l8.6 15.4h-17.2zM2293.1 1857l8.6 15.4h-17.2zM2297.9 1856.7l8.6 15.4h-17.2zM2302.8 1856.4l8.6 15.4h-17.2zM2307.7 1856l8.6 15.4h-17.2zM2312.5 1855.7l8.6 15.4h-17.2zM2317.4 1855.4l8.6 15.4h-17.2zM2322.2 1855.1l8.6 15.4h-17.2zM2327.1 1854.8l8.6 15.4h-17.2zM2332 1854.4l8.6 15.4h-17.2zM2336.8 1854.1l8.6 15.4h-17.2zM2341.7 1853.8l8.6 15.4h-17.2zM2346.6 1853.5l8.6 15.4h-17.2zM2351.4 1853.2l8.6 15.4h-17.2zM2356.3 1852.8l8.6 15.4h-17.2zM2361.1 1852.5l8.6 15.4h-17.2zM2366 1852.2l8.6 15.4h-17.2zM2370.9 1851.9l8.6 15.4h-17.2zM2375.7 1851.6l8.6 15.4h-17.2zM2380.6 1851.2l8.6 15.4h-17.2zM2385.5 1850.9l8.6 15.4h-17.2zM2390.3 1850.6l8.6 15.4h-17.2zM2395.2 1850.3l8.6 15.4h-17.2zM2400.1 1850l8.6 15.4h-17.2zM2404.9 1849.6l8.6 15.4h-17.2zM2409.8 1849.3l8.6 15.4h-17.2zM2414.6 1849l8.6 15.4h-17.2zM2419.5 1848.7l8.6 15.4h-17.2zM2424.4 1848.5l8.6 15.4h-17.2zM2429.2 1848.4l8.6 15.4h-17.2zM2434.1 1848.3l8.6 15.4h-17.2zM2439 1848.1l8.6 15.4h-17.2zM2443.8 1848l8.6 15.4h-17.2zM2448.7 1847.9l8.6 15.4h-17.2zM2453.6 1847.7l8.6 15.4h-17.2zM2458.4 1847.6l8.6 15.4h-17.2zM2463.3 1847.5l8.6 15.4h-17.2zM2468.1 1847.3l8.6 15.4h-17.2zM2473 1847.2l8.6 15.4h-17.2zM2477.9 1847l8.6 15.4h-17.2zM2482.7 1846.9l8.6 15.4h-17.2zM2487.6 1846.8l8.6 15.4h-17.2zM2492.5 1846.6l8.6 15.4h-17.2zM2497.3 1846.5l8.6 15.4h-17.2zM2502.2 1846.4l8.6 15.4h-17.2zM2507.1 1846.2l8.6 15.4h-17.2zM2511.9 1846.1l8.6 15.4h-17.2zM2516.8 1845.9l8.6 15.4h-17.2zM2521.6 1845.8l8.6 15.4h-17.2zM2526.5 1845.7l8.6 15.4h-17.2zM2531.4 1845.5l8.6 15.4h-17.2zM2536.2 1845.4l8.6 15.4h-17.2zM2541.1 1845.3l8.6 15.4h-17.2zM2546 1845.1l8.6 15.4h-17.2zM2550.8 1845l8.6 15.4h-17.2zM2555.7 1844.8l8.6 15.4h-17.2zM2560.5 1844.7l8.6 15.4h-17.2zM2565.4 1844.6l8.6 15.4h-17.2z" fill="#f3b976"/>
<rect x="1665.8" y="1807.7" width="949.5" height="727.1" fill="none" stroke="#000" stroke-width="5.2"/>
<path d="M1665.8 2514.2h-16M1665.8 2377.1h-16M1665.8 2239.9h-16M1665.8 2102.8h-16M1665.8 1965.6h-16M1665.8 1828.5h-16" stroke="#000" stroke-width="5" fill="none"/>
<path d="M1665.8 2445.6h-8M1665.8 2308.5h-8M1665.8 2171.3h-8M1665.8 2034.2h-8M1665.8 1897.1h-8" stroke="#000" stroke-width="5" fill="none"/>
<path d="M1690 2534.8v15.4M1835.9 2534.8v15.4M1981.8 2534.8v15.4M2127.7 2534.8v15.4M2273.6 2534.8v15.4M2419.5 2534.8v15.4M2565.4 2534.8v15.4" stroke="#000" stroke-width="5" fill="none"/>
<path d="M1763 2534.8v7.5M1908.9 2534.8v7.5M2054.8 2534.8v7.5M2200.7 2534.8v7.5M2346.6 2534.8v7.5M2492.5 2534.8v7.5" stroke="#000" stroke-width="5" fill="none"/>
<text x="1639.3" y="2534.6" font-size="68.8" text-anchor="end" fill="#000">0</text>
<text x="1639.3" y="2397.5" font-size="68.8" text-anchor="end" fill="#000">20</text>
<text x="1639.3" y="2260.3" font-size="68.8" text-anchor="end" fill="#000">40</text>
<text x="1639.3" y="2123.2" font-size="68.8" text-anchor="end" fill="#000">60</text>
<text x="1639.3" y="1986" font-size="68.8" text-anchor="end" fill="#000">80</text>
<text x="1639.3" y="1848.9" font-size="68.8" text-anchor="end" fill="#000">100</text>
<text x="1690" y="2614.5" font-size="68.8" text-anchor="middle" fill="#000">0</text>
<text x="1835.9" y="2614.5" font-size="68.8" text-anchor="middle" fill="#000">30</text>
<text x="1981.8" y="2614.5" font-size="68.8" text-anchor="middle" fill="#000">60</text>
<text x="2127.7" y="2614.5" font-size="68.8" text-anchor="middle" fill="#000">90</text>
<text x="2273.6" y="2614.5" font-size="68.8" text-anchor="middle" fill="#000">120</text>
<text x="2419.5" y="2614.5" font-size="68.8" text-anchor="middle" fill="#000">150</text>
<text x="2565.4" y="2614.5" font-size="68.8" text-anchor="middle" fill="#000">180</text>
<text transform="translate(1514 2171.8) rotate(-90)" font-size="68" text-anchor="middle">Biodegradation (%)</text>
<text x="1790.6" y="2699.2" font-size="68.4" fill="#000">Degradation Time (day)</text>
<rect x="2275.2" y="2241.1" width="15.2" height="15" fill="#6787ba"/>
<circle cx="2283" cy="2314.9" r="8.5" fill="#80a99c"/>
<path d="M2273.2 2386.2L2282.9 2369.3L2292.6 2386.2Z" fill="#f3b976"/>
<text x="2338.4" y="2263.7" font-size="53.1" fill="#000">PECS28</text>
<text x="2338.4" y="2330.2" font-size="53.1" fill="#000">PECS38</text>
<text x="2338.4" y="2395.8" font-size="53.7" fill="#000">MCC</text>
<text x="2705.5" y="826.7" font-size="95.1" fill="#000">F</text>
<text x="2702.8" y="1882.5" font-size="94.2" fill="#000">G</text>
<g transform="translate(2822.2 738.9)" clip-path="url(#cs1)" style="isolation:isolate"><rect width="552.2" height="386.9" fill="#848484"/><path d="M133 44l-1 -2M41 156l3 2M420 89l0 -1M99 45l-2 3M454 309l2 -2M173 241l2 2M482 38l1 1M279 72l-0 -2M512 331l0 -1M498 221l3 2M281 161l1 -0M92 120l3 -3M30 241l-2 0M260 134l4 -2M229 81l1 -1M198 287l-1 0" stroke="#cfcfcf" stroke-width="3" stroke-linecap="round" fill="none" opacity=".8"/><rect width="552.2" height="386.9" fill="#000" opacity="0"/><rect width="552.2" height="386.9" filter="url(#fine)" style="mix-blend-mode:overlay" opacity="1"/></g>
<g transform="translate(3400 737.9)" clip-path="url(#cs2)" style="isolation:isolate"><rect width="552.8" height="385.6" fill="#7c7c7c"/><rect width="553" height="386" fill="url(#bpat)" opacity="0.9" filter="url(#b08)"/><g filter="url(#b6)"><circle cx="226" cy="209" r="66" fill="#fff" opacity=".19"/><circle cx="285" cy="268" r="33" fill="#000" opacity=".22"/><circle cx="98" cy="87" r="41" fill="#fff" opacity=".19"/><circle cx="134" cy="124" r="20" fill="#000" opacity=".22"/><circle cx="65" cy="3" r="45" fill="#fff" opacity=".19"/><circle cx="105" cy="44" r="22" fill="#000" opacity=".22"/><circle cx="284" cy="382" r="61" fill="#fff" opacity=".19"/><circle cx="339" cy="437" r="30" fill="#000" opacity=".22"/><circle cx="209" cy="156" r="61" fill="#fff" opacity=".19"/><circle cx="264" cy="211" r="30" fill="#000" opacity=".22"/><circle cx="180" cy="28" r="65" fill="#fff" opacity=".19"/><circle cx="239" cy="87" r="33" fill="#000" opacity=".22"/><circle cx="341" cy="43" r="42" fill="#fff" opacity=".19"/><circle cx="379" cy="81" r="21" fill="#000" opacity=".22"/><circle cx="52" cy="370" r="43" fill="#fff" opacity=".19"/><circle cx="91" cy="409" r="22" fill="#000" opacity=".22"/><circle cx="346" cy="374" r="41" fill="#fff" opacity=".19"/><circle cx="383" cy="411" r="21" fill="#000" opacity=".22"/><circle cx="213" cy="184" r="68" fill="#fff" opacity=".19"/><circle cx="274" cy="245" r="34" fill="#000" opacity=".22"/></g><g filter="url(#rough2)"><ellipse cx="213.1" cy="82.6" rx="18.9" ry="15.5" fill="#1c1c1c"/><ellipse cx="448.9" cy="127.4" rx="7.6" ry="15.5" fill="#111"/><ellipse cx="202.8" cy="211.7" rx="24.1" ry="20.7" fill="#4a4a4a"/><ellipse cx="185.5" cy="213.4" rx="8.6" ry="13.8" fill="#222"/><ellipse cx="280.2" cy="210" rx="15.5" ry="20.7" fill="#444"/><ellipse cx="409.3" cy="218.6" rx="25.8" ry="15.5" fill="#2a2a2a"/><ellipse cx="46.1" cy="235.8" rx="12" ry="6.9" fill="#151515"/><ellipse cx="269.9" cy="258.2" rx="15.5" ry="15.5" fill="#4c4c4c"/><ellipse cx="71.9" cy="77.5" rx="8.6" ry="8.6" fill="#505050"/><ellipse cx="218.2" cy="268.5" rx="6.9" ry="4.1" fill="#111"/><ellipse cx="547" cy="335.6" rx="6.2" ry="8.6" fill="#222"/></g><rect width="552.8" height="385.6" fill="#000" opacity="0.13"/><rect width="552.8" height="385.6" filter="url(#rock2)" style="mix-blend-mode:overlay" opacity="1"/></g>
<g transform="translate(2822 1156.8)" clip-path="url(#cs3)" style="isolation:isolate"><rect width="553.2" height="387.9" fill="#7e7e7e"/><rect width="554" height="388" fill="url(#bpat)" opacity="0.9" filter="url(#b08)"/><g filter="url(#b6)"><circle cx="530" cy="54" r="46" fill="#fff" opacity=".19"/><circle cx="571" cy="96" r="23" fill="#000" opacity=".22"/><circle cx="552" cy="71" r="50" fill="#fff" opacity=".19"/><circle cx="598" cy="117" r="25" fill="#000" opacity=".22"/><circle cx="360" cy="134" r="85" fill="#fff" opacity=".19"/><circle cx="437" cy="211" r="43" fill="#000" opacity=".22"/><circle cx="128" cy="372" r="59" fill="#fff" opacity=".19"/><circle cx="182" cy="426" r="30" fill="#000" opacity=".22"/><circle cx="332" cy="362" r="76" fill="#fff" opacity=".19"/><circle cx="401" cy="430" r="38" fill="#000" opacity=".22"/><circle cx="511" cy="275" r="47" fill="#fff" opacity=".19"/><circle cx="553" cy="317" r="24" fill="#000" opacity=".22"/><circle cx="487" cy="229" r="59" fill="#fff" opacity=".19"/><circle cx="540" cy="282" r="29" fill="#000" opacity=".22"/><circle cx="105" cy="330" r="71" fill="#fff" opacity=".19"/><circle cx="169" cy="394" r="36" fill="#000" opacity=".22"/><circle cx="519" cy="300" r="88" fill="#fff" opacity=".19"/><circle cx="598" cy="380" r="44" fill="#000" opacity=".22"/></g><g filter="url(#rough2)"><ellipse cx="71" cy="230" rx="54" ry="35.2" fill="#333"/><ellipse cx="34.1" cy="249.9" rx="19.9" ry="14.2" fill="#2a2a2a"/><ellipse cx="198.8" cy="315.2" rx="18.2" ry="12.5" fill="#0c0c0c"/><ellipse cx="309.6" cy="352.2" rx="21.6" ry="22.7" fill="#3c3c3c"/><ellipse cx="218.7" cy="93.7" rx="6.8" ry="9.1" fill="#111"/><ellipse cx="394.8" cy="39.8" rx="17" ry="17" fill="#4a4a4a"/><ellipse cx="125" cy="370.3" rx="11.4" ry="11.4" fill="#1c1c1c"/><ellipse cx="454.4" cy="278.3" rx="19.9" ry="17" fill="#555"/><ellipse cx="142" cy="17" rx="8" ry="8" fill="#333"/><ellipse cx="494.2" cy="306.7" rx="12.5" ry="10.2" fill="#555"/><ellipse cx="267" cy="76.7" rx="11.4" ry="9.1" fill="#444"/></g><rect width="553.2" height="387.9" fill="#000" opacity="0.12"/><rect width="553.2" height="387.9" filter="url(#rock2)" style="mix-blend-mode:overlay" opacity="1"/></g>
<g transform="translate(3400.4 1156.8)" clip-path="url(#cs4)" style="isolation:isolate"><rect width="552.5" height="385.2" fill="#7a7a7a"/><rect width="553" height="386" fill="url(#bpat)" opacity="0.9" filter="url(#b08)"/><g filter="url(#b6)"><circle cx="511" cy="366" r="81" fill="#fff" opacity=".19"/><circle cx="584" cy="439" r="40" fill="#000" opacity=".22"/><circle cx="46" cy="229" r="62" fill="#fff" opacity=".19"/><circle cx="102" cy="284" r="31" fill="#000" opacity=".22"/><circle cx="293" cy="50" r="53" fill="#fff" opacity=".19"/><circle cx="341" cy="98" r="26" fill="#000" opacity=".22"/><circle cx="246" cy="85" r="63" fill="#fff" opacity=".19"/><circle cx="303" cy="142" r="32" fill="#000" opacity=".22"/><circle cx="14" cy="33" r="73" fill="#fff" opacity=".19"/><circle cx="80" cy="99" r="37" fill="#000" opacity=".22"/><circle cx="233" cy="198" r="74" fill="#fff" opacity=".19"/><circle cx="300" cy="265" r="37" fill="#000" opacity=".22"/><circle cx="199" cy="22" r="76" fill="#fff" opacity=".19"/><circle cx="267" cy="91" r="38" fill="#000" opacity=".22"/><circle cx="326" cy="254" r="70" fill="#fff" opacity=".19"/><circle cx="389" cy="317" r="35" fill="#000" opacity=".22"/><circle cx="537" cy="140" r="75" fill="#fff" opacity=".19"/><circle cx="605" cy="208" r="38" fill="#000" opacity=".22"/></g><g filter="url(#rough2)"><ellipse cx="111.9" cy="207.3" rx="14.2" ry="11.4" fill="#0c0c0c"/><ellipse cx="481.1" cy="107.9" rx="10.2" ry="17" fill="#333"/><ellipse cx="526.5" cy="298.2" rx="22.7" ry="18.7" fill="#1a1a1a"/><ellipse cx="438.5" cy="315.2" rx="11.4" ry="11.4" fill="#383838"/><ellipse cx="63.6" cy="232.9" rx="8.5" ry="8.5" fill="#333"/><ellipse cx="421.5" cy="167.6" rx="6.8" ry="5.7" fill="#222"/></g><rect width="552.5" height="385.2" fill="#000" opacity="0.13"/><rect width="552.5" height="385.2" filter="url(#rock2)" style="mix-blend-mode:overlay" opacity="1"/><g filter="url(#rough2)"><polygon points="249,-2 280,-2 274,75 259,93 246,110 243,127 235,155 249,162 274,182 296,192 323,200 348,209 363,209 366,222 378,226 373,244 356,269 298,314 261,351 249,352 234,346 211,341 189,339 177,324 172,292 170,242 174,205 182,177 194,142 204,113 211,88 206,75 200,73 209,23 219,16 231,18 224,75 239,43" fill="#080808"/><polygon points="251,-2 279,-2 271,75 256,93 245,110 241,127 235,155 249,162 274,182 296,192 323,200 348,209 362,211 364,223 373,227 348,247 294,292 239,341 216,339 194,336 185,316 184,242 189,192 204,132 216,93 224,75 239,43" fill="url(#crg)"/></g><path d="M259 1L246 75L206 167L193 336" stroke="#a0a0a0" stroke-width="3" fill="none" opacity=".75" filter="url(#b15)"/></g>
<g transform="translate(2821.4 1802.4)" clip-path="url(#cs5)" style="isolation:isolate"><rect width="543.6" height="379.4" fill="#8c8c8c"/><path d="M252 143l-3 2M8 191l3 -3M300 233l-4 -1M380 172l2 -2M132 46l0 3M320 291l-1 1M59 112l1 1M230 37l-2 -2M155 304l-2 2M474 25l-1 -0M18 162l3 -2M323 50l1 2M113 8l-3 0M14 36l-0 3M229 152l1 -2M314 69l1 3M34 210l1 -2M148 372l4 -2" stroke="#d8d8d8" stroke-width="3" stroke-linecap="round" fill="none" opacity=".8"/><rect width="543.6" height="379.4" fill="#000" opacity="0"/><rect width="543.6" height="379.4" filter="url(#fine)" style="mix-blend-mode:overlay" opacity="1"/></g>
<g transform="translate(3389.4 1805.8)" clip-path="url(#cs6)" style="isolation:isolate"><rect width="543.6" height="378.8" fill="#a0a0a0"/><g filter="url(#b6)"><ellipse cx="24" cy="119" rx="72" ry="167" fill="#c2c2c2"/><ellipse cx="513" cy="60" rx="86" ry="107" fill="#c6c6c6"/><ellipse cx="537" cy="298" rx="53" ry="115" fill="#acacac"/><ellipse cx="119" cy="358" rx="119" ry="48" fill="#9a9a9a"/><ellipse cx="287" cy="14" rx="119" ry="29" fill="#a2a2a2"/><ellipse cx="298" cy="213" rx="203" ry="165" fill="#8e8e8e" stroke="#c6c6c6" stroke-width="2.2" stroke-opacity=".7" stroke-linejoin="round"/><ellipse cx="303" cy="215" rx="184" ry="146" fill="#444"/></g><g filter="url(#rough)"><ellipse cx="258" cy="301" rx="96" ry="72" fill="#4e4e4e"/><polygon points="210,112 275,69 358,96 394,134 373,153 358,191 318,222 239,215 224,167" fill="#707070" stroke="#c6c6c6" stroke-width="2.2" stroke-opacity=".7" stroke-linejoin="round"/><ellipse cx="447" cy="167" rx="47" ry="45" fill="#707070" stroke="#c6c6c6" stroke-width="2.2" stroke-opacity=".7" stroke-linejoin="round"/><polygon points="334,244 382,227 466,251 461,310 394,339 346,322" fill="#646464" stroke="#c6c6c6" stroke-width="2.2" stroke-opacity=".7" stroke-linejoin="round"/><polygon points="172,62 251,57 253,88 191,96" fill="#7c7c7c" stroke="#c6c6c6" stroke-width="2.2" stroke-opacity=".7" stroke-linejoin="round"/><polygon points="330,0 387,0 382,79 339,72" fill="#787878" stroke="#c6c6c6" stroke-width="2.2" stroke-opacity=".7" stroke-linejoin="round"/><ellipse cx="184" cy="141" rx="31" ry="14" fill="#1c1c1c"/><ellipse cx="387" cy="107" rx="19" ry="27" fill="#161616"/><ellipse cx="394" cy="189" rx="21" ry="21" fill="#0a0a0a"/><ellipse cx="230" cy="184" rx="8" ry="7" fill="#1c1c1c"/><ellipse cx="456" cy="241" rx="20" ry="21" fill="#2c2c2c"/><ellipse cx="310" cy="236" rx="14" ry="7" fill="#2a2a2a"/><circle cx="189" cy="201" r="36" fill="#6a6a6a" stroke="#a8a8a8" stroke-width="3"/></g><rect width="543.6" height="378.8" fill="#000" opacity="0.1"/><rect width="543.6" height="378.8" filter="url(#rock)" style="mix-blend-mode:overlay" opacity="1"/><path d="M38 341q12 7 19 -21q-1 12 7 18q-11 -1 -11 2q2 -14 -12 -10M490 322q3 -2 -16 21q-14 8 20 -15M87 58q11 4 -14 21q-8 13 -5 -21q-2 12 -10 -7q9 2 4 9M29 310q5 -9 -1 -14q-7 12 20 -6q-3 1 -4 -5M43 268q13 -8 11 19q12 -4 -6 1q8 -11 11 13q10 -13 20 -18M488 54q-4 12 2 -8q-5 -9 -19 -15M544 24q-12 3 19 -21q7 -4 -11 7M17 55q8 -5 -13 21q2 -10 17 -4M130 9q-6 -1 22 15q13 -1 -1 10q-1 -6 -4 -16M533 248q4 -0 -7 -18q-6 8 16 -6M509 100q-4 6 -10 -1q8 5 -9 20q4 2 -21 2M467 41q9 4 13 -7q4 7 14 -7q10 10 8 21M489 79q-8 -4 16 -10q-12 5 -4 5M77 375q3 8 6 10q-13 -10 -3 7q-8 5 6 -20M543 146q-11 13 -1 2q-2 -4 7 -19M71 54q-4 13 16 16q5 1 20 2M441 82q13 -6 -7 -16q-3 2 2 -1q-10 -3 -1 -13M183 21q-14 -11 3 5q-10 4 17 -5q-2 -8 -9 21q-3 13 18 4M514 45q-2 -5 21 -0q-6 -1 -17 5q-2 -6 12 14M46 212q12 8 -11 -10q-10 14 -9 5M513 341q11 -14 -16 -10q6 3 10 -21q-4 5 14 -16q-14 1 8 -17M29 345q3 5 20 7q10 10 -1 8q6 11 -2 11M525 104q2 4 -1 -8q-9 5 17 21q1 -2 2 -20M80 5q5 -13 10 21q14 6 -20 15M184 49q6 -10 -9 18q-10 3 -4 -15M32 353q-3 -12 -19 3q7 11 -16 -3q-5 3 -0 19q-4 -12 9 -15M44 376q3 -7 2 -11q7 0 -16 -12q-4 7 -14 9q4 -12 7 -18M48 172q11 -1 -8 13q-13 6 -20 -15q13 5 -12 -17M533 139q-3 9 -9 19q6 8 -5 10q-4 -6 6 20q-4 -13 22 -13M119 6q-9 -9 -0 19q5 -4 -3 -9M138 339q-11 -10 -15 -6q-3 11 -15 -11q-6 -9 -9 -12M537 196q-5 -12 -21 -2q10 -10 13 -8q-1 -7 22 -21M55 249q-3 13 -6 -8q-1 -6 10 10q-9 -7 8 19q4 -2 21 -22M43 258q-13 1 22 1q-4 -11 -19 18M486 231q-7 -13 -5 -19q-7 -3 -9 -20q-13 13 -14 0q-3 1 -18 -8M8 373q3 10 -13 -21q1 -0 3 -5M218 55q5 11 22 2q-10 -0 12 -10q-3 -10 2 -1M76 367q-7 -12 9 -20q-8 -6 -6 -18q-2 -5 11 2q11 4 11 3M489 292q6 6 -10 14q-3 -10 -19 -15M487 48q-12 7 3 -21q-13 -10 -6 16M2 351q-4 -5 -21 4q9 6 -18 1M189 9q8 -11 -8 18q-1 -2 -3 12q12 1 21 4M12 322q-13 13 -21 3q-1 11 -5 -13q-6 -8 3 -6q7 -7 -7 -11M59 152q-10 -7 -5 -18q-3 7 -10 19M484 71q3 8 -5 -22q0 2 -14 -5q-5 -13 -8 -5q-1 6 -4 21M139 361q-12 -10 -4 20q-13 8 -13 -9q-13 8 5 16q12 -2 21 -21M22 45q13 -6 -7 13q12 3 3 -1q-11 -11 -7 13q-2 13 8 -5M135 374q-5 -5 15 17q5 14 -11 -18q-6 8 13 -19q13 -12 -4 -14M54 237q11 6 -4 -3q1 11 -9 -10q3 13 -14 -21q-11 2 5 -14M98 6q-5 -12 20 -16q1 -12 -14 -1q-3 11 17 5q8 10 -22 8M9 58q7 2 -3 -8q8 -9 17 2q2 10 16 -6q9 -9 -8 -14M23 357q-3 -11 4 -6q5 -0 20 20q-12 7 10 -9M77 379q-9 -4 -16 18q4 7 -18 -17q-3 12 -19 -3q-8 14 -10 10M81 6q-2 -9 15 16q-7 -1 -16 -18q9 -10 14 -21M69 343q-12 13 -13 13q-14 1 20 4q9 -1 -21 -15q8 0 16 19M95 322q-2 6 14 14q-2 11 -21 14M268 9q-2 13 22 -12q-2 -6 -1 -9M73 287q-12 -3 17 17q-8 -13 14 20M69 348q12 12 -21 -14q-2 -7 11 -6M46 31q2 -6 -17 -4q-5 11 2 -2q10 13 -16 -21q-14 -3 -12 7M1 292q-7 6 -12 -9q9 -7 8 17q8 2 -3 -17M88 140q-6 2 4 -5q-3 10 4 8q4 -12 -13 5q-11 0 14 -6M489 198q-14 2 3 -20q7 -11 17 -6q-4 9 -1 -16M25 314q-7 -9 13 9q3 11 18 15q3 2 18 -6q-11 -1 9 5M2 156q6 3 5 -12q13 -11 -19 8q-11 -12 -2 7M108 324q5 -6 -4 -9q-1 -6 17 -8q4 -0 -5 7q12 -5 5 -2M106 5q-2 1 -5 -13q12 -9 0 19q-4 -14 -3 3M80 373q-7 -9 2 -11q-5 3 -13 -3q10 0 -1 9q-12 9 8 -17M10 240q-9 8 2 -14q-5 7 -18 16q11 -5 -9 -7q14 -3 -19 -19M90 300q-3 -1 -19 -3q12 1 7 8q-5 -4 -19 -5q-9 -7 5 -18M57 327q1 13 -3 -13q0 12 -5 6q12 -5 14 1M92 51q-1 -2 18 3q0 -6 11 -11q-1 7 5 -16q-8 5 10 -17M40 10q6 -7 -2 8q8 -1 -9 17M510 81q-11 7 -7 4q4 -0 16 18q-6 -5 17 -16q-2 -2 21 -16M227 44q-0 -10 20 -4q-6 9 4 -2M76 362q8 -14 3 7q1 -0 -2 -6q-8 -14 21 10q-9 -9 0 7M522 207q10 4 18 -13q-7 -12 19 -6q2 -8 -18 3q1 9 13 10M490 0q-12 -14 12 -17q-1 -2 13 -1q1 -13 13 12M70 356q6 10 5 -21q11 14 -13 -19q-4 -11 -6 -18q-8 -14 -3 -9M505 315q11 5 -12 -4q-1 -3 -21 -2M208 52q-7 -11 -12 -3q9 9 18 3q9 7 10 -13q2 6 16 -20M145 330q-11 3 -6 -16q-6 -14 -15 -3q-11 -14 2 20q9 -5 19 -18M110 59q3 7 -1 13q-1 12 5 2q-9 -2 -3 14q-8 -6 14 -19M73 325q3 -11 10 -4q-5 10 12 -8q5 -11 1 -18q4 12 6 -20M132 333q-10 -6 -2 -19q5 -7 -9 -18q-6 12 -9 -18M501 64q10 -4 -17 -8q9 -0 -20 20q6 12 4 17M460 123q1 0 -18 0q11 -2 -13 10q12 -11 -19 -8q-13 8 -3 19M17 169q-5 2 4 9q-13 12 -9 -9q-2 -8 -3 -9q5 1 22 3M534 273q-9 -1 -8 5q-11 11 -6 12M37 325q-10 7 10 -2q-6 -9 -4 19q-3 -7 5 -3" fill="none" stroke="#fff" stroke-opacity="0.55" stroke-width="2" stroke-linecap="round" filter="url(#b08)"/></g>
<g transform="translate(2823 2208.4)" clip-path="url(#cs7)" style="isolation:isolate"><rect width="541.4" height="378.9" fill="#767676"/><g filter="url(#b6)"><polygon points="215,0 541,0 541,379 478,379 466,334 513,275 521,203 442,179 418,153 353,158 334,119 294,24" fill="#242424"/><polygon points="351,14 454,14 454,79 373,100" fill="#3e3e3e"/><polygon points="406,84 525,91 541,167 430,172" fill="#444"/><polygon points="442,191 513,203 509,298 442,310" fill="#585858" stroke="#c6c6c6" stroke-width="2.2" stroke-opacity=".7" stroke-linejoin="round"/><polygon points="478,334 541,322 541,379 473,379" fill="#404040"/><polygon points="72,0 215,0 294,24 334,119 346,167 334,239 310,287 263,346 167,379 107,379 191,346 251,310 287,263 298,191 251,100 155,72" fill="#aaaaaa"/><polygon points="346,167 418,153 454,191 442,239 418,275 454,379 191,379 263,346 310,287 334,239" fill="#b0b0b0"/><polygon points="0,0 72,0 24,72 14,143 48,179 53,239 96,346 119,379 0,379" fill="#8a8a8a" stroke="#c6c6c6" stroke-width="2.2" stroke-opacity=".7" stroke-linejoin="round"/></g><g filter="url(#rough)"><polygon points="48,79 153,72 251,100 298,191 287,263 251,310 191,346 107,334 55,239 29,143" fill="#4e4e4e"/><polygon points="91,79 153,79 158,134 115,124" fill="#6a6a6a" stroke="#c6c6c6" stroke-width="2.2" stroke-opacity=".7" stroke-linejoin="round"/><polygon points="72,167 167,179 227,215 215,298 119,310 72,239" fill="#646464" stroke="#c6c6c6" stroke-width="2.2" stroke-opacity=".7" stroke-linejoin="round"/><ellipse cx="38" cy="148" rx="10" ry="12" fill="#1c1c1c"/><ellipse cx="103" cy="282" rx="17" ry="21" fill="#2a2a2a"/><ellipse cx="215" cy="251" rx="10" ry="17" fill="#2a2a2a"/><ellipse cx="64" cy="100" rx="14" ry="10" fill="#303030"/></g><rect width="541.4" height="378.9" fill="#000" opacity="0.2"/><rect width="541.4" height="378.9" filter="url(#rock)" style="mix-blend-mode:overlay" opacity="1"/><path d="M319 124q10 -14 0 18q-12 2 5 -20M284 287q-2 -9 -20 -16q10 14 -19 8q8 11 18 -13q-8 8 17 12M217 31q-8 11 17 -20q-3 -0 -21 -3M314 0q-8 10 -7 17q-10 12 0 3q1 -8 -19 -14q7 6 -16 19M444 162q5 10 11 10q2 -13 16 -4q11 -9 0 10q10 1 3 8M279 272q-1 -3 21 3q-13 8 -8 -3q-8 -2 -8 -18M343 269q-13 8 14 -0q6 -7 10 -3M166 68q-4 10 -6 7q-9 10 -11 -20q13 -9 20 21q3 -14 -19 -13M294 64q-6 -1 -10 20q7 -6 -17 -4q-10 2 13 4M263 25q11 -0 -18 -20q1 -9 6 -18q8 -8 -21 -14q-1 2 -5 -14M317 123q12 -13 22 17q1 1 2 18M299 52q-12 -8 -16 -18q-0 -12 17 10q5 -13 -11 -2M336 235q-0 -7 5 -18q-13 -3 4 -18q-13 7 -18 -21q3 1 -1 9M207 70q-1 -1 -15 -5q-1 -10 17 8M332 106q-11 -13 -19 6q-12 -11 -21 6M213 57q-14 7 8 -21q-7 3 20 1M275 120q3 -8 -19 -10q-6 8 21 13q11 12 17 18M155 40q3 -0 -7 15q-3 -8 -10 -2q3 2 -3 -14M275 82q1 -9 9 7q-10 4 -7 -2q3 7 17 10M268 69q-13 1 -1 16q-5 9 1 -18M300 360q-12 -14 19 -20q-10 -9 -18 14M322 155q0 -10 8 -6q-6 -5 -5 -14q3 10 3 -22q5 -13 -1 16M364 374q-6 -10 -2 8q-8 -5 11 -7M308 214q-13 -9 12 7q-11 -10 -13 2q11 -8 -13 8M271 193q12 6 -0 -19q9 -3 -2 6M245 83q-12 -4 17 12q13 -9 1 19q1 5 21 -14q-12 10 4 -13M293 91q-3 -12 14 -11q-1 5 -8 15q11 6 6 13M357 323q-10 -3 20 -5q-6 -1 -14 15q4 -11 20 1q-7 3 20 -7M320 66q1 -5 15 -13q-14 -1 -17 -8q-8 -9 6 19q-4 4 -8 18M402 180q-12 -8 -11 17q-2 -4 12 18M270 64q-12 2 0 15q-4 5 17 -7M377 244q13 -5 -2 -9q8 1 11 -17M336 223q-2 -4 -6 22q9 0 10 -19M286 58q-0 -5 -19 -11q-9 2 21 -1q3 -7 9 1M387 196q-11 0 8 17q13 -12 1 -8q10 -2 -14 -9q-6 6 14 0M348 182q-12 1 9 14q-12 7 15 -7q8 -9 20 5M373 245q12 2 -21 -9q6 -12 20 9q7 -9 -22 16M411 352q-5 -9 9 -8q6 -5 -18 12q12 -6 -18 3M334 206q-12 -2 -2 14q-1 -13 -13 15q11 2 -18 12M271 273q-1 -9 15 -10q14 -11 16 -15M356 201q5 5 -13 3q-9 13 7 -1q-3 -12 -10 -15q7 7 5 -5M310 204q-3 1 14 -16q-5 9 -6 19q-12 -12 -6 -2q-4 -8 -2 17M256 23q-4 -4 -9 -13q3 -3 15 -21q2 9 -21 8q3 4 -4 -4M404 285q-12 -10 -17 0q-10 1 -22 19q-11 2 -10 -17M283 79q-9 4 -6 15q-8 5 7 11q10 -9 12 9q6 -13 16 8" fill="none" stroke="#fff" stroke-opacity="0.4" stroke-width="2" stroke-linecap="round" filter="url(#b08)"/></g>
<g transform="translate(3388.9 2210)" clip-path="url(#cs8)" style="isolation:isolate"><rect width="540.7" height="379" fill="#626262"/><g filter="url(#b6)"><polygon points="0,0 79,0 29,72 24,167 43,251 69,310 96,379 0,379" fill="#c4c4c4"/><polygon points="10,36 33,36 26,167 48,263 29,263 10,167" fill="#e6e6e6"/><polygon points="358,0 542,0 542,41 418,36" fill="#4a4a4a"/></g><g filter="url(#rough)"><polygon points="129,96 196,81 229,119 229,172 177,210 134,210 100,179 107,134" fill="#868686" stroke="#c6c6c6" stroke-width="2.2" stroke-opacity=".7" stroke-linejoin="round"/><circle cx="79" cy="174" r="21" fill="#828282"/><polygon points="394,79 542,79 542,162 466,186 406,155 373,134" fill="#868686" stroke="#c6c6c6" stroke-width="2.2" stroke-opacity=".7" stroke-linejoin="round"/><polygon points="251,103 363,107 358,205 263,191" fill="#6c6c6c" stroke="#c6c6c6" stroke-width="2.2" stroke-opacity=".7" stroke-linejoin="round"/><polygon points="485,215 525,198 542,203 542,282 501,275" fill="#808080" stroke="#c6c6c6" stroke-width="2.2" stroke-opacity=".7" stroke-linejoin="round"/><polygon points="454,275 501,263 542,298 542,339 478,322" fill="#7a7a7a" stroke="#c6c6c6" stroke-width="2.2" stroke-opacity=".7" stroke-linejoin="round"/><ellipse cx="146" cy="363" rx="48" ry="38" fill="#848484" stroke="#c6c6c6" stroke-width="2.2" stroke-opacity=".7" stroke-linejoin="round"/><polygon points="72,251 134,239 162,287 100,310" fill="#7c7c7c" stroke="#c6c6c6" stroke-width="2.2" stroke-opacity=".7" stroke-linejoin="round"/><ellipse cx="122" cy="115" rx="11" ry="36" fill="#2c2c2c"/><ellipse cx="236" cy="124" rx="24" ry="36" fill="#161616"/><ellipse cx="167" cy="239" rx="41" ry="29" fill="#3a3a3a"/><ellipse cx="490" cy="184" rx="55" ry="11" fill="#303030"/><ellipse cx="322" cy="91" rx="36" ry="11" fill="#333"/><ellipse cx="267" cy="306" rx="29" ry="8" fill="#2c2c2c"/><ellipse cx="442" cy="239" rx="10" ry="36" fill="#3a3a3a"/><ellipse cx="346" cy="358" rx="72" ry="6" fill="#333"/></g><rect width="540.7" height="379" fill="#000" opacity="0.24"/><rect width="540.7" height="379" filter="url(#rock)" style="mix-blend-mode:overlay" opacity="1"/><path d="M22 142q6 -12 -11 22q-8 4 -2 -2M69 108q-11 -7 -21 -10q-3 11 -5 -17q-7 14 -19 5M13 7q5 -0 7 18q2 -10 -19 20M84 18q-1 2 -2 3q10 -2 -15 4q1 -5 -6 6q-0 3 -8 -6M61 9q12 1 -7 18q-6 -8 -21 -11q-6 6 -4 7q-11 12 15 -21M18 5q-4 -9 -3 -12q-3 -2 -4 4q-6 -11 -18 -17M18 112q6 13 -19 -21q-10 -3 3 11q-4 13 -22 15M4 234q-9 -5 -3 -17q-8 -8 14 13q-3 -11 10 7q6 0 -18 19M98 55q-8 -2 -17 10q6 3 -21 -6M63 117q7 0 9 -13q-8 1 11 6q-14 3 18 11q12 13 -12 -9M117 44q10 0 6 20q8 -6 15 -13q-4 13 15 -8q-6 3 15 8M99 73q5 -9 14 0q-12 -9 -0 16q14 8 5 14M33 99q-6 11 -4 -6q13 8 11 -11q9 3 15 -6M48 147q-9 2 -3 -20q11 -13 -14 -10q-11 -1 7 -10q2 -10 -6 21M19 15q10 4 -6 14q9 6 4 -8M89 116q1 -11 10 -7q-10 -7 -5 -3M6 84q12 -5 -13 20q-12 8 -14 -14q4 -6 -11 0M34 355q12 -10 -8 -4q-9 7 -19 17M50 112q5 7 -6 3q6 10 10 12q-9 -7 20 15q9 -6 6 0M97 68q7 9 6 -17q-3 -13 -6 20q-4 6 5 -16M5 70q13 7 15 3q2 11 -6 0q14 6 -6 21q-11 -5 -18 15M29 218q7 -2 11 7q7 12 7 7q-12 13 0 -1M67 36q-7 -13 -3 -9q5 -1 -9 -4q-0 4 -18 18q-2 -10 21 -17M43 69q1 6 -14 -16q9 -12 13 11M9 152q13 -14 -3 14q-5 -13 -22 -21M35 243q-13 -8 -8 -18q-7 10 16 8M29 374q9 -2 -17 0q-12 4 12 13q6 12 -3 -20q-3 5 22 -9M38 19q-3 5 -10 1q3 -3 -13 8M11 306q14 12 22 -15q9 -7 18 -3q11 9 2 -0q-1 3 -6 -16M28 84q3 -9 -11 -12q6 3 -13 8q2 -7 -2 22" fill="none" stroke="#fff" stroke-opacity="0.6" stroke-width="2" stroke-linecap="round" filter="url(#b08)"/></g>
<text x="2925" y="811.9" font-size="66.7" fill="#fff" stroke="#fff" stroke-width="1.5">PECS38-0 day</text>
<text x="3488" y="810.5" font-size="66.4" fill="#fff" stroke="#fff" stroke-width="1.5">PECS38-1 day</text>
<text x="2913" y="1228.4" font-size="66.5" fill="#fff" stroke="#fff" stroke-width="1.5">PECS38-2 days</text>
<text x="3472.7" y="1228.4" font-size="66" fill="#fff" stroke="#fff" stroke-width="1.5">PECS38-3 days</text>
<text x="2903.4" y="1872.2" font-size="65.2" fill="#fff" stroke="#fff" stroke-width="1.5">PECS38-0 week</text>
<text x="3443" y="1872.2" font-size="64.7" fill="#fff" stroke="#fff" stroke-width="1.5">PECS38-8 weeks</text>
<text x="2847.7" y="2278.6" font-size="65.1" fill="#fff" stroke="#fff" stroke-width="1.5">PECS38-16 weeks</text>
<text x="3408.9" y="2278.6" font-size="65.3" fill="#fff" stroke="#fff" stroke-width="1.5">PECS38-24 weeks</text>
<text x="2830.3" y="1069" font-size="66.8" fill="#fff" stroke="#fff" stroke-width="1.5">10 μm</text>
<rect x="2895" y="1102.7" width="44" height="4.8" fill="#fff"/>
<text x="3401.2" y="1068.3" font-size="66.7" fill="#fff" stroke="#fff" stroke-width="1.5">10 μm</text>
<rect x="3466.8" y="1102" width="44.7" height="4.8" fill="#fff"/>
<text x="2829.1" y="1486.2" font-size="67.4" fill="#fff" stroke="#fff" stroke-width="1.5">10 μm</text>
<rect x="2895.8" y="1520" width="43.2" height="4.8" fill="#fff"/>
<text x="3400.6" y="1486.2" font-size="67.1" fill="#fff" stroke="#fff" stroke-width="1.5">10 μm</text>
<rect x="3466.7" y="1520" width="43.7" height="4.8" fill="#fff"/>
<text x="2828.1" y="2125" font-size="66" fill="#fff" stroke="#fff" stroke-width="1.5">10 μm</text>
<rect x="2894" y="2159" width="42.7" height="4.8" fill="#fff"/>
<text x="3391.6" y="2125" font-size="65.1" fill="#fff" stroke="#fff" stroke-width="1.5">10 μm</text>
<rect x="3455.3" y="2159" width="42.7" height="4.8" fill="#fff"/>
<text x="2828.1" y="2532.8" font-size="66" fill="#fff" stroke="#fff" stroke-width="1.5">10 μm</text>
<rect x="2894" y="2568.4" width="42.7" height="4.8" fill="#fff"/>
<text x="3391.6" y="2532.8" font-size="65.1" fill="#fff" stroke="#fff" stroke-width="1.5">10 μm</text>
<rect x="3455.3" y="2568.4" width="42.7" height="4.8" fill="#fff"/>
</svg></body></html>
